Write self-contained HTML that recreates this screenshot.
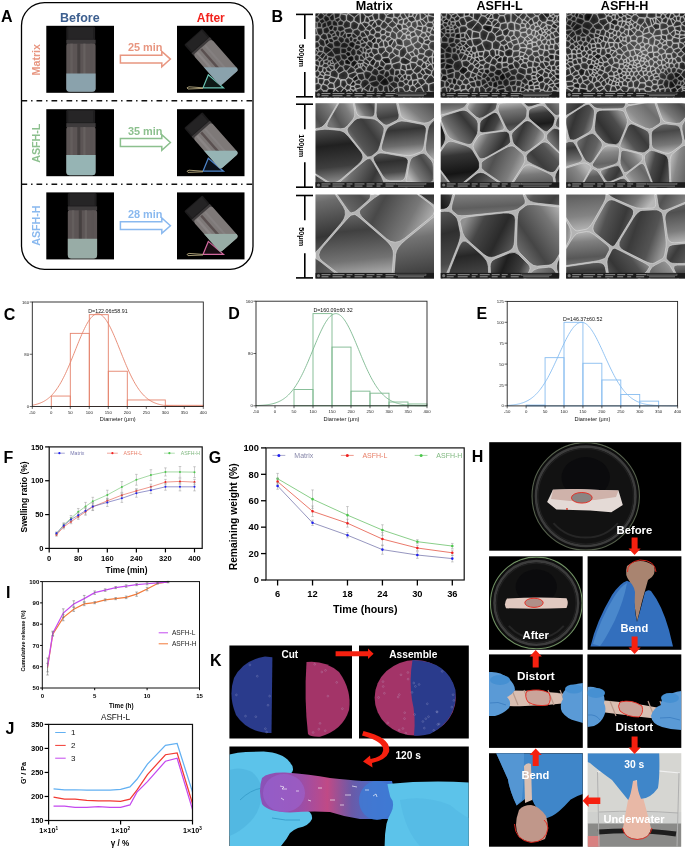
<!DOCTYPE html>
<html><head><meta charset="utf-8"><style>
html,body{margin:0;padding:0;background:#fff;width:685px;height:848px;overflow:hidden}
svg{display:block;will-change:transform}
text{font-family:"Liberation Sans", sans-serif}
</style></head><body>
<svg width="685" height="848" viewBox="0 0 685 848">
<text x="0.90" y="21.90" font-size="16" fill="#000" font-weight="bold" text-anchor="start">A</text>
<text x="271.50" y="21.80" font-size="16" fill="#000" font-weight="bold" text-anchor="start">B</text>
<text x="3.80" y="320.30" font-size="16" fill="#000" font-weight="bold" text-anchor="start">C</text>
<text x="228.20" y="319.30" font-size="16" fill="#000" font-weight="bold" text-anchor="start">D</text>
<text x="476.60" y="319.30" font-size="16" fill="#000" font-weight="bold" text-anchor="start">E</text>
<text x="3.60" y="462.50" font-size="16" fill="#000" font-weight="bold" text-anchor="start">F</text>
<text x="208.80" y="463.00" font-size="16" fill="#000" font-weight="bold" text-anchor="start">G</text>
<text x="471.80" y="461.90" font-size="16" fill="#000" font-weight="bold" text-anchor="start">H</text>
<text x="6.00" y="597.70" font-size="16" fill="#000" font-weight="bold" text-anchor="start">I</text>
<text x="5.50" y="733.60" font-size="16" fill="#000" font-weight="bold" text-anchor="start">J</text>
<text x="210.00" y="666.00" font-size="16" fill="#000" font-weight="bold" text-anchor="start">K</text>
<rect x="21.5" y="2.6" width="231.5" height="266.7" rx="23" ry="23" fill="none" stroke="#000" stroke-width="1.3"/>
<line x1="21.50" y1="100.80" x2="253.00" y2="100.80" stroke="#111" stroke-width="1.6" stroke-dasharray="5.7 3.9 1.4 4"/>
<line x1="21.50" y1="184.30" x2="253.00" y2="184.30" stroke="#111" stroke-width="1.6" stroke-dasharray="5.7 3.9 1.4 4"/>
<text x="79.80" y="21.80" font-size="12.5" fill="#3d5f8f" font-weight="bold" text-anchor="middle">Before</text>
<text x="210.80" y="21.80" font-size="12" fill="#f2231d" font-weight="bold" text-anchor="middle">After</text>
<text x="40.10" y="59.70" font-size="10.7" fill="#e89680" font-weight="bold" text-anchor="middle" transform="rotate(-90 40.099999999999994 59.7)">Matrix</text>
<path d="M120.4,55.2 L161.8,55.2 L161.8,51.4 L170.4,59.1 L161.8,66.8 L161.8,63.0 L120.4,63.0Z" fill="#fff" stroke="#e89680" stroke-width="1.5"/>
<text x="145.20" y="51.40" font-size="10.9" fill="#e89680" font-weight="bold" text-anchor="middle">25 min</text>
<rect x="46.30" y="25.80" width="67.70" height="67.00" fill="#000"/>
<rect x="66.30" y="26.40" width="28.80" height="13.5" rx="1.5" fill="#1e1d1e"/>
<rect x="68.30" y="27.40" width="24.80" height="11.5" fill="#262526"/>
<rect x="66.30" y="42.60" width="29.30" height="49.20" rx="3.5" fill="#5c5555"/>
<rect x="66.30" y="39.70" width="29.30" height="4" fill="#3e3b3c"/>
<rect x="70.30" y="43.60" width="2.5" height="47.20" fill="#66605f" opacity="0.8"/>
<rect x="77.30" y="43.60" width="3" height="47.20" fill="#403b3b" opacity="0.8"/>
<rect x="83.30" y="43.60" width="2.2" height="47.20" fill="#6a6463" opacity="0.8"/>
<rect x="90.30" y="43.60" width="2" height="47.20" fill="#5a5454" opacity="0.8"/>
<path d="M66.30,73.40 H95.60 V88.30 Q95.60,91.80 92.10,91.80 H69.80 Q66.30,91.80 66.30,88.30Z" fill="#8aa2ac"/>
<rect x="177.00" y="25.80" width="67.50" height="67.00" fill="#000"/>
<path d="M208.3,74.8 L203.0,87.8 L223.5,87.8Z" fill="#6cc4b4" fill-opacity="0.12" stroke="#6cc4b4" stroke-width="1.2"/>
<path d="M203.0,87.8 L189.0,86.8 Q185.5,87.8 188.0,89.0 L203.0,88.4" fill="none" stroke="#b8aa80" stroke-width="0.9"/>
<clipPath id="cv1"><rect x="-14.4" y="-16.4" width="28.9" height="49.2" rx="3.5" transform="translate(211.30,57.30) rotate(-41.4) scale(0.84)"/></clipPath>
<g transform="translate(211.30,57.30) rotate(-41.4) scale(0.84)">
<rect x="-14.4" y="-32.6" width="28.8" height="13.5" rx="1.5" fill="#1c1b1c"/>
<rect x="-12.4" y="-31.6" width="24.8" height="11.5" fill="#242324"/>
<rect x="-14.4" y="-19.3" width="28.9" height="4" fill="#3e3b3c"/>
<rect x="-14.4" y="-16.4" width="28.9" height="49.2" rx="3.5" fill="#7e7978"/>
<rect x="-10.4" y="-15.4" width="3" height="47" fill="#8a8585"/>
<rect x="-4" y="-15.4" width="3" height="47" fill="#5a5050"/>
<rect x="2.6" y="-15.4" width="2.5" height="47" fill="#858080"/>
</g>
<rect x="177.0" y="67.3" width="67.5" height="30" fill="#8aa2ac" clip-path="url(#cv1)"/>
<text x="40.10" y="143.20" font-size="10.7" fill="#8cc08e" font-weight="bold" text-anchor="middle" transform="rotate(-90 40.099999999999994 143.2)">ASFH-L</text>
<path d="M120.4,138.6 L161.8,138.6 L161.8,134.8 L170.4,142.5 L161.8,150.2 L161.8,146.4 L120.4,146.4Z" fill="#fff" stroke="#8cc08e" stroke-width="1.5"/>
<text x="145.20" y="134.80" font-size="10.9" fill="#8cc08e" font-weight="bold" text-anchor="middle">35 min</text>
<rect x="46.30" y="109.20" width="67.70" height="67.00" fill="#000"/>
<rect x="66.30" y="109.80" width="28.80" height="13.5" rx="1.5" fill="#1e1d1e"/>
<rect x="68.30" y="110.80" width="24.80" height="11.5" fill="#262526"/>
<rect x="66.30" y="126.00" width="29.30" height="49.20" rx="3.5" fill="#5c5555"/>
<rect x="66.30" y="123.10" width="29.30" height="4" fill="#3e3b3c"/>
<rect x="70.30" y="127.00" width="2.5" height="47.20" fill="#66605f" opacity="0.8"/>
<rect x="77.30" y="127.00" width="3" height="47.20" fill="#403b3b" opacity="0.8"/>
<rect x="83.30" y="127.00" width="2.2" height="47.20" fill="#6a6463" opacity="0.8"/>
<rect x="90.30" y="127.00" width="2" height="47.20" fill="#5a5454" opacity="0.8"/>
<path d="M66.30,155.00 H95.60 V171.70 Q95.60,175.20 92.10,175.20 H69.80 Q66.30,175.20 66.30,171.70Z" fill="#96b4b4"/>
<rect x="177.00" y="109.20" width="67.50" height="67.00" fill="#000"/>
<path d="M208.3,158.2 L203.0,171.2 L223.5,171.2Z" fill="#4f86cc" fill-opacity="0.12" stroke="#4f86cc" stroke-width="1.2"/>
<path d="M203.0,171.2 L189.0,170.2 Q185.5,171.2 188.0,172.4 L203.0,171.8" fill="none" stroke="#b8aa80" stroke-width="0.9"/>
<clipPath id="cv2"><rect x="-14.4" y="-16.4" width="28.9" height="49.2" rx="3.5" transform="translate(211.30,140.70) rotate(-41.4) scale(0.84)"/></clipPath>
<g transform="translate(211.30,140.70) rotate(-41.4) scale(0.84)">
<rect x="-14.4" y="-32.6" width="28.8" height="13.5" rx="1.5" fill="#1c1b1c"/>
<rect x="-12.4" y="-31.6" width="24.8" height="11.5" fill="#242324"/>
<rect x="-14.4" y="-19.3" width="28.9" height="4" fill="#3e3b3c"/>
<rect x="-14.4" y="-16.4" width="28.9" height="49.2" rx="3.5" fill="#7e7978"/>
<rect x="-10.4" y="-15.4" width="3" height="47" fill="#8a8585"/>
<rect x="-4" y="-15.4" width="3" height="47" fill="#5a5050"/>
<rect x="2.6" y="-15.4" width="2.5" height="47" fill="#858080"/>
</g>
<rect x="177.0" y="150.7" width="67.5" height="30" fill="#96b4b4" clip-path="url(#cv2)"/>
<text x="40.10" y="225.60" font-size="10.7" fill="#8ab9ef" font-weight="bold" text-anchor="middle" transform="rotate(-90 40.099999999999994 225.6)">ASFH-H</text>
<path d="M120.4,221.8 L161.8,221.8 L161.8,218.0 L170.4,225.7 L161.8,233.4 L161.8,229.6 L120.4,229.6Z" fill="#fff" stroke="#8ab9ef" stroke-width="1.5"/>
<text x="145.20" y="218.00" font-size="10.9" fill="#8ab9ef" font-weight="bold" text-anchor="middle">28 min</text>
<rect x="46.30" y="192.40" width="67.70" height="67.00" fill="#000"/>
<rect x="67.80" y="193.00" width="28.80" height="13.5" rx="1.5" fill="#1e1d1e"/>
<rect x="69.80" y="194.00" width="24.80" height="11.5" fill="#262526"/>
<rect x="67.80" y="209.20" width="29.30" height="49.20" rx="3.5" fill="#5c5555"/>
<rect x="67.80" y="206.30" width="29.30" height="4" fill="#3e3b3c"/>
<rect x="71.80" y="210.20" width="2.5" height="47.20" fill="#66605f" opacity="0.8"/>
<rect x="78.80" y="210.20" width="3" height="47.20" fill="#403b3b" opacity="0.8"/>
<rect x="84.80" y="210.20" width="2.2" height="47.20" fill="#6a6463" opacity="0.8"/>
<rect x="91.80" y="210.20" width="2" height="47.20" fill="#5a5454" opacity="0.8"/>
<path d="M67.80,238.80 H97.10 V254.90 Q97.10,258.40 93.60,258.40 H71.30 Q67.80,258.40 67.80,254.90Z" fill="#98aca6"/>
<rect x="177.00" y="192.40" width="67.50" height="67.00" fill="#000"/>
<path d="M208.3,241.4 L203.0,254.4 L223.5,254.4Z" fill="#d46aa0" fill-opacity="0.12" stroke="#d46aa0" stroke-width="1.2"/>
<path d="M203.0,254.4 L189.0,253.4 Q185.5,254.4 188.0,255.6 L203.0,255.0" fill="none" stroke="#b8aa80" stroke-width="0.9"/>
<clipPath id="cv3"><rect x="-14.4" y="-16.4" width="28.9" height="49.2" rx="3.5" transform="translate(211.30,223.90) rotate(-41.4) scale(0.84)"/></clipPath>
<g transform="translate(211.30,223.90) rotate(-41.4) scale(0.84)">
<rect x="-14.4" y="-32.6" width="28.8" height="13.5" rx="1.5" fill="#1c1b1c"/>
<rect x="-12.4" y="-31.6" width="24.8" height="11.5" fill="#242324"/>
<rect x="-14.4" y="-19.3" width="28.9" height="4" fill="#3e3b3c"/>
<rect x="-14.4" y="-16.4" width="28.9" height="49.2" rx="3.5" fill="#7e7978"/>
<rect x="-10.4" y="-15.4" width="3" height="47" fill="#8a8585"/>
<rect x="-4" y="-15.4" width="3" height="47" fill="#5a5050"/>
<rect x="2.6" y="-15.4" width="2.5" height="47" fill="#858080"/>
</g>
<rect x="177.0" y="233.9" width="67.5" height="30" fill="#98aca6" clip-path="url(#cv3)"/>
<defs><radialGradient id="sg1" cx="0.5" cy="0.55" r="0.6"><stop offset="0" stop-color="#202020"/><stop offset="0.7" stop-color="#3a3a3a"/><stop offset="1" stop-color="#808080"/></radialGradient><radialGradient id="sg1d" cx="0.5" cy="0.5" r="0.6"><stop offset="0" stop-color="#080808"/><stop offset="0.7" stop-color="#262626"/><stop offset="1" stop-color="#777"/></radialGradient><linearGradient id="sl0" x1="0.04" y1="0.31" x2="0.96" y2="0.69"><stop offset="0" stop-color="#b8b8b8"/><stop offset="0.3" stop-color="#6a6a6a"/><stop offset="0.75" stop-color="#303030"/><stop offset="1" stop-color="#5a5a5a"/></linearGradient><linearGradient id="sl0d" x1="0.04" y1="0.31" x2="0.96" y2="0.69"><stop offset="0" stop-color="#8a8a8a"/><stop offset="0.3" stop-color="#303030"/><stop offset="0.7" stop-color="#0e0e0e"/><stop offset="1" stop-color="#404040"/></linearGradient><linearGradient id="sl1" x1="0.44" y1="0.00" x2="0.56" y2="1.00"><stop offset="0" stop-color="#b8b8b8"/><stop offset="0.3" stop-color="#6a6a6a"/><stop offset="0.75" stop-color="#303030"/><stop offset="1" stop-color="#5a5a5a"/></linearGradient><linearGradient id="sl1d" x1="0.44" y1="0.00" x2="0.56" y2="1.00"><stop offset="0" stop-color="#8a8a8a"/><stop offset="0.3" stop-color="#303030"/><stop offset="0.7" stop-color="#0e0e0e"/><stop offset="1" stop-color="#404040"/></linearGradient><linearGradient id="sl2" x1="0.90" y1="0.20" x2="0.10" y2="0.80"><stop offset="0" stop-color="#b8b8b8"/><stop offset="0.3" stop-color="#6a6a6a"/><stop offset="0.75" stop-color="#303030"/><stop offset="1" stop-color="#5a5a5a"/></linearGradient><linearGradient id="sl2d" x1="0.90" y1="0.20" x2="0.10" y2="0.80"><stop offset="0" stop-color="#8a8a8a"/><stop offset="0.3" stop-color="#303030"/><stop offset="0.7" stop-color="#0e0e0e"/><stop offset="1" stop-color="#404040"/></linearGradient><linearGradient id="sl3" x1="0.96" y1="0.69" x2="0.04" y2="0.31"><stop offset="0" stop-color="#b8b8b8"/><stop offset="0.3" stop-color="#6a6a6a"/><stop offset="0.75" stop-color="#303030"/><stop offset="1" stop-color="#5a5a5a"/></linearGradient><linearGradient id="sl3d" x1="0.96" y1="0.69" x2="0.04" y2="0.31"><stop offset="0" stop-color="#8a8a8a"/><stop offset="0.3" stop-color="#303030"/><stop offset="0.7" stop-color="#0e0e0e"/><stop offset="1" stop-color="#404040"/></linearGradient><linearGradient id="sl4" x1="0.56" y1="1.00" x2="0.44" y2="0.00"><stop offset="0" stop-color="#b8b8b8"/><stop offset="0.3" stop-color="#6a6a6a"/><stop offset="0.75" stop-color="#303030"/><stop offset="1" stop-color="#5a5a5a"/></linearGradient><linearGradient id="sl4d" x1="0.56" y1="1.00" x2="0.44" y2="0.00"><stop offset="0" stop-color="#8a8a8a"/><stop offset="0.3" stop-color="#303030"/><stop offset="0.7" stop-color="#0e0e0e"/><stop offset="1" stop-color="#404040"/></linearGradient><linearGradient id="sl5" x1="0.10" y1="0.80" x2="0.90" y2="0.20"><stop offset="0" stop-color="#b8b8b8"/><stop offset="0.3" stop-color="#6a6a6a"/><stop offset="0.75" stop-color="#303030"/><stop offset="1" stop-color="#5a5a5a"/></linearGradient><linearGradient id="sl5d" x1="0.10" y1="0.80" x2="0.90" y2="0.20"><stop offset="0" stop-color="#8a8a8a"/><stop offset="0.3" stop-color="#303030"/><stop offset="0.7" stop-color="#0e0e0e"/><stop offset="1" stop-color="#404040"/></linearGradient><radialGradient id="ovd"><stop offset="0" stop-color="#000" stop-opacity="0.45"/><stop offset="1" stop-color="#000" stop-opacity="0"/></radialGradient><radialGradient id="ovl"><stop offset="0" stop-color="#fff" stop-opacity="0.22"/><stop offset="1" stop-color="#fff" stop-opacity="0"/></radialGradient></defs>
<text x="374.20" y="10.00" font-size="12.6" fill="#000" font-weight="bold" text-anchor="middle">Matrix</text>
<text x="499.60" y="10.00" font-size="12.6" fill="#000" font-weight="bold" text-anchor="middle">ASFH-L</text>
<text x="624.60" y="10.00" font-size="12.6" fill="#000" font-weight="bold" text-anchor="middle">ASFH-H</text>
<clipPath id="semc11"><rect x="315.50" y="13.40" width="118.50" height="84.00"/></clipPath>
<g clip-path="url(#semc11)">
<rect x="315.50" y="13.40" width="118.50" height="84.00" fill="#3a3a3a"/>
<g stroke="#f0f0f0" stroke-width="0.55" stroke-opacity="0.9"><path d="M326.9,71.4L324.9,73.1L325.1,74.6L329.9,75.3L330.1,72.3Z" fill="url(#sg1)" fill-opacity="0.71"/><path d="M373.1,58.5L376.1,61.0L373.3,66.2L369.9,64.2L370.1,62.1Z" fill="url(#sg1d)" fill-opacity="0.78"/><path d="M388.6,70.8L385.6,70.9L383.9,75.3L384.9,77.3L386.5,77.7L389.9,75.1Z" fill="url(#sg1)" fill-opacity="1.00"/><path d="M313.0,41.9L313.6,42.4L313.0,45.4Z" fill="url(#sg1)" fill-opacity="0.72"/><path d="M329.7,42.3L333.0,42.8L333.7,41.0L331.9,38.2L328.3,39.0Z" fill="url(#sg1)" fill-opacity="0.97"/><path d="M430.8,63.9L431.7,64.1L432.4,63.2L432.1,56.5L432.1,56.5L428.7,57.7L428.2,60.1Z" fill="url(#sg1)" fill-opacity="0.70"/><path d="M322.9,51.9L319.4,51.6L318.0,52.4L316.9,54.7L319.6,56.1L323.2,52.4Z" fill="url(#sg1)" fill-opacity="0.96"/><path d="M325.0,74.9L329.9,75.6L330.3,76.6L328.1,79.3L324.6,79.5L324.0,78.5L324.1,76.4Z" fill="url(#sg1)" fill-opacity="0.77"/><path d="M428.9,91.5L424.9,93.4L422.3,98.9L423.3,99.8L436.3,99.8L436.2,97.8L434.4,92.7Z" fill="url(#sg1)" fill-opacity="0.97"/><path d="M387.8,85.6L389.2,91.8L390.3,92.2L393.2,90.5L394.1,88.8L389.3,84.3Z" fill="url(#sg1)" fill-opacity="0.81"/><path d="M358.6,49.1L360.6,46.9L360.2,45.2L355.6,44.4L354.0,48.2L356.2,49.9Z" fill="url(#sg1)" fill-opacity="1.00"/><path d="M373.4,43.8L373.0,47.7L377.6,48.8L378.9,47.2L378.2,44.0L376.1,42.9Z" fill="url(#sg1)" fill-opacity="0.95"/><path d="M399.2,93.9L403.6,97.0L403.8,98.2L401.8,99.7L396.8,99.7L393.9,98.1L396.3,94.1Z" fill="url(#sg1)" fill-opacity="0.92"/><path d="M346.1,48.1L348.5,45.9L348.1,44.0L344.2,42.1L341.3,43.7L340.3,46.9L341.0,47.9Z" fill="url(#sg1)" fill-opacity="0.88"/><path d="M324.6,79.9L323.3,83.9L327.2,85.5L329.5,82.5L328.1,79.7Z" fill="url(#sg1)" fill-opacity="0.72"/><path d="M414.6,18.4L412.3,16.4L409.1,16.8L407.6,18.0L409.1,20.6L411.6,22.2L415.4,20.5Z" fill="url(#sg1d)" fill-opacity="0.81"/><path d="M398.8,55.8L399.3,50.7L394.7,48.4L393.5,48.8L392.7,52.1L396.3,55.3Z" fill="url(#sg1)" fill-opacity="0.92"/><path d="M373.4,57.9L374.4,55.5L378.6,53.5L380.9,54.9L381.9,57.9L381.3,59.7L379.6,60.9L376.5,60.6L373.4,58.2Z" fill="url(#sg1)" fill-opacity="0.76"/><path d="M418.0,82.2L414.3,85.6L416.7,88.5L420.9,86.6L421.2,85.9Z" fill="url(#sg1)" fill-opacity="0.84"/><path d="M377.6,87.1L378.5,90.8L380.7,91.7L383.1,90.7L383.5,86.2L379.9,84.2Z" fill="url(#sg1)" fill-opacity="0.76"/><path d="M436.4,25.7L433.8,25.3L432.8,22.2L435.4,17.5L436.4,16.9Z" fill="url(#sg1)" fill-opacity="0.90"/><path d="M334.7,64.2L334.2,66.0L334.5,69.4L336.1,70.1L339.6,65.6L338.0,62.7L337.6,62.6Z" fill="url(#sg1)" fill-opacity="1.00"/><path d="M378.9,71.0L376.9,68.5L379.6,65.7L383.5,67.6L383.7,68.8Z" fill="url(#sg1d)" fill-opacity="0.83"/><path d="M369.4,24.7L368.8,23.0L370.0,21.0L373.9,20.2L374.9,20.8L371.3,25.7Z" fill="url(#sg1)" fill-opacity="0.90"/><path d="M355.7,89.1L361.1,87.4L360.2,84.9L355.9,84.2L354.6,86.4Z" fill="url(#sg1)" fill-opacity="0.80"/><path d="M390.3,59.9L388.4,57.5L382.4,58.0L381.8,59.8L385.9,63.8L390.8,63.5Z" fill="url(#sg1d)" fill-opacity="0.87"/><path d="M344.3,96.7L344.8,99.8L338.7,99.7L338.3,97.8L340.6,95.6Z" fill="url(#sg1)" fill-opacity="0.74"/><path d="M415.7,28.6L415.2,28.9L411.4,25.9L411.8,22.6L415.6,20.9L416.7,21.3L417.3,25.8Z" fill="url(#sg1)" fill-opacity="0.95"/><path d="M421.9,59.5L424.7,55.9L423.8,54.2L419.2,53.7L417.4,56.1L418.4,59.1Z" fill="url(#sg1)" fill-opacity="0.90"/><path d="M324.5,40.2L320.6,38.0L320.5,36.1L323.3,33.6L326.4,34.1L327.7,38.7Z" fill="url(#sg1)" fill-opacity="1.00"/><path d="M368.7,65.2L369.7,64.6L373.1,66.6L374.0,68.1L371.1,72.0L366.0,70.4L366.8,67.7Z" fill="url(#sg1)" fill-opacity="0.95"/><path d="M344.9,64.4L350.3,65.3L350.6,66.3L346.5,71.0L344.6,70.3L343.2,66.5Z" fill="url(#sg1)" fill-opacity="0.86"/><path d="M323.3,52.6L319.8,56.3L320.0,57.1L322.4,59.1L325.9,54.2Z" fill="url(#sg1)" fill-opacity="0.95"/><path d="M426.7,36.4L423.7,38.2L424.6,40.4L428.7,39.3L428.3,37.0Z" fill="url(#sg1)" fill-opacity="0.88"/><path d="M365.6,52.9L363.3,53.0L362.8,53.3L361.7,54.9L364.6,58.7L365.5,58.4L365.9,57.9L365.6,52.9Z" fill="url(#sg1)" fill-opacity="0.86"/><path d="M329.5,42.7L332.9,43.2L333.7,47.0L331.7,49.2L325.9,45.6L325.9,45.6Z" fill="url(#sg1)" fill-opacity="0.96"/><path d="M394.6,88.9L398.0,87.4L399.0,93.4L396.1,93.7L393.7,90.6Z" fill="url(#sg1)" fill-opacity="0.68"/><path d="M340.5,53.5L340.5,48.2L339.9,47.2L334.2,47.3L332.1,49.5L332.0,50.2L335.1,54.9L340.0,54.1Z" fill="url(#sg1)" fill-opacity="0.68"/><path d="M432.0,56.1L433.4,51.2L429.3,49.2L425.7,50.7L424.2,54.0L425.1,55.7L428.5,57.2Z" fill="url(#sg1)" fill-opacity="0.85"/><path d="M338.4,36.8L336.4,35.3L335.3,32.5L335.4,32.0L337.4,30.6L340.0,32.0L339.4,36.1Z" fill="url(#sg1)" fill-opacity="0.96"/><path d="M317.5,34.4L313.1,35.0L313.1,28.4L316.0,28.6Z" fill="url(#sg1)" fill-opacity="0.88"/><path d="M338.2,99.8L337.8,97.9L335.4,98.1L334.2,99.8Z" fill="url(#sg1)" fill-opacity="1.00"/><path d="M356.9,37.9L357.3,36.6L352.8,32.8L352.3,33.3L351.7,35.9L353.2,38.2Z" fill="url(#sg1)" fill-opacity="0.87"/><path d="M373.9,87.6L372.6,91.8L369.1,91.2L371.0,85.9Z" fill="url(#sg1)" fill-opacity="0.84"/><path d="M425.7,62.9L426.7,66.8L429.5,64.6Z" fill="url(#sg1)" fill-opacity="0.95"/><path d="M353.9,21.0L358.9,24.1L357.4,28.6L353.2,30.0L350.7,27.4L350.9,22.7Z" fill="url(#sg1)" fill-opacity="0.90"/><path d="M330.6,76.8L336.8,78.5L333.7,83.1L329.9,82.3L328.5,79.5Z" fill="url(#sg1)" fill-opacity="0.88"/><path d="M371.6,74.4L371.0,72.4L365.9,70.9L364.2,71.8L363.6,72.9L365.2,78.6L367.8,79.7Z" fill="url(#sg1)" fill-opacity="1.00"/><path d="M396.8,75.9L399.6,78.7L402.1,75.7L402.1,75.6L400.0,73.8Z" fill="url(#sg1)" fill-opacity="0.88"/><path d="M317.9,48.0L314.8,48.7L317.7,52.1L319.1,51.2Z" fill="url(#sg1)" fill-opacity="0.91"/><path d="M314.1,71.9L313.2,71.4L313.3,68.4L315.2,65.1L318.5,66.5L317.5,70.3Z" fill="url(#sg1d)" fill-opacity="0.89"/><path d="M421.4,31.1L415.9,29.1L415.4,29.4L414.7,31.6L416.6,35.3L418.3,36.5L419.7,35.9L421.9,32.5Z" fill="url(#sg1)" fill-opacity="0.70"/><path d="M353.4,67.7L351.0,66.5L346.8,71.2L348.5,74.2L355.2,71.5L355.0,69.7Z" fill="url(#sg1)" fill-opacity="0.73"/><path d="M356.0,54.2L355.9,50.3L353.7,48.5L352.7,48.6L350.5,52.0L351.3,55.2L353.8,56.0Z" fill="url(#sg1)" fill-opacity="0.73"/><path d="M323.4,91.1L320.8,88.7L316.7,91.0L319.7,95.1L321.9,94.8Z" fill="url(#sg1)" fill-opacity="0.85"/><path d="M329.0,32.9L331.4,34.6L334.8,32.4L334.9,31.8L332.5,30.4L330.0,30.7Z" fill="url(#sg1)" fill-opacity="0.91"/><path d="M313.0,86.6L313.7,84.5L313.0,83.0Z" fill="url(#sg1)" fill-opacity="0.99"/><path d="M420.9,99.8L422.8,99.8L422.0,99.2L421.9,99.3Z" fill="url(#sg1)" fill-opacity="0.64"/><path d="M368.4,91.9L369.0,91.6L372.5,92.3L374.1,94.3L370.0,99.4L367.0,97.4Z" fill="url(#sg1)" fill-opacity="0.82"/><path d="M326.4,98.0L328.0,98.9L328.6,99.8L324.2,99.8L325.6,98.2Z" fill="url(#sg1d)" fill-opacity="1.00"/><path d="M405.7,24.0L403.3,23.8L403.9,19.5L406.8,18.1L407.2,18.2L408.6,20.8Z" fill="url(#sg1)" fill-opacity="1.00"/><path d="M337.3,26.2L337.9,25.7L337.2,22.4L334.4,20.3L332.2,21.3L332.3,24.7L333.9,25.9Z" fill="url(#sg1)" fill-opacity="0.94"/><path d="M322.6,28.8L321.5,27.8L317.3,27.9L316.3,28.5L317.8,34.3L320.2,35.7L323.0,33.2Z" fill="url(#sg1)" fill-opacity="1.00"/><path d="M387.7,42.0L384.9,40.5L383.3,40.9L384.2,46.6L385.5,47.5L388.6,45.8Z" fill="url(#sg1)" fill-opacity="0.80"/><path d="M426.4,23.2L428.2,21.8L427.2,16.3L426.7,16.2L422.7,19.4Z" fill="url(#sg1)" fill-opacity="0.71"/><path d="M339.7,93.3L335.0,89.2L334.8,89.2L332.7,94.0L333.3,95.9L335.2,97.7L337.9,97.6L340.3,95.3Z" fill="url(#sg1)" fill-opacity="0.84"/><path d="M325.4,45.5L325.4,45.5L323.5,46.6L320.3,45.4L318.4,41.6L320.4,38.4L324.4,40.7Z" fill="url(#sg1)" fill-opacity="0.89"/><path d="M347.2,51.3L350.1,51.8L352.4,48.4L348.8,46.2L346.5,48.4Z" fill="url(#sg1)" fill-opacity="0.98"/><path d="M404.4,79.3L402.6,75.7L402.6,75.6L405.6,74.2L406.8,75.1L406.1,78.7Z" fill="url(#sg1)" fill-opacity="0.94"/><path d="M377.1,86.8L374.1,87.2L371.2,85.5L369.7,83.4L369.7,82.4L376.8,80.5L379.3,82.6L379.6,83.9Z" fill="url(#sg1)" fill-opacity="0.89"/><path d="M417.7,41.5L413.1,44.6L415.1,47.9L418.0,49.1L421.3,47.0L421.9,44.3Z" fill="url(#sg1)" fill-opacity="0.86"/><path d="M337.7,62.1L338.1,62.2L341.4,59.1L340.1,54.6L335.2,55.3L334.4,57.2Z" fill="url(#sg1)" fill-opacity="0.63"/><path d="M348.4,13.5L354.0,17.7L353.6,20.6L350.7,22.3L346.7,20.2L346.6,15.0Z" fill="url(#sg1)" fill-opacity="0.86"/><path d="M346.2,33.8L346.5,37.2L344.7,38.6L342.3,36.6L345.0,32.6Z" fill="url(#sg1)" fill-opacity="0.70"/><path d="M432.4,28.3L436.3,33.3L436.4,33.2L436.4,26.2L433.8,25.8L432.3,28.2Z" fill="url(#sg1)" fill-opacity="0.76"/><path d="M428.7,36.9L431.1,34.8L435.4,35.4L436.3,40.0L436.3,40.7L430.9,41.2L429.2,39.4Z" fill="url(#sg1)" fill-opacity="0.79"/><path d="M356.9,38.2L353.4,38.6L352.7,41.3L355.2,42.7L357.3,40.1Z" fill="url(#sg1)" fill-opacity="0.94"/><path d="M363.8,62.2L363.7,60.7L364.8,59.2L365.7,59.0L369.5,62.0L369.4,64.2L368.4,64.7Z" fill="url(#sg1)" fill-opacity="0.93"/><path d="M350.2,41.7L352.3,41.2L352.9,38.5L351.4,36.2L349.0,37.9Z" fill="url(#sg1)" fill-opacity="0.86"/><path d="M403.0,40.9L404.0,46.2L404.0,46.2L405.8,46.9L411.6,44.2L410.1,39.9L406.5,38.9Z" fill="url(#sg1)" fill-opacity="0.71"/><path d="M313.3,86.9L314.1,84.5L318.2,83.4L321.2,85.1L320.6,88.3L316.4,90.7L315.4,90.6L313.3,87.3Z" fill="url(#sg1)" fill-opacity="0.86"/><path d="M361.7,10.9L361.7,10.9L361.7,10.9Z" fill="url(#sg1)" fill-opacity="0.99"/><path d="M348.1,13.3L349.0,11.0L338.6,11.0L340.8,13.5L346.2,14.6Z" fill="url(#sg1)" fill-opacity="0.94"/><path d="M421.1,86.9L424.4,93.3L422.0,98.8L421.7,98.7L415.5,94.2L415.0,92.8L416.7,88.9Z" fill="url(#sg1)" fill-opacity="0.92"/><path d="M401.6,64.2L405.8,65.1L406.4,69.8L405.3,70.8L400.9,68.8Z" fill="url(#sg1)" fill-opacity="0.81"/><path d="M379.6,82.3L384.5,77.5L383.4,75.5L379.0,73.9L376.7,76.4L377.1,80.1Z" fill="url(#sg1)" fill-opacity="0.77"/><path d="M396.3,99.8L393.5,98.3L392.3,98.2L390.0,99.8Z" fill="url(#sg1)" fill-opacity="0.89"/><path d="M399.6,30.5L401.2,30.4L402.3,28.7L401.7,25.0L398.0,23.9L396.9,24.5L396.2,26.1Z" fill="url(#sg1d)" fill-opacity="0.98"/><path d="M407.5,99.6L404.2,98.1L404.1,96.9L405.8,92.4L409.5,90.5L414.5,92.9L415.0,94.2Z" fill="url(#sg1)" fill-opacity="0.83"/><path d="M430.0,32.3L431.9,28.3L431.9,28.2L427.5,27.7L426.9,31.3Z" fill="url(#sg1)" fill-opacity="0.90"/><path d="M331.6,59.9L329.8,60.7L328.9,60.7L327.8,59.5L327.9,56.6L333.2,57.6Z" fill="url(#sg1)" fill-opacity="0.99"/><path d="M394.9,70.0L394.1,75.4L393.7,75.7L390.3,74.9L389.0,70.7L392.1,67.4Z" fill="url(#sg1)" fill-opacity="0.78"/><path d="M327.6,85.7L328.7,88.2L334.3,88.6L333.6,83.5L329.8,82.8Z" fill="url(#sg1)" fill-opacity="0.83"/><path d="M367.1,36.4L369.8,34.2L369.5,31.3L365.6,29.7L363.9,31.6L367.1,36.4Z" fill="url(#sg1)" fill-opacity="0.70"/><path d="M408.9,52.6L407.5,52.1L406.1,47.3L411.8,44.5L412.7,44.8L414.7,48.1L412.7,51.3Z" fill="url(#sg1)" fill-opacity="0.76"/><path d="M427.2,15.8L428.2,15.2L429.1,11.1L421.1,11.0L426.7,15.7Z" fill="url(#sg1)" fill-opacity="0.66"/><path d="M409.9,35.0L411.0,37.8L410.2,39.5L406.8,38.5L406.5,35.4Z" fill="url(#sg1)" fill-opacity="0.84"/><path d="M313.3,99.6L313.3,99.9L318.5,99.9L317.5,99.2Z" fill="url(#sg1)" fill-opacity="0.96"/><path d="M356.8,92.3L355.3,94.6L357.3,97.1L357.4,97.1L359.7,93.3Z" fill="url(#sg1)" fill-opacity="0.90"/><path d="M333.4,63.2L330.9,63.3L330.1,61.1L331.8,60.2Z" fill="url(#sg1)" fill-opacity="0.87"/><path d="M328.0,93.6L332.3,93.8L334.5,89.0L334.3,88.9L328.7,88.6L326.8,91.0Z" fill="url(#sg1d)" fill-opacity="0.90"/><path d="M338.1,39.7L338.7,37.2L339.7,36.6L341.9,36.9L344.4,38.9L344.0,41.7L341.1,43.3Z" fill="url(#sg1)" fill-opacity="0.71"/><path d="M323.0,51.5L319.5,51.1L318.2,47.8L320.2,45.8L323.3,47.0Z" fill="url(#sg1)" fill-opacity="0.75"/><path d="M425.5,25.4L426.1,23.4L422.5,19.6L420.6,19.5L419.7,20.3L423.2,25.9Z" fill="url(#sg1)" fill-opacity="0.89"/><path d="M392.1,64.2L391.3,63.4L390.8,59.8L396.3,55.8L398.8,56.2L400.5,58.1L399.8,61.5Z" fill="url(#sg1)" fill-opacity="0.65"/><path d="M333.4,63.5L331.1,63.7L330.3,65.1L333.7,65.9L334.3,64.1Z" fill="url(#sg1)" fill-opacity="0.79"/><path d="M372.1,74.2L371.5,72.2L374.3,68.3L376.5,68.8L378.5,71.3L378.7,73.6L376.4,76.0Z" fill="url(#sg1)" fill-opacity="0.79"/><path d="M317.9,70.3L318.9,66.5L319.6,66.3L322.0,66.4L323.0,67.6L322.3,71.3L320.2,72.1Z" fill="url(#sg1)" fill-opacity="0.83"/><path d="M386.1,15.2L382.7,11.0L391.4,11.0L392.3,12.0Z" fill="url(#sg1)" fill-opacity="0.76"/><path d="M342.7,66.7L344.2,70.5L338.7,73.7L336.3,70.3L339.9,65.9Z" fill="url(#sg1)" fill-opacity="0.86"/><path d="M315.3,91.1L313.2,93.9L313.1,99.4L317.7,98.9L319.3,95.3L316.4,91.2Z" fill="url(#sg1)" fill-opacity="1.00"/><path d="M325.7,68.3L323.4,67.7L322.7,71.4L324.6,72.8L326.6,71.1Z" fill="url(#sg1)" fill-opacity="0.86"/><path d="M396.1,55.6L392.3,52.4L389.6,53.7L388.8,57.2L390.6,59.5Z" fill="url(#sg1)" fill-opacity="0.81"/><path d="M354.2,86.1L355.4,84.0L354.4,81.8L353.2,81.1L350.2,85.1L350.9,86.1Z" fill="url(#sg1d)" fill-opacity="0.91"/><path d="M395.7,25.9L396.5,24.3L392.4,20.9L388.2,24.3L388.5,25.5L392.3,28.1Z" fill="url(#sg1)" fill-opacity="0.89"/><path d="M355.5,89.7L356.5,92.1L355.0,94.2L352.6,93.8L353.6,90.7Z" fill="url(#sg1)" fill-opacity="0.66"/><path d="M331.5,50.2L331.6,49.5L325.7,45.9L323.7,47.1L323.4,51.7L323.7,52.2L326.2,53.8L326.3,53.8Z" fill="url(#sg1)" fill-opacity="1.00"/><path d="M353.2,90.6L352.3,93.8L351.8,94.1L349.5,90.1L350.5,89.3Z" fill="url(#sg1)" fill-opacity="0.84"/><path d="M361.9,39.1L359.9,40.8L357.7,39.9L357.3,38.0L357.8,36.8L359.9,35.6L362.2,37.8Z" fill="url(#sg1)" fill-opacity="0.72"/><path d="M429.8,64.8L430.7,64.5L431.6,64.6L433.4,69.2L431.8,71.1L426.5,68.0L426.9,67.0Z" fill="url(#sg1)" fill-opacity="0.57"/><path d="M327.1,85.9L328.2,88.3L326.4,90.8L323.8,90.7L321.1,88.3L321.6,85.1L323.1,84.3Z" fill="url(#sg1)" fill-opacity="0.94"/><path d="M323.6,76.3L320.0,74.5L317.7,77.3L318.3,78.1L323.5,78.5Z" fill="url(#sg1)" fill-opacity="0.93"/><path d="M381.6,60.1L379.9,61.3L379.7,65.3L383.7,67.2L385.6,64.0Z" fill="url(#sg1)" fill-opacity="1.00"/><path d="M428.7,15.3L429.5,11.1L436.3,11.1L436.3,16.5L435.3,17.0Z" fill="url(#sg1)" fill-opacity="0.71"/><path d="M397.7,18.1L400.2,15.7L402.2,18.9L398.7,20.3Z" fill="url(#sg1)" fill-opacity="0.99"/><path d="M317.4,60.2L319.9,57.5L322.2,59.4L322.2,59.6L319.7,61.5Z" fill="url(#sg1)" fill-opacity="0.95"/><path d="M407.7,99.8L407.7,99.8L415.2,94.5L421.6,99.0L420.4,99.8Z" fill="url(#sg1)" fill-opacity="0.73"/><path d="M395.2,70.1L399.5,69.9L399.7,73.5L396.6,75.6L394.4,75.4Z" fill="url(#sg1)" fill-opacity="1.00"/><path d="M328.2,38.7L331.7,37.8L331.9,37.0L331.2,35.0L328.8,33.2L326.8,34.1L328.1,38.6Z" fill="url(#sg1)" fill-opacity="0.81"/><path d="M373.9,19.9L372.3,15.4L368.4,17.2L369.9,20.6Z" fill="url(#sg1)" fill-opacity="0.73"/><path d="M313.1,55.3L313.1,48.6L314.6,48.8L317.5,52.3L316.5,54.5Z" fill="url(#sg1)" fill-opacity="0.91"/><path d="M413.2,51.6L415.0,48.3L417.9,49.6L418.8,53.4L417.1,55.8L415.3,55.5Z" fill="url(#sg1)" fill-opacity="0.71"/><path d="M399.2,55.8L399.8,50.7L403.8,46.7L405.7,47.4L407.0,52.3L403.8,56.8L400.9,57.7Z" fill="url(#sg1d)" fill-opacity="0.85"/><path d="M416.1,63.0L410.7,62.2L410.0,63.5L411.5,69.1L413.1,70.3L417.2,65.3Z" fill="url(#sg1)" fill-opacity="0.85"/><path d="M409.8,34.6L406.5,35.0L405.4,33.9L408.0,30.6L410.5,32.4Z" fill="url(#sg1)" fill-opacity="0.91"/><path d="M346.2,95.3L346.7,90.7L344.6,88.4L343.8,88.5L340.2,93.1L340.8,95.2L344.5,96.3Z" fill="url(#sg1d)" fill-opacity="0.87"/><path d="M410.2,34.7L411.4,37.6L416.2,35.5L414.3,31.7L411.0,32.5Z" fill="url(#sg1d)" fill-opacity="0.89"/><path d="M346.2,15.0L340.7,13.8L339.9,17.1L340.8,19.8L343.9,21.7L346.3,20.2Z" fill="url(#sg1)" fill-opacity="0.64"/><path d="M329.2,42.3L328.0,39.2L327.8,39.1L324.8,40.6L325.7,45.4Z" fill="url(#sg1d)" fill-opacity="0.82"/><path d="M361.5,92.7L364.7,97.5L361.8,99.6L361.1,99.6L357.6,97.4L360.0,93.4Z" fill="url(#sg1)" fill-opacity="0.83"/><path d="M377.1,25.9L375.1,20.9L375.1,20.9L371.6,25.9L373.0,27.8L374.2,28.2Z" fill="url(#sg1)" fill-opacity="0.87"/><path d="M346.5,33.7L352.0,33.3L351.2,35.9L348.8,37.5L346.9,37.3Z" fill="url(#sg1d)" fill-opacity="0.81"/><path d="M389.0,92.3L386.3,93.4L385.0,97.2L386.3,99.7L389.7,99.6L391.9,97.9L390.1,92.7Z" fill="url(#sg1)" fill-opacity="1.00"/><path d="M391.8,38.9L389.7,36.6L387.2,37.0L385.1,40.1L387.9,41.6Z" fill="url(#sg1)" fill-opacity="0.82"/><path d="M339.9,92.9L335.2,88.9L340.4,85.9L343.5,88.3Z" fill="url(#sg1)" fill-opacity="0.89"/><path d="M393.9,12.3L396.5,11.0L396.5,11.0L391.9,11.0L392.8,11.9Z" fill="url(#sg1)" fill-opacity="0.93"/><path d="M355.8,89.5L356.9,91.9L359.8,92.9L361.3,92.3L362.4,88.7L361.2,87.7L355.8,89.4Z" fill="url(#sg1)" fill-opacity="0.88"/><path d="M407.7,30.4L407.4,29.0L402.7,29.0L401.6,30.6L403.5,33.5L405.1,33.7Z" fill="url(#sg1)" fill-opacity="0.75"/><path d="M346.5,20.6L344.2,22.1L343.0,25.6L344.8,28.5L350.2,27.4L350.5,22.6Z" fill="url(#sg1)" fill-opacity="0.81"/><path d="M417.2,79.5L412.9,80.1L411.6,79.3L411.0,75.4L413.7,72.6L416.6,74.0L417.7,78.5Z" fill="url(#sg1)" fill-opacity="0.88"/><path d="M362.1,99.8L365.2,97.8L366.8,97.9L369.8,99.6L369.9,99.8Z" fill="url(#sg1)" fill-opacity="0.78"/><path d="M379.1,97.5L378.4,99.8L386.0,99.8L384.5,97.4L380.9,96.8Z" fill="url(#sg1)" fill-opacity="0.92"/><path d="M394.4,75.9L396.5,76.2L399.3,79.0L399.5,80.8L397.6,82.8L393.7,81.0L394.0,76.1Z" fill="url(#sg1)" fill-opacity="1.00"/><path d="M378.6,97.5L378.0,99.8L370.4,99.8L370.3,99.5L374.3,94.6L375.0,94.6Z" fill="url(#sg1)" fill-opacity="0.87"/><path d="M432.4,56.1L433.7,51.3L436.4,49.9L436.4,58.6L432.4,56.1Z" fill="url(#sg1)" fill-opacity="0.87"/><path d="M325.0,21.8L321.8,23.7L319.4,21.5L320.0,19.9L323.1,18.6Z" fill="url(#sg1)" fill-opacity="0.71"/><path d="M355.3,89.3L353.5,90.2L350.6,89.0L351.0,86.4L354.2,86.6L355.3,89.3Z" fill="url(#sg1)" fill-opacity="0.83"/><path d="M383.9,46.6L379.3,47.1L378.7,43.8L382.0,40.5L383.0,40.9Z" fill="url(#sg1)" fill-opacity="0.81"/><path d="M320.0,38.2L320.0,36.1L317.6,34.8L313.2,35.4L313.2,41.4L313.9,42.0L318.0,41.3Z" fill="url(#sg1)" fill-opacity="0.92"/><path d="M333.3,57.3L328.0,56.3L326.5,54.2L331.7,50.4L334.8,55.1L333.9,56.9Z" fill="url(#sg1)" fill-opacity="0.79"/><path d="M413.6,13.0L413.6,11.0L409.4,11.0L409.7,11.6L412.9,13.5Z" fill="url(#sg1)" fill-opacity="0.82"/><path d="M394.4,39.5L395.1,39.4L396.9,38.0L396.3,33.8L392.4,31.2L390.8,32.8L390.1,36.4L392.2,38.6Z" fill="url(#sg1)" fill-opacity="0.82"/><path d="M425.4,62.9L425.2,62.7L423.6,62.6L421.2,66.6L422.4,68.6L423.4,68.8L426.1,67.8L426.4,66.9Z" fill="url(#sg1)" fill-opacity="0.95"/><path d="M406.5,78.8L407.2,75.2L410.6,75.4L411.1,79.3L408.8,80.5Z" fill="url(#sg1)" fill-opacity="0.75"/><path d="M346.5,95.7L350.2,96.1L352.1,99.8L345.3,99.7L344.8,96.7Z" fill="url(#sg1)" fill-opacity="0.78"/><path d="M389.5,84.1L389.8,83.3L393.6,81.5L397.4,83.2L398.0,86.9L397.9,87.0L394.4,88.5Z" fill="url(#sg1)" fill-opacity="0.73"/><path d="M352.5,94.3L354.9,94.7L357.0,97.3L353.8,99.6L352.5,99.6L350.7,96.0L351.9,94.5Z" fill="url(#sg1)" fill-opacity="0.92"/><path d="M406.7,69.7L406.2,65.0L409.7,63.6L411.2,69.1Z" fill="url(#sg1)" fill-opacity="0.76"/><path d="M358.9,78.9L361.5,80.5L364.8,78.8L363.2,73.0L357.4,73.8L357.2,75.1Z" fill="url(#sg1)" fill-opacity="0.86"/><path d="M329.8,61.2L330.5,63.5L329.9,64.9L328.7,65.7L327.6,63.6L328.8,61.1Z" fill="url(#sg1)" fill-opacity="0.93"/><path d="M420.5,19.1L420.1,12.6L420.9,11.2L421.0,11.2L426.4,15.9L422.4,19.1Z" fill="url(#sg1)" fill-opacity="0.72"/><path d="M400.6,12.9L397.0,11.0L397.0,11.0L404.3,10.9L403.3,12.3Z" fill="url(#sg1)" fill-opacity="0.88"/><path d="M403.4,81.4L405.2,84.2L407.4,84.0L408.5,80.8L406.2,79.2L404.5,79.8Z" fill="url(#sg1)" fill-opacity="0.88"/><path d="M380.4,26.1L383.0,21.7L384.3,21.4L387.7,24.3L388.0,25.5L384.9,29.0L381.9,28.9Z" fill="url(#sg1)" fill-opacity="0.82"/><path d="M412.6,80.5L411.3,79.7L408.9,81.0L407.8,84.1L410.0,86.0L412.5,84.9Z" fill="url(#sg1)" fill-opacity="0.95"/><path d="M370.8,48.6L366.9,50.0L365.9,52.5L366.0,52.5L368.5,53.3L371.2,51.6L371.4,48.7Z" fill="url(#sg1)" fill-opacity="0.54"/><path d="M317.1,60.5L314.2,61.0L314.2,62.9L315.4,64.6L318.6,66.1L319.3,65.8L319.4,61.9Z" fill="url(#sg1)" fill-opacity="0.89"/><path d="M383.9,47.0L379.3,47.5L378.0,49.1L378.8,53.0L381.2,54.4L385.4,50.5L385.3,47.9Z" fill="url(#sg1)" fill-opacity="0.92"/><path d="M417.0,13.8L413.9,13.4L413.3,13.9L412.7,16.0L414.8,18.1Z" fill="url(#sg1)" fill-opacity="0.99"/><path d="M396.7,33.7L397.3,37.9L400.2,38.3L403.1,33.8L401.2,30.8L399.6,31.0Z" fill="url(#sg1)" fill-opacity="0.94"/><path d="M418.1,36.9L416.3,35.8L411.5,38.0L410.6,39.8L412.0,44.1L412.9,44.3L417.4,41.1Z" fill="url(#sg1)" fill-opacity="0.93"/><path d="M373.3,43.4L375.9,42.4L376.3,38.4L374.6,37.3L371.0,41.0Z" fill="url(#sg1d)" fill-opacity="0.80"/><path d="M423.2,75.3L425.8,73.8L423.2,69.3L422.3,69.1L420.1,72.2Z" fill="url(#sg1)" fill-opacity="0.89"/><path d="M325.2,22.1L326.0,22.4L327.0,26.5L322.9,28.4L321.8,27.4L322.0,24.1Z" fill="url(#sg1)" fill-opacity="0.84"/><path d="M421.5,47.3L418.2,49.4L419.3,53.3L423.8,53.8L425.3,50.5Z" fill="url(#sg1)" fill-opacity="0.87"/><path d="M358.6,67.3L355.4,69.4L353.8,67.3L357.4,63.0L357.7,63.3Z" fill="url(#sg1)" fill-opacity="0.90"/><path d="M321.9,95.3L319.7,95.6L318.1,99.0L319.0,99.7L323.7,99.7L325.1,98.0Z" fill="url(#sg1)" fill-opacity="0.82"/><path d="M392.3,18.6L386.3,17.0L384.6,21.1L388.0,24.0L392.2,20.6Z" fill="url(#sg1)" fill-opacity="0.80"/><path d="M372.2,15.1L373.4,12.2L372.5,11.0L362.1,11.0L362.0,11.0L365.9,16.1L368.2,16.8Z" fill="url(#sg1)" fill-opacity="0.78"/><path d="M365.6,28.1L361.8,23.4L364.5,22.1L368.2,23.2L369.0,24.9Z" fill="url(#sg1)" fill-opacity="0.85"/><path d="M422.6,26.7L417.8,26.1L416.0,28.8L421.5,30.8Z" fill="url(#sg1d)" fill-opacity="0.86"/><path d="M327.3,26.4L326.4,22.3L329.9,20.3L331.8,21.3L331.8,24.6L328.3,26.7Z" fill="url(#sg1)" fill-opacity="0.74"/><path d="M392.4,18.2L386.4,16.7L386.2,15.4L392.4,12.2L393.6,12.7L393.6,16.7Z" fill="url(#sg1)" fill-opacity="0.70"/><path d="M365.3,29.3L365.3,28.3L361.6,23.6L360.7,23.5L359.3,24.2L357.8,28.7L361.0,31.5L363.5,31.2Z" fill="url(#sg1)" fill-opacity="0.87"/><path d="M379.9,26.4L381.5,29.1L379.8,32.0L376.1,31.8L374.4,28.5L377.4,26.2Z" fill="url(#sg1)" fill-opacity="0.87"/><path d="M371.8,48.7L372.9,48.1L377.5,49.2L378.4,53.1L374.2,55.1L371.7,51.6Z" fill="url(#sg1)" fill-opacity="0.73"/><path d="M328.5,66.8L331.6,70.3L330.2,71.9L327.0,71.0L326.0,68.2Z" fill="url(#sg1)" fill-opacity="0.81"/><path d="M376.3,42.4L378.4,43.6L381.8,40.3L380.3,38.1L376.7,38.4Z" fill="url(#sg1)" fill-opacity="0.83"/><path d="M423.0,26.1L419.5,20.4L417.1,21.2L417.8,25.7L422.6,26.4Z" fill="url(#sg1)" fill-opacity="0.98"/><path d="M332.1,20.8L334.2,19.9L334.5,19.2L333.7,13.1L329.4,17.4L330.2,19.9Z" fill="url(#sg1)" fill-opacity="1.00"/><path d="M321.5,24.1L321.4,27.4L317.2,27.5L317.3,22.8L319.2,21.8Z" fill="url(#sg1)" fill-opacity="0.79"/><path d="M371.4,52.0L373.9,55.3L372.9,57.7L369.3,56.3L368.7,53.7Z" fill="url(#sg1)" fill-opacity="1.00"/><path d="M436.5,89.0L436.5,97.6L434.8,92.7Z" fill="url(#sg1)" fill-opacity="0.90"/><path d="M313.1,71.9L314.0,72.4L315.3,76.6L313.1,78.2Z" fill="url(#sg1)" fill-opacity="0.94"/><path d="M373.9,12.1L373.0,11.0L381.9,10.9L378.6,12.7Z" fill="url(#sg1d)" fill-opacity="1.00"/><path d="M325.6,15.0L328.8,11.0L320.7,11.0L320.9,11.7L324.3,15.1Z" fill="url(#sg1)" fill-opacity="0.72"/><path d="M366.4,49.8L364.6,47.6L363.1,47.8L363.3,52.5L365.6,52.4Z" fill="url(#sg1)" fill-opacity="0.81"/><path d="M339.9,46.8L340.8,43.6L337.7,40.0L334.2,41.2L333.4,43.0L334.2,46.8Z" fill="url(#sg1)" fill-opacity="0.89"/><path d="M399.9,69.9L400.7,69.2L405.2,71.1L405.4,73.9L402.4,75.3L400.2,73.4Z" fill="url(#sg1)" fill-opacity="0.81"/><path d="M384.2,20.9L382.9,21.2L379.0,18.9L379.1,13.0L382.2,11.2L382.4,11.2L385.7,15.5L385.9,16.7Z" fill="url(#sg1)" fill-opacity="0.82"/><path d="M346.5,33.3L352.0,33.0L352.4,32.4L352.9,30.3L350.3,27.8L345.0,28.9L344.5,30.4L345.3,32.3Z" fill="url(#sg1)" fill-opacity="0.67"/><path d="M345.3,79.6L341.0,79.5L338.3,77.9L338.8,74.0L344.4,70.8L346.4,71.5L348.1,74.5L348.0,77.2Z" fill="url(#sg1)" fill-opacity="0.70"/><path d="M423.3,62.4L420.9,66.4L417.6,65.1L416.6,62.8L418.4,59.6L421.9,60.0Z" fill="url(#sg1)" fill-opacity="0.79"/><path d="M408.8,53.1L407.4,52.6L404.1,57.0L410.1,60.5L411.6,57.1Z" fill="url(#sg1)" fill-opacity="0.75"/><path d="M362.7,88.8L363.7,88.7L368.0,91.7L366.7,97.4L365.0,97.3L361.8,92.5Z" fill="url(#sg1)" fill-opacity="0.83"/><path d="M361.0,11.2L360.1,13.0L360.7,23.0L361.6,23.0L364.2,21.6L365.5,16.4L361.8,11.2L361.6,11.2Z" fill="url(#sg1)" fill-opacity="1.00"/><path d="M407.9,27.5L407.4,28.6L402.7,28.6L402.2,24.9L403.2,24.2L405.6,24.6Z" fill="url(#sg1)" fill-opacity="0.78"/><path d="M432.7,63.2L436.3,62.3L436.3,59.0L432.3,56.5Z" fill="url(#sg1)" fill-opacity="0.74"/><path d="M319.9,61.9L319.7,65.8L322.2,65.9L323.8,63.1L323.5,60.9L322.5,59.8Z" fill="url(#sg1)" fill-opacity="0.82"/><path d="M360.8,99.8L354.1,99.8L357.3,97.7L357.4,97.7Z" fill="url(#sg1)" fill-opacity="0.70"/><path d="M376.6,68.2L379.3,65.4L379.5,61.3L376.4,61.2L373.6,66.4L374.4,67.9Z" fill="url(#sg1)" fill-opacity="0.73"/><path d="M324.2,79.8L322.9,83.8L321.4,84.7L318.5,83.0L318.3,78.4L323.6,78.8Z" fill="url(#sg1)" fill-opacity="0.89"/><path d="M317.4,77.1L319.7,74.2L319.9,72.5L317.7,70.7L314.3,72.2L315.6,76.6Z" fill="url(#sg1)" fill-opacity="0.89"/><path d="M338.3,25.6L337.7,22.3L340.6,20.2L343.8,22.0L342.6,25.4Z" fill="url(#sg1)" fill-opacity="0.94"/><path d="M360.0,67.2L360.3,64.0L357.9,63.3L358.9,67.1Z" fill="url(#sg1)" fill-opacity="0.88"/><path d="M406.1,35.4L406.3,38.5L402.9,40.5L400.4,38.4L403.4,34.0L405.0,34.2Z" fill="url(#sg1)" fill-opacity="0.82"/><path d="M394.2,39.9L390.7,45.9L389.0,45.7L388.2,41.9L391.9,39.1Z" fill="url(#sg1d)" fill-opacity="0.91"/><path d="M317.0,22.8L313.1,21.3L313.2,28.0L316.0,28.1L316.9,27.5Z" fill="url(#sg1)" fill-opacity="0.76"/><path d="M370.7,85.8L368.9,91.1L368.3,91.4L363.9,88.4L369.4,83.6Z" fill="url(#sg1)" fill-opacity="0.93"/><path d="M418.1,78.3L417.0,73.9L419.9,72.5L422.9,75.6L422.3,78.1Z" fill="url(#sg1)" fill-opacity="0.62"/><path d="M425.5,80.6L429.6,75.3L431.3,74.9L436.2,80.6L436.2,81.6L428.8,84.0L425.9,82.9Z" fill="url(#sg1)" fill-opacity="1.00"/><path d="M353.4,30.4L352.9,32.5L357.5,36.4L359.8,35.1L360.6,31.9L357.5,29.1Z" fill="url(#sg1)" fill-opacity="0.79"/><path d="M428.1,45.1L429.1,48.8L425.5,50.3L421.8,47.0L422.4,44.4L423.8,43.7Z" fill="url(#sg1)" fill-opacity="0.90"/><path d="M431.9,27.8L427.5,27.3L425.9,25.5L426.6,23.6L428.5,22.3L432.3,22.4L433.5,25.5Z" fill="url(#sg1)" fill-opacity="0.85"/><path d="M366.2,67.8L365.6,70.4L364.0,71.3L361.4,67.8L363.0,65.0Z" fill="url(#sg1)" fill-opacity="0.92"/><path d="M405.3,84.7L403.1,87.6L405.6,92.0L409.3,90.1L409.7,86.3L407.5,84.5Z" fill="url(#sg1)" fill-opacity="0.72"/><path d="M360.2,84.5L361.3,80.9L358.7,79.4L354.8,81.6L355.9,83.8Z" fill="url(#sg1)" fill-opacity="0.88"/><path d="M328.0,94.0L326.6,97.6L328.4,98.6L332.8,96.1L332.2,94.2Z" fill="url(#sg1)" fill-opacity="0.90"/><path d="M381.9,29.3L384.8,29.5L385.8,31.6L384.8,34.2L381.3,34.8L380.2,32.2Z" fill="url(#sg1)" fill-opacity="0.90"/><path d="M324.6,74.6L324.4,73.2L322.4,71.8L320.4,72.5L320.2,74.1L323.8,76.0Z" fill="url(#sg1)" fill-opacity="0.71"/><path d="M392.7,18.6L392.7,20.6L396.7,24.0L397.8,23.5L398.3,20.6L397.2,18.3L393.9,17.1Z" fill="url(#sg1)" fill-opacity="0.99"/><path d="M418.0,59.3L417.0,56.2L415.1,56.0L412.1,57.3L410.5,60.7L410.8,61.8L416.1,62.6Z" fill="url(#sg1)" fill-opacity="0.85"/><path d="M427.5,16.2L428.6,15.6L435.2,17.3L432.4,22.0L428.5,21.8Z" fill="url(#sg1)" fill-opacity="0.99"/><path d="M372.8,58.0L369.2,56.7L366.3,58.2L365.9,58.7L369.8,61.8L372.9,58.3Z" fill="url(#sg1)" fill-opacity="0.88"/><path d="M327.5,56.5L326.2,54.4L326.1,54.4L322.7,59.2L322.7,59.4L323.8,60.4L327.3,59.3Z" fill="url(#sg1)" fill-opacity="0.77"/><path d="M428.8,39.7L430.5,41.4L428.3,44.8L423.9,43.3L424.6,40.7Z" fill="url(#sg1d)" fill-opacity="0.77"/><path d="M424.1,40.6L423.5,43.2L422.1,43.9L418.0,41.1L418.5,36.9L419.9,36.4L423.2,38.4Z" fill="url(#sg1d)" fill-opacity="0.84"/><path d="M432.1,71.5L433.6,69.6L436.4,69.1L436.4,80.4L431.5,74.5Z" fill="url(#sg1)" fill-opacity="0.64"/><path d="M385.6,50.8L381.4,54.7L382.4,57.7L388.3,57.1L389.2,53.5Z" fill="url(#sg1)" fill-opacity="0.88"/><path d="M394.9,48.1L397.2,44.9L403.5,46.4L403.6,46.5L399.6,50.3Z" fill="url(#sg1)" fill-opacity="0.81"/><path d="M354.1,20.7L359.0,23.7L360.4,23.0L359.9,13.0L354.5,17.8Z" fill="url(#sg1)" fill-opacity="0.92"/><path d="M332.3,36.9L331.6,34.8L335.0,32.7L336.0,35.5Z" fill="url(#sg1)" fill-opacity="0.77"/><path d="M350.1,88.9L349.2,89.7L347.1,90.3L344.9,88.1L347.2,84.6L349.8,85.4L350.5,86.4Z" fill="url(#sg1)" fill-opacity="0.82"/><path d="M402.3,99.9L404.2,98.4L407.2,99.8L407.2,99.8Z" fill="url(#sg1)" fill-opacity="0.70"/><path d="M348.7,44.0L349.0,45.8L352.6,48.0L353.7,48.0L355.2,44.2L354.9,43.1L352.4,41.7L350.3,42.1Z" fill="url(#sg1d)" fill-opacity="0.76"/><path d="M402.7,87.9L405.3,92.1L403.7,96.7L399.3,93.4L398.3,87.4L398.4,87.2Z" fill="url(#sg1)" fill-opacity="0.84"/><path d="M377.2,87.3L374.2,87.7L373.0,92.0L374.4,94.1L375.1,94.0L378.0,91.0Z" fill="url(#sg1)" fill-opacity="0.81"/><path d="M369.6,30.9L372.6,28.1L371.1,26.1L369.2,25.2L365.9,28.3L365.8,29.4Z" fill="url(#sg1)" fill-opacity="0.75"/><path d="M436.5,33.7L436.4,33.8L435.8,35.4L436.5,39.8Z" fill="url(#sg1)" fill-opacity="0.77"/><path d="M330.6,72.3L330.4,75.4L330.8,76.4L336.9,78.2L337.9,77.8L338.3,73.9L335.9,70.6L334.3,69.9L332.0,70.6Z" fill="url(#sg1)" fill-opacity="0.84"/><path d="M370.8,40.8L368.6,40.5L367.4,36.7L370.2,34.6L373.8,35.4L374.4,37.1Z" fill="url(#sg1)" fill-opacity="0.71"/><path d="M328.5,98.9L329.1,99.8L333.7,99.8L334.9,98.0L332.9,96.3Z" fill="url(#sg1)" fill-opacity="1.00"/><path d="M428.6,45.1L429.6,48.7L433.6,50.8L436.3,49.5L436.3,41.1L430.8,41.7Z" fill="url(#sg1)" fill-opacity="0.83"/><path d="M376.7,80.2L376.2,76.4L371.9,74.7L368.1,79.9L369.6,82.1Z" fill="url(#sg1)" fill-opacity="0.59"/><path d="M352.1,78.7L348.5,77.2L348.6,74.4L355.3,71.8L357.0,73.7L356.7,75.0Z" fill="url(#sg1)" fill-opacity="0.97"/><path d="M329.9,30.4L328.4,27.0L332.0,25.0L333.5,26.2L332.4,29.9Z" fill="url(#sg1d)" fill-opacity="0.66"/><path d="M383.6,90.7L386.2,92.9L388.9,91.9L387.5,85.7L383.8,86.3Z" fill="url(#sg1)" fill-opacity="0.86"/><path d="M367.0,36.9L368.2,40.6L366.6,42.5L365.1,42.2L362.4,39.3L362.7,37.9L367.0,36.9Z" fill="url(#sg1)" fill-opacity="0.94"/><path d="M325.4,21.6L326.1,21.9L329.7,19.9L328.9,17.4L325.8,15.5L324.5,15.6L323.5,18.4Z" fill="url(#sg1)" fill-opacity="0.89"/><path d="M313.2,11.0L313.2,17.0L317.3,16.4L320.4,11.7L320.3,11.1Z" fill="url(#sg1)" fill-opacity="0.96"/><path d="M361.2,54.7L362.3,53.0L358.8,49.6L356.3,50.3L356.5,54.2L359.3,55.2Z" fill="url(#sg1)" fill-opacity="0.96"/><path d="M391.8,67.1L391.7,64.6L390.9,63.8L386.0,64.3L384.1,67.5L384.2,68.8L385.7,70.4L388.7,70.3Z" fill="url(#sg1)" fill-opacity="0.82"/><path d="M376.1,32.3L374.3,35.3L374.9,36.9L376.6,37.9L380.2,37.7L380.9,35.1L379.7,32.5Z" fill="url(#sg1)" fill-opacity="0.76"/><path d="M425.6,83.3L428.5,84.4L428.6,91.0L424.7,93.0L421.5,86.7L421.7,86.0Z" fill="url(#sg1)" fill-opacity="0.84"/><path d="M426.9,35.9L425.4,32.8L426.8,31.7L429.8,32.8L430.7,34.5L428.4,36.6Z" fill="url(#sg1)" fill-opacity="0.74"/><path d="M436.4,81.9L428.9,84.4L429.0,91.0L434.5,92.3L436.2,88.6Z" fill="url(#sg1)" fill-opacity="0.86"/><path d="M419.6,12.4L420.5,11.0L414.1,11.0L414.1,13.1L417.2,13.4Z" fill="url(#sg1)" fill-opacity="0.77"/><path d="M375.7,32.0L373.9,35.0L370.3,34.1L369.9,31.2L372.8,28.4L374.1,28.7Z" fill="url(#sg1)" fill-opacity="0.93"/><path d="M380.0,25.9L382.6,21.5L378.8,19.3L375.4,20.8L377.4,25.7Z" fill="url(#sg1)" fill-opacity="0.84"/><path d="M362.8,47.9L360.9,47.1L359.0,49.3L362.5,52.8L363.1,52.5Z" fill="url(#sg1)" fill-opacity="0.82"/><path d="M362.1,39.5L360.2,41.1L361.0,43.7L364.8,42.4Z" fill="url(#sg1)" fill-opacity="0.80"/><path d="M319.9,45.6L318.0,41.7L313.8,42.4L313.3,45.7L313.2,48.2L314.6,48.3L317.8,47.6Z" fill="url(#sg1)" fill-opacity="0.93"/><path d="M413.9,85.8L416.3,88.7L414.7,92.6L409.7,90.1L410.2,86.4L412.7,85.4Z" fill="url(#sg1)" fill-opacity="0.82"/><path d="M344.3,60.5L344.5,64.0L342.8,66.2L340.1,65.4L338.4,62.5L341.7,59.5Z" fill="url(#sg1)" fill-opacity="0.87"/><path d="M313.1,68.1L313.1,63.5L313.9,63.1L315.0,64.8Z" fill="url(#sg1)" fill-opacity="0.97"/><path d="M370.9,48.1L367.1,44.3L366.9,42.9L368.5,41.0L370.7,41.3L373.0,43.7L372.6,47.6L371.5,48.3Z" fill="url(#sg1)" fill-opacity="0.93"/><path d="M403.0,81.6L399.8,81.2L397.9,83.1L398.4,86.8L402.7,87.4L404.9,84.4Z" fill="url(#sg1)" fill-opacity="0.77"/><path d="M368.4,53.8L368.9,56.3L366.1,57.9L365.9,52.9Z" fill="url(#sg1)" fill-opacity="0.88"/><path d="M354.6,81.3L358.5,79.2L356.8,75.2L352.3,79.0L353.4,80.7Z" fill="url(#sg1d)" fill-opacity="0.97"/><path d="M393.4,90.9L395.8,94.0L393.6,97.8L392.2,97.8L390.4,92.6Z" fill="url(#sg1d)" fill-opacity="0.84"/><path d="M328.7,66.6L328.9,66.1L330.1,65.4L333.6,66.2L334.1,69.5L331.8,70.1Z" fill="url(#sg1)" fill-opacity="0.67"/><path d="M385.2,34.4L386.2,31.7L390.4,32.7L389.6,36.2L387.1,36.5Z" fill="url(#sg1)" fill-opacity="0.79"/><path d="M380.6,92.2L380.6,96.3L378.9,97.2L375.3,94.3L378.3,91.2Z" fill="url(#sg1)" fill-opacity="0.78"/><path d="M417.7,79.8L418.3,81.8L421.4,85.6L425.4,82.9L424.9,80.7L422.4,78.5L418.2,78.7Z" fill="url(#sg1)" fill-opacity="0.85"/><path d="M361.6,87.3L360.7,84.7L361.8,81.0L365.1,79.2L367.7,80.2L369.2,82.4L369.2,83.4L363.7,88.2L362.7,88.3Z" fill="url(#sg1)" fill-opacity="1.00"/><path d="M410.8,32.1L414.2,31.4L415.0,29.2L411.1,26.2L408.4,27.8L407.9,28.9L408.3,30.2Z" fill="url(#sg1)" fill-opacity="0.91"/><path d="M313.1,93.5L315.0,90.8L313.1,87.6Z" fill="url(#sg1)" fill-opacity="0.80"/><path d="M392.1,30.8L390.5,32.3L386.3,31.4L385.2,29.3L388.3,25.8L392.1,28.5Z" fill="url(#sg1)" fill-opacity="0.95"/><path d="M337.1,78.7L334.1,83.4L334.6,88.5L334.8,88.7L335.0,88.7L340.3,85.5L340.6,80.0L338.0,78.3Z" fill="url(#sg1)" fill-opacity="0.73"/><path d="M317.0,60.0L314.1,60.6L313.2,59.0L313.2,55.7L316.6,55.0L319.3,56.5L319.5,57.2Z" fill="url(#sg1)" fill-opacity="0.81"/><path d="M328.6,32.7L326.6,33.6L323.5,33.2L323.1,28.7L327.2,26.9L328.1,27.2L329.5,30.6Z" fill="url(#sg1)" fill-opacity="0.91"/><path d="M357.6,40.3L359.7,41.2L360.6,43.8L360.2,44.9L355.7,44.1L355.4,43.0Z" fill="url(#sg1)" fill-opacity="0.82"/><path d="M348.6,13.3L349.5,11.0L360.7,11.0L359.7,12.8L354.3,17.4Z" fill="url(#sg1)" fill-opacity="1.00"/><path d="M379.2,73.5L383.5,75.2L385.3,70.7L383.8,69.1L379.0,71.3Z" fill="url(#sg1)" fill-opacity="0.99"/><path d="M425.2,80.4L429.3,75.1L425.9,74.2L423.4,75.7L422.7,78.1Z" fill="url(#sg1)" fill-opacity="0.69"/><path d="M334.1,40.8L332.2,37.9L332.4,37.2L336.2,35.8L338.2,37.1L337.6,39.6Z" fill="url(#sg1)" fill-opacity="0.88"/><path d="M380.1,83.8L379.9,82.6L384.7,77.8L386.4,78.2L389.3,83.2L389.0,83.9L387.4,85.2L383.8,85.8Z" fill="url(#sg1d)" fill-opacity="0.74"/><path d="M361.4,55.2L364.4,58.9L363.3,60.4L359.5,59.8L359.6,55.7Z" fill="url(#sg1)" fill-opacity="0.74"/><path d="M349.9,85.0L352.9,80.9L351.8,79.1L348.3,77.6L345.7,79.9L347.3,84.1Z" fill="url(#sg1)" fill-opacity="0.73"/><path d="M362.5,63.4L360.4,63.5L358.1,63.0L357.7,62.7L357.4,61.6L359.4,60.2L363.2,60.7L363.2,62.2Z" fill="url(#sg1)" fill-opacity="0.79"/><path d="M318.9,21.4L317.0,22.4L313.3,21.0L313.2,17.4L317.2,16.9L319.5,19.7Z" fill="url(#sg1)" fill-opacity="0.82"/><path d="M381.0,92.1L380.9,96.4L384.6,97.1L385.9,93.2L383.3,91.1Z" fill="url(#sg1)" fill-opacity="0.98"/><path d="M390.2,75.4L386.7,78.0L389.6,82.9L393.3,81.0L393.7,76.1Z" fill="url(#sg1)" fill-opacity="0.91"/><path d="M400.3,61.6L401.0,58.2L403.9,57.3L410.0,60.8L410.3,61.9L409.5,63.3L405.9,64.6L401.6,63.8Z" fill="url(#sg1d)" fill-opacity="0.88"/><path d="M357.2,62.8L356.9,61.7L354.2,60.2L351.2,62.6L350.8,65.1L351.1,66.0L353.5,67.2Z" fill="url(#sg1d)" fill-opacity="0.87"/><path d="M394.4,40.0L395.2,39.9L396.8,44.7L394.6,47.9L393.3,48.3L391.0,46.0Z" fill="url(#sg1)" fill-opacity="0.75"/><path d="M369.6,20.7L368.1,17.3L365.9,16.6L364.6,21.7L368.4,22.8Z" fill="url(#sg1)" fill-opacity="0.80"/><path d="M337.4,22.0L340.3,19.9L339.4,17.2L335.0,19.3L334.7,20.0Z" fill="url(#sg1)" fill-opacity="0.94"/><path d="M408.2,27.4L411.0,25.8L411.4,22.6L408.9,21.1L406.0,24.3Z" fill="url(#sg1)" fill-opacity="0.91"/><path d="M430.3,32.6L432.2,28.4L436.1,33.5L435.4,35.0L431.2,34.4Z" fill="url(#sg1)" fill-opacity="0.90"/><path d="M416.8,73.5L413.9,72.2L413.4,70.6L417.4,65.5L420.8,66.9L422.0,68.9L419.7,72.0Z" fill="url(#sg1)" fill-opacity="0.70"/><path d="M425.8,62.7L425.6,62.5L427.9,60.3L430.5,64.1L429.6,64.4Z" fill="url(#sg1)" fill-opacity="0.90"/><path d="M328.2,66.5L328.3,65.9L327.2,63.8L324.2,63.4L322.4,66.2L323.5,67.3L325.8,67.8Z" fill="url(#sg1)" fill-opacity="0.66"/><path d="M334.8,19.0L334.0,12.9L334.6,11.1L338.2,11.1L340.3,13.6L339.4,16.8Z" fill="url(#sg1)" fill-opacity="0.73"/><path d="M363.0,47.4L361.1,46.7L360.7,45.1L361.1,44.0L364.9,42.7L366.5,42.9L366.5,44.3L364.5,47.1Z" fill="url(#sg1)" fill-opacity="0.91"/><path d="M394.0,16.7L394.0,12.7L396.8,11.2L400.4,13.2L400.0,15.3L397.4,17.8Z" fill="url(#sg1)" fill-opacity="0.81"/><path d="M370.7,48.3L366.8,44.5L364.9,47.3L366.8,49.6Z" fill="url(#sg1)" fill-opacity="0.97"/><path d="M374.3,19.8L372.7,15.3L373.8,12.4L378.7,13.1L378.5,18.9L375.2,20.4L375.2,20.4Z" fill="url(#sg1)" fill-opacity="0.68"/><path d="M407.3,17.7L406.9,17.6L403.8,12.5L404.7,11.1L409.0,11.1L409.3,11.7L408.7,16.4Z" fill="url(#sg1)" fill-opacity="0.91"/><path d="M323.0,18.2L324.1,15.4L320.7,11.8L317.6,16.6L319.9,19.5Z" fill="url(#sg1)" fill-opacity="0.99"/><path d="M395.5,39.8L397.3,38.4L400.1,38.8L402.6,40.8L403.6,46.2L397.2,44.5Z" fill="url(#sg1d)" fill-opacity="1.00"/><path d="M313.2,82.5L313.2,78.6L315.4,77.1L317.3,77.6L317.9,78.3L318.1,82.9L314.0,84.1Z" fill="url(#sg1)" fill-opacity="0.87"/><path d="M344.8,32.4L344.1,30.6L340.4,32.1L339.8,36.1L342.0,36.4Z" fill="url(#sg1)" fill-opacity="1.00"/><path d="M403.0,81.1L399.9,80.8L399.8,79.0L402.3,75.9L404.1,79.6Z" fill="url(#sg1)" fill-opacity="0.54"/><path d="M396.4,33.4L392.6,30.9L392.6,28.5L395.9,26.3L399.4,30.7Z" fill="url(#sg1)" fill-opacity="0.76"/><path d="M366.9,36.5L362.5,37.5L360.2,35.2L361.1,32.0L363.5,31.7Z" fill="url(#sg1)" fill-opacity="0.80"/><path d="M347.9,56.8L351.0,55.3L350.0,52.2L347.2,51.7L345.5,53.8Z" fill="url(#sg1d)" fill-opacity="0.91"/><path d="M420.2,19.2L419.8,12.7L417.3,14.0L415.2,18.3L415.9,20.4L416.9,20.8L419.3,19.9Z" fill="url(#sg1)" fill-opacity="0.76"/><path d="M345.2,53.6L346.8,51.5L346.1,48.5L340.9,48.2L340.9,53.5Z" fill="url(#sg1)" fill-opacity="0.89"/><path d="M313.1,59.4L313.1,63.0L313.8,62.6L313.8,61.0Z" fill="url(#sg1)" fill-opacity="0.92"/><path d="M344.5,87.9L346.9,84.3L345.3,80.1L341.0,80.0L340.8,85.5L343.8,87.9Z" fill="url(#sg1)" fill-opacity="1.00"/><path d="M417.2,79.9L413.0,80.5L412.8,84.9L414.1,85.3L417.7,82.0Z" fill="url(#sg1)" fill-opacity="0.89"/><path d="M328.5,61.0L327.2,63.4L324.2,63.0L323.9,60.8L327.4,59.7Z" fill="url(#sg1)" fill-opacity="0.76"/><path d="M432.0,64.5L433.6,69.1L436.3,68.7L436.3,62.7L432.7,63.6Z" fill="url(#sg1)" fill-opacity="0.87"/><path d="M351.5,94.2L350.3,95.7L346.6,95.3L347.1,90.8L349.3,90.2Z" fill="url(#sg1)" fill-opacity="0.99"/><path d="M383.1,40.4L382.2,40.0L380.7,37.9L381.4,35.2L384.8,34.7L386.8,36.8L384.7,40.0Z" fill="url(#sg1)" fill-opacity="0.74"/><path d="M348.1,57.2L351.2,55.7L353.6,56.5L354.0,59.8L351.0,62.2L347.4,58.9Z" fill="url(#sg1d)" fill-opacity="0.93"/><path d="M359.2,55.6L356.3,54.6L354.1,56.4L354.5,59.8L357.1,61.3L359.1,59.8Z" fill="url(#sg1)" fill-opacity="0.89"/><path d="M327.6,93.8L326.3,97.5L325.4,97.7L322.3,94.9L323.8,91.2L326.5,91.3Z" fill="url(#sg1)" fill-opacity="0.97"/><path d="M362.6,63.7L360.6,64.0L360.3,67.2L361.1,67.5L362.6,64.8Z" fill="url(#sg1)" fill-opacity="0.91"/><path d="M337.7,30.2L337.7,26.6L338.3,26.0L342.6,25.9L344.5,28.8L344.0,30.2L340.2,31.6Z" fill="url(#sg1)" fill-opacity="0.93"/><path d="M426.2,73.7L423.5,69.2L426.4,68.3L431.7,71.4L431.1,74.4L429.5,74.8Z" fill="url(#sg1)" fill-opacity="0.96"/><path d="M347.2,59.2L350.7,62.5L350.3,65.0L345.0,64.0L344.7,60.4Z" fill="url(#sg1d)" fill-opacity="0.97"/><path d="M347.6,57.0L345.2,54.1L340.9,53.8L340.4,54.5L341.9,59.0L344.4,60.0L347.0,58.8Z" fill="url(#sg1)" fill-opacity="0.76"/><path d="M395.2,69.6L399.5,69.5L400.4,68.8L401.2,64.1L399.9,61.9L392.1,64.5L392.4,67.1Z" fill="url(#sg1)" fill-opacity="0.92"/><path d="M427.6,60.0L428.3,57.6L425.0,56.2L422.3,59.8L423.7,62.1L425.3,62.2Z" fill="url(#sg1)" fill-opacity="0.87"/><path d="M344.9,39.0L344.4,41.7L348.3,43.7L349.9,41.8L348.6,38.0L346.7,37.7Z" fill="url(#sg1)" fill-opacity="0.91"/><path d="M360.1,67.7L360.9,68.0L363.8,71.5L363.1,72.6L357.4,73.4L355.7,71.5L355.5,69.7L358.9,67.7Z" fill="url(#sg1)" fill-opacity="1.00"/><path d="M402.5,18.7L403.6,19.1L406.6,17.7L403.5,12.6L400.8,13.4L400.5,15.5Z" fill="url(#sg1)" fill-opacity="0.87"/><path d="M409.0,52.9L411.9,56.9L415.0,55.6L412.8,51.8Z" fill="url(#sg1)" fill-opacity="0.72"/><path d="M388.9,46.2L385.8,47.9L385.9,50.5L389.4,53.2L392.2,52.0L393.0,48.6L390.6,46.4Z" fill="url(#sg1)" fill-opacity="0.73"/><path d="M335.2,31.5L337.2,30.2L337.3,26.6L333.9,26.3L332.8,30.0Z" fill="url(#sg1)" fill-opacity="0.96"/><path d="M333.7,63.1L332.1,60.1L333.5,57.7L334.1,57.3L337.5,62.3L334.5,63.7Z" fill="url(#sg1)" fill-opacity="0.80"/><path d="M406.8,70.1L405.7,71.1L405.9,73.9L407.2,74.8L410.7,75.0L413.4,72.3L412.9,70.7L411.3,69.5Z" fill="url(#sg1)" fill-opacity="0.86"/><path d="M398.8,20.7L402.4,19.2L403.5,19.5L402.9,23.8L401.9,24.5L398.2,23.5Z" fill="url(#sg1)" fill-opacity="0.89"/><path d="M426.5,36.0L425.0,32.9L422.3,32.8L420.0,36.1L423.4,37.9Z" fill="url(#sg1)" fill-opacity="0.89"/><path d="M412.3,16.0L412.8,13.8L409.6,11.8L409.1,16.5Z" fill="url(#sg1)" fill-opacity="0.85"/><path d="M363.0,63.6L363.2,64.7L366.4,67.5L368.3,64.9L363.6,62.4Z" fill="url(#sg1)" fill-opacity="1.00"/><path d="M329.2,17.0L333.5,12.9L334.2,11.0L329.2,11.1L326.0,15.2Z" fill="url(#sg1)" fill-opacity="0.93"/><path d="M426.5,31.3L427.1,27.7L425.5,25.8L423.4,26.5L423.0,26.8L421.9,30.9L422.3,32.3L425.1,32.4Z" fill="url(#sg1)" fill-opacity="0.80"/></g>
</g>
<rect x="315.50" y="91.80" width="118.50" height="5.60" fill="#1c1c1c"/>
<circle cx="318.50" cy="94.60" r="1.6" fill="#777"/>
<rect x="321.50" y="93.00" width="9" height="1.1" fill="#8a8a8a"/>
<rect x="321.50" y="95.10" width="7" height="1.1" fill="#8a8a8a"/>
<rect x="332.50" y="93.00" width="12" height="1.1" fill="#8a8a8a"/>
<rect x="332.50" y="95.10" width="10" height="1.1" fill="#8a8a8a"/>
<rect x="346.50" y="93.00" width="6" height="1.1" fill="#8a8a8a"/>
<rect x="346.50" y="95.10" width="4" height="1.1" fill="#8a8a8a"/>
<rect x="354.50" y="93.00" width="10" height="1.1" fill="#8a8a8a"/>
<rect x="354.50" y="95.10" width="8" height="1.1" fill="#8a8a8a"/>
<rect x="366.50" y="93.00" width="8" height="1.1" fill="#8a8a8a"/>
<rect x="366.50" y="95.10" width="6" height="1.1" fill="#8a8a8a"/>
<rect x="376.50" y="93.00" width="6" height="1.1" fill="#8a8a8a"/>
<rect x="376.50" y="95.10" width="4" height="1.1" fill="#8a8a8a"/>
<rect x="385.50" y="93.00" width="10" height="1.1" fill="#8a8a8a"/>
<rect x="385.50" y="95.10" width="8" height="1.1" fill="#8a8a8a"/>
<rect x="396.00" y="93.00" width="30" height="1.3" fill="none" stroke="#888" stroke-width="0.5"/>
<rect x="398.00" y="95.20" width="26" height="1" fill="#7a7a7a"/>
<g clip-path="url(#semc11)">
<ellipse cx="341.6" cy="48.7" rx="35.5" ry="29.4" fill="url(#ovd)"/>
<ellipse cx="327.4" cy="21.2" rx="23.7" ry="16.8" fill="url(#ovd)"/>
<ellipse cx="410.3" cy="36.9" rx="35.5" ry="33.6" fill="url(#ovl)"/>
<ellipse cx="380.7" cy="80.0" rx="29.6" ry="16.8" fill="url(#ovd)"/>
</g>
<clipPath id="semc12"><rect x="440.70" y="13.40" width="118.50" height="84.00"/></clipPath>
<g clip-path="url(#semc12)">
<rect x="440.70" y="13.40" width="118.50" height="84.00" fill="#3a3a3a"/>
<g stroke="#f0f0f0" stroke-width="0.55" stroke-opacity="0.9"><path d="M469.0,11.3L469.0,11.0L463.8,11.0L464.5,12.2Z" fill="url(#sg1d)" fill-opacity="0.81"/><path d="M556.2,66.6L561.4,64.5L561.4,60.7L561.4,60.7L555.7,60.9L554.5,65.1Z" fill="url(#sg1)" fill-opacity="0.86"/><path d="M465.0,32.4L460.6,33.2L459.9,32.7L459.3,27.6L461.6,26.1L465.8,25.8L467.7,28.9L465.6,32.0Z" fill="url(#sg1)" fill-opacity="0.86"/><path d="M458.6,79.2L457.1,79.6L454.3,77.4L454.6,72.2L455.1,71.2L458.5,71.4L461.1,74.0Z" fill="url(#sg1)" fill-opacity="0.63"/><path d="M483.8,51.2L485.0,50.2L481.7,43.4L476.2,46.5L477.4,51.5L478.0,51.8Z" fill="url(#sg1)" fill-opacity="1.00"/><path d="M461.3,90.1L465.6,88.9L465.9,85.2L462.4,84.1L460.2,86.4L460.5,89.2Z" fill="url(#sg1)" fill-opacity="0.98"/><path d="M517.7,38.8L520.6,36.3L524.5,38.3L524.5,39.4L523.0,42.4L519.4,43.7L518.8,43.4Z" fill="url(#sg1)" fill-opacity="1.00"/><path d="M451.8,83.1L450.1,83.5L447.0,80.5L447.8,78.8L452.2,78.9Z" fill="url(#sg1)" fill-opacity="0.78"/><path d="M549.9,13.0L552.6,13.0L553.4,14.3L550.0,15.7Z" fill="url(#sg1)" fill-opacity="1.00"/><path d="M542.3,43.4L544.3,44.2L546.0,43.7L547.2,40.2L545.4,38.8L541.7,41.0Z" fill="url(#sg1)" fill-opacity="0.90"/><path d="M506.9,44.4L503.9,45.8L505.3,50.4L509.0,48.5Z" fill="url(#sg1d)" fill-opacity="0.76"/><path d="M449.7,27.2L449.9,29.6L449.8,29.6L446.2,29.3L445.3,27.7L447.9,25.9L449.0,26.1Z" fill="url(#sg1)" fill-opacity="0.96"/><path d="M466.1,32.3L468.1,29.1L471.3,29.9L472.3,31.2L471.6,38.5L471.4,38.8L470.1,38.7Z" fill="url(#sg1)" fill-opacity="0.84"/><path d="M490.9,98.1L491.8,99.7L484.2,99.7L488.9,97.3Z" fill="url(#sg1)" fill-opacity="0.90"/><path d="M497.4,19.6L494.4,19.2L493.2,18.0L492.7,14.6L496.7,11.8L499.4,15.5Z" fill="url(#sg1)" fill-opacity="0.70"/><path d="M494.9,49.9L492.2,48.9L489.4,51.1L490.1,54.6L492.6,57.6L493.6,57.5L495.5,55.2Z" fill="url(#sg1)" fill-opacity="1.00"/><path d="M557.7,91.1L554.7,95.8L552.5,95.7L551.4,92.3L552.9,90.6Z" fill="url(#sg1)" fill-opacity="1.00"/><path d="M466.7,49.0L469.7,47.1L471.4,47.1L470.9,50.5L469.3,51.8L466.2,50.3Z" fill="url(#sg1)" fill-opacity="0.82"/><path d="M459.1,49.4L460.3,50.3L460.3,52.4L458.2,54.4L456.0,52.7L456.9,49.8Z" fill="url(#sg1)" fill-opacity="0.91"/><path d="M523.1,56.5L520.1,56.6L520.6,58.8L522.6,59.5L523.5,58.3Z" fill="url(#sg1)" fill-opacity="0.87"/><path d="M558.2,21.7L553.8,22.4L553.6,22.0L556.5,20.0Z" fill="url(#sg1d)" fill-opacity="1.00"/><path d="M551.6,25.8L553.6,23.4L557.8,26.6L556.1,29.1L552.0,27.2Z" fill="url(#sg1d)" fill-opacity="0.86"/><path d="M542.7,75.3L544.2,78.0L548.1,77.2L548.5,73.6L544.4,71.6Z" fill="url(#sg1)" fill-opacity="0.71"/><path d="M444.1,68.2L440.7,69.0L438.6,66.9L438.6,64.3L445.3,62.2L446.0,63.3Z" fill="url(#sg1)" fill-opacity="0.76"/><path d="M558.2,26.8L561.0,25.7L561.5,25.8L561.5,35.7L560.8,35.5L556.4,30.6L556.5,29.4Z" fill="url(#sg1)" fill-opacity="0.87"/><path d="M519.0,55.7L513.7,57.5L512.3,56.1L513.4,51.2L519.0,50.8L519.7,51.7Z" fill="url(#sg1)" fill-opacity="0.71"/><path d="M482.8,28.9L482.6,25.8L485.0,24.7L491.7,25.9L492.5,26.8L492.5,27.0L491.3,31.5L488.9,32.1Z" fill="url(#sg1d)" fill-opacity="0.92"/><path d="M462.7,81.3L462.7,83.7L466.1,84.8L469.0,83.2L469.2,82.2L467.9,79.2L465.7,78.5Z" fill="url(#sg1)" fill-opacity="0.72"/><path d="M540.5,99.0L540.2,99.6L537.4,99.5L533.7,94.9L534.6,93.3L539.1,93.0Z" fill="url(#sg1)" fill-opacity="1.00"/><path d="M520.4,64.5L523.1,62.6L522.5,59.9L520.4,59.2L518.2,61.6Z" fill="url(#sg1)" fill-opacity="1.00"/><path d="M539.0,19.7L536.9,22.5L533.9,23.1L532.3,18.7L535.7,16.2L538.0,16.1Z" fill="url(#sg1)" fill-opacity="0.91"/><path d="M464.6,54.0L464.4,53.1L460.6,52.8L458.4,54.8L459.7,59.6L460.9,59.9Z" fill="url(#sg1)" fill-opacity="0.97"/><path d="M456.9,80.0L456.3,83.9L454.6,84.5L452.2,83.1L452.6,78.9L454.1,77.8Z" fill="url(#sg1d)" fill-opacity="0.82"/><path d="M536.9,71.4L536.7,71.9L532.8,71.9L532.0,67.4L532.9,66.8L535.7,67.8Z" fill="url(#sg1)" fill-opacity="1.00"/><path d="M554.5,54.5L554.5,59.6L555.6,60.5L561.3,60.4L560.0,56.2L555.0,54.1Z" fill="url(#sg1)" fill-opacity="0.96"/><path d="M490.7,81.0L487.6,82.4L487.4,82.9L489.6,86.3L492.3,86.9L492.8,82.6Z" fill="url(#sg1)" fill-opacity="0.81"/><path d="M475.3,59.6L478.6,61.8L479.5,60.7L478.1,57.2L475.2,58.1L474.9,58.3Z" fill="url(#sg1d)" fill-opacity="0.99"/><path d="M461.1,91.8L456.1,96.6L454.7,96.1L454.1,94.3L455.0,90.8L460.1,89.6L461.0,90.5Z" fill="url(#sg1)" fill-opacity="0.97"/><path d="M534.5,86.1L534.6,88.8L539.6,88.5L538.7,85.2Z" fill="url(#sg1)" fill-opacity="1.00"/><path d="M551.9,70.2L554.6,70.3L555.9,68.8L555.8,67.0L554.3,65.4L551.5,66.1Z" fill="url(#sg1)" fill-opacity="0.98"/><path d="M526.8,63.1L528.7,60.8L533.0,62.1L532.6,66.4L531.7,67.0L528.0,67.3Z" fill="url(#sg1)" fill-opacity="0.68"/><path d="M509.6,81.3L509.5,85.0L511.4,85.9L515.2,84.8L516.5,80.3L516.1,79.9Z" fill="url(#sg1)" fill-opacity="0.69"/><path d="M527.9,22.4L527.5,22.5L525.7,24.5L525.6,27.2L527.4,28.6L529.6,28.2L530.2,25.7Z" fill="url(#sg1)" fill-opacity="0.96"/><path d="M506.8,44.1L503.7,45.4L501.0,44.6L500.0,42.3L504.6,39.6L507.3,42.5Z" fill="url(#sg1)" fill-opacity="0.93"/><path d="M508.9,71.0L504.2,73.3L502.9,72.7L501.3,69.5L502.6,67.6L507.5,67.0L509.2,70.2Z" fill="url(#sg1)" fill-opacity="0.79"/><path d="M554.1,54.5L554.1,59.6L550.5,59.9L548.4,56.5L549.7,54.3Z" fill="url(#sg1d)" fill-opacity="0.85"/><path d="M473.6,19.6L477.6,21.3L477.7,21.7L471.4,29.3L468.1,28.6L466.2,25.5L466.9,23.0Z" fill="url(#sg1)" fill-opacity="0.84"/><path d="M467.1,40.0L465.9,41.5L460.8,40.7L460.3,39.0L460.8,38.1L464.5,37.7Z" fill="url(#sg1)" fill-opacity="0.80"/><path d="M558.3,21.9L553.8,22.6L553.8,23.1L558.1,26.3L560.9,25.3L560.1,22.5Z" fill="url(#sg1)" fill-opacity="0.81"/><path d="M558.3,88.4L561.3,85.0L561.4,82.1L554.9,84.1L554.9,85.5Z" fill="url(#sg1d)" fill-opacity="0.75"/><path d="M500.5,23.7L499.5,27.9L493.0,26.9L493.0,26.6L498.3,21.9Z" fill="url(#sg1)" fill-opacity="0.88"/><path d="M541.5,68.8L537.2,71.3L536.2,67.6L539.1,65.9Z" fill="url(#sg1)" fill-opacity="0.82"/><path d="M532.0,18.9L533.6,23.2L533.4,23.7L530.5,25.4L528.2,22.2L530.8,19.0Z" fill="url(#sg1d)" fill-opacity="0.93"/><path d="M558.5,21.4L556.9,19.7L557.6,16.0L561.5,14.2L561.4,17.3L560.3,22.1Z" fill="url(#sg1)" fill-opacity="0.95"/><path d="M553.8,44.3L555.0,43.2L553.9,39.4L551.2,39.1L549.8,40.1L550.9,44.1Z" fill="url(#sg1)" fill-opacity="0.85"/><path d="M498.3,85.8L502.9,85.0L505.0,87.1L504.7,88.2L497.8,89.5L496.8,88.1Z" fill="url(#sg1)" fill-opacity="0.96"/><path d="M492.9,87.7L496.4,88.4L497.3,89.8L497.3,90.1L494.3,94.4L494.2,94.4L491.6,91.2Z" fill="url(#sg1)" fill-opacity="1.00"/><path d="M523.9,58.6L523.0,59.8L523.5,62.5L526.4,62.8L528.3,60.5L527.9,58.9Z" fill="url(#sg1)" fill-opacity="0.77"/><path d="M512.7,91.3L511.5,86.3L515.4,85.3L516.8,86.7L516.0,91.2Z" fill="url(#sg1)" fill-opacity="0.71"/><path d="M490.4,64.6L489.2,68.8L490.3,71.7L494.0,72.2L496.4,69.0L494.8,66.0Z" fill="url(#sg1)" fill-opacity="0.91"/><path d="M474.0,99.6L469.7,98.9L469.6,98.8L474.7,95.4L475.8,99.7Z" fill="url(#sg1)" fill-opacity="0.65"/><path d="M551.8,27.6L556.0,29.4L555.9,30.7L552.7,32.6L551.5,32.6L550.2,30.3Z" fill="url(#sg1)" fill-opacity="0.93"/><path d="M540.6,29.1L538.0,31.4L539.3,34.1L541.2,34.8L541.7,34.7L542.3,32.8Z" fill="url(#sg1d)" fill-opacity="1.00"/><path d="M450.2,33.5L450.1,36.7L448.2,38.0L444.7,35.5L444.8,34.5L446.0,33.0L449.8,33.0Z" fill="url(#sg1)" fill-opacity="0.79"/><path d="M485.5,89.0L482.5,86.0L487.1,83.1L489.3,86.5Z" fill="url(#sg1)" fill-opacity="0.71"/><path d="M537.1,99.7L530.3,99.6L531.3,95.7L533.4,95.0Z" fill="url(#sg1)" fill-opacity="0.98"/><path d="M550.5,79.5L547.3,83.7L545.7,83.5L543.6,81.4L544.3,78.4L548.2,77.6L550.3,78.6Z" fill="url(#sg1)" fill-opacity="0.90"/><path d="M547.4,20.2L552.4,21.1L553.1,22.1L553.3,22.6L553.3,23.1L551.3,25.5L546.7,24.4L546.0,22.6Z" fill="url(#sg1)" fill-opacity="0.88"/><path d="M522.1,22.8L525.3,24.1L527.2,22.2L524.1,20.0L522.4,20.3Z" fill="url(#sg1)" fill-opacity="0.87"/><path d="M447.9,42.1L441.8,42.1L441.5,38.0L444.5,35.8L448.0,38.3Z" fill="url(#sg1)" fill-opacity="0.91"/><path d="M462.6,45.6L460.3,42.5L460.8,41.0L465.9,41.8L465.8,43.2L463.7,45.4Z" fill="url(#sg1)" fill-opacity="0.83"/><path d="M462.2,45.8L460.0,42.7L456.8,44.5L456.8,44.8L459.8,46.9L462.1,46.0Z" fill="url(#sg1)" fill-opacity="0.68"/><path d="M447.2,23.3L443.4,22.6L442.8,24.3L444.7,27.3L445.0,27.4L447.6,25.6Z" fill="url(#sg1)" fill-opacity="0.93"/><path d="M523.5,56.3L525.1,53.6L528.4,56.1L527.9,58.5L523.9,58.2Z" fill="url(#sg1)" fill-opacity="0.89"/><path d="M471.8,72.0L474.8,67.3L477.9,68.7L478.6,69.7L478.5,71.3L476.5,74.0L471.8,72.0Z" fill="url(#sg1)" fill-opacity="0.88"/><path d="M520.8,86.6L521.8,82.6L525.3,84.8L523.6,87.5L521.3,87.2Z" fill="url(#sg1)" fill-opacity="0.76"/><path d="M448.8,20.4L446.3,19.2L443.4,21.3L443.5,22.3L447.3,22.9Z" fill="url(#sg1d)" fill-opacity="0.99"/><path d="M545.4,96.5L549.5,98.7L549.6,99.7L540.6,99.7L541.0,99.2Z" fill="url(#sg1)" fill-opacity="0.83"/><path d="M527.2,36.2L524.7,37.9L520.8,36.0L520.8,32.9L526.1,32.2L527.5,35.3Z" fill="url(#sg1)" fill-opacity="0.85"/><path d="M533.0,51.3L537.6,50.8L539.2,48.7L538.7,46.7L537.3,45.9L532.7,47.1L531.7,48.9Z" fill="url(#sg1)" fill-opacity="0.95"/><path d="M512.7,91.7L516.0,91.7L517.8,93.0L518.6,99.6L514.4,99.5L511.3,96.2L511.3,93.3Z" fill="url(#sg1)" fill-opacity="0.91"/><path d="M498.1,21.7L497.4,20.0L494.3,19.8L492.1,22.7L492.1,25.6L492.8,26.5Z" fill="url(#sg1)" fill-opacity="0.97"/><path d="M462.2,46.3L460.0,47.3L459.4,49.1L460.6,49.9L462.1,49.2Z" fill="url(#sg1d)" fill-opacity="0.85"/><path d="M554.3,39.2L555.4,43.2L557.6,43.6L561.2,40.7L561.3,40.2L561.4,36.1L560.8,36.0L555.6,37.8Z" fill="url(#sg1)" fill-opacity="0.86"/><path d="M454.2,18.0L451.6,17.0L451.4,15.4L456.4,13.0L457.4,15.4Z" fill="url(#sg1)" fill-opacity="0.85"/><path d="M503.9,15.3L505.6,13.7L504.6,11.1L497.0,11.1L497.0,11.7L499.8,15.2Z" fill="url(#sg1)" fill-opacity="1.00"/><path d="M450.1,27.2L450.2,29.6L453.3,29.3L452.5,27.4Z" fill="url(#sg1)" fill-opacity="0.90"/><path d="M451.4,53.7L445.5,52.1L444.8,53.5L445.2,58.3L445.6,58.8L451.1,57.6Z" fill="url(#sg1)" fill-opacity="0.93"/><path d="M522.8,11.1L523.6,12.1L525.6,12.5L527.9,11.1Z" fill="url(#sg1)" fill-opacity="0.84"/><path d="M546.5,25.5L547.6,28.7L548.5,29.6L549.8,30.0L551.5,27.3L551.2,25.9L546.6,24.8Z" fill="url(#sg1)" fill-opacity="0.86"/><path d="M491.5,97.9L492.2,99.6L497.7,99.6L497.4,96.6L494.3,94.9L494.2,94.9Z" fill="url(#sg1)" fill-opacity="1.00"/><path d="M533.0,51.7L537.6,51.2L539.4,55.1L538.1,56.4L535.1,57.1L532.5,54.2Z" fill="url(#sg1)" fill-opacity="0.79"/><path d="M546.2,33.5L544.1,35.8L545.5,37.9L548.1,34.8Z" fill="url(#sg1)" fill-opacity="0.78"/><path d="M536.9,72.7L535.4,75.6L532.0,75.5L531.0,74.3L532.8,72.3L536.7,72.3Z" fill="url(#sg1)" fill-opacity="0.76"/><path d="M482.3,41.0L481.5,43.0L476.0,46.1L473.6,45.5L471.7,39.2L471.9,38.9L479.8,37.9Z" fill="url(#sg1)" fill-opacity="0.89"/><path d="M456.5,84.3L459.7,86.4L460.0,89.3L454.9,90.4L453.5,88.6L454.7,85.0Z" fill="url(#sg1)" fill-opacity="0.74"/><path d="M464.0,16.3L464.1,12.4L463.4,11.2L457.1,11.2L456.8,12.9L458.0,15.3L460.4,17.4L463.6,16.9Z" fill="url(#sg1)" fill-opacity="0.96"/><path d="M441.4,42.2L438.9,45.6L438.4,45.7L438.4,36.8L441.2,38.2Z" fill="url(#sg1d)" fill-opacity="0.97"/><path d="M449.3,99.7L442.8,99.6L440.8,95.7L441.5,94.7L446.1,94.7Z" fill="url(#sg1)" fill-opacity="0.95"/><path d="M528.9,56.2L532.2,54.4L534.8,57.5L534.0,61.1L533.1,61.7L528.8,60.4L528.4,58.7Z" fill="url(#sg1)" fill-opacity="0.81"/><path d="M547.3,18.5L549.8,16.4L553.2,17.9L552.4,20.7L547.5,19.9Z" fill="url(#sg1)" fill-opacity="1.00"/><path d="M446.7,11.2L447.0,12.1L445.7,16.8L442.7,16.9L440.1,12.7L443.7,11.3Z" fill="url(#sg1)" fill-opacity="0.83"/><path d="M528.2,94.2L530.9,95.6L529.9,99.6L522.6,99.7L524.8,96.0Z" fill="url(#sg1)" fill-opacity="0.70"/><path d="M532.2,43.1L532.5,42.3L536.1,42.3L537.2,45.5L532.6,46.7Z" fill="url(#sg1)" fill-opacity="0.99"/><path d="M518.9,99.6L522.3,99.5L524.3,95.9L523.0,92.3L520.4,91.6L518.2,93.0Z" fill="url(#sg1)" fill-opacity="0.90"/><path d="M502.6,34.4L502.2,30.8L500.1,29.4L495.0,34.1L496.2,36.8Z" fill="url(#sg1)" fill-opacity="0.95"/><path d="M501.5,62.7L497.8,62.4L495.2,65.8L496.9,68.8L500.9,69.2L502.1,67.3L501.8,63.0Z" fill="url(#sg1)" fill-opacity="0.88"/><path d="M525.2,27.6L521.2,28.1L519.6,30.7L520.7,32.5L526.0,31.8L527.1,29.0Z" fill="url(#sg1)" fill-opacity="0.88"/><path d="M468.1,90.1L471.2,86.8L469.2,83.6L466.3,85.3L466.0,88.8Z" fill="url(#sg1)" fill-opacity="0.78"/><path d="M533.1,84.8L529.3,85.7L528.2,84.1L528.6,81.3L531.4,80.6L533.2,83.0Z" fill="url(#sg1d)" fill-opacity="0.94"/><path d="M445.1,51.8L444.4,53.2L438.5,54.3L438.5,46.2L439.0,46.1L444.7,49.9Z" fill="url(#sg1)" fill-opacity="0.78"/><path d="M554.2,75.9L553.5,76.0L550.8,78.5L551.0,79.3L553.3,81.4L556.1,78.8Z" fill="url(#sg1)" fill-opacity="0.73"/><path d="M449.5,19.9L451.1,17.1L450.9,15.5L447.3,12.2L446.1,17.0L446.5,18.8L449.1,20.0Z" fill="url(#sg1)" fill-opacity="0.88"/><path d="M461.4,61.0L462.6,66.2L458.6,70.9L455.1,70.7L453.3,67.6L453.1,65.2L454.9,61.9L459.5,60.1L460.7,60.4Z" fill="url(#sg1)" fill-opacity="0.87"/><path d="M446.4,75.6L442.9,75.2L440.6,79.9L445.1,81.2L446.6,80.2L447.4,78.6Z" fill="url(#sg1d)" fill-opacity="0.90"/><path d="M450.7,33.5L450.5,36.7L454.5,37.5L455.4,33.9L454.2,32.7Z" fill="url(#sg1)" fill-opacity="0.71"/><path d="M520.7,64.8L523.4,63.0L526.4,63.2L527.6,67.4L526.3,69.1L520.2,66.9Z" fill="url(#sg1)" fill-opacity="0.85"/><path d="M490.6,78.2L487.8,75.9L485.1,78.7L487.4,82.0L490.5,80.6Z" fill="url(#sg1)" fill-opacity="1.00"/><path d="M545.6,22.8L546.2,24.6L546.0,25.3L542.7,28.2L540.8,28.6L540.0,26.5L542.4,22.6Z" fill="url(#sg1)" fill-opacity="0.71"/><path d="M498.6,49.5L500.5,44.8L499.5,42.4L495.7,40.4L492.6,42.6L492.4,48.4L495.2,49.4Z" fill="url(#sg1)" fill-opacity="0.68"/><path d="M542.9,28.5L546.2,25.6L547.2,28.8L544.8,30.0Z" fill="url(#sg1)" fill-opacity="0.86"/><path d="M503.2,94.1L505.1,90.9L504.8,88.5L497.8,89.8L497.8,90.1L500.6,93.8Z" fill="url(#sg1d)" fill-opacity="0.80"/><path d="M454.2,72.0L447.2,74.5L446.6,69.6L453.0,68.0L454.8,71.0Z" fill="url(#sg1)" fill-opacity="1.00"/><path d="M446.5,69.4L452.8,67.7L452.6,65.3L446.4,63.4L444.5,68.3Z" fill="url(#sg1d)" fill-opacity="0.82"/><path d="M540.8,75.3L536.9,78.5L535.9,75.8L537.2,72.9Z" fill="url(#sg1)" fill-opacity="0.89"/><path d="M455.8,97.1L458.7,99.7L450.5,99.7L454.6,96.6Z" fill="url(#sg1)" fill-opacity="0.92"/><path d="M468.9,15.6L469.7,12.1L469.1,11.5L464.5,12.4L464.4,16.3Z" fill="url(#sg1d)" fill-opacity="0.94"/><path d="M469.8,99.7L469.2,99.0L469.1,99.0L467.9,98.8L467.1,99.7Z" fill="url(#sg1)" fill-opacity="0.84"/><path d="M536.6,42.2L538.2,40.1L539.9,40.2L541.3,41.1L541.8,43.4L539.0,46.3L537.6,45.4Z" fill="url(#sg1)" fill-opacity="0.71"/><path d="M494.2,76.7L495.0,75.0L499.0,76.4L499.3,79.7L497.0,81.0L496.2,80.9Z" fill="url(#sg1)" fill-opacity="0.81"/><path d="M561.6,40.8L561.5,40.7L561.6,40.5Z" fill="url(#sg1d)" fill-opacity="0.84"/><path d="M445.2,81.7L444.9,86.6L446.3,87.1L448.3,86.8L449.9,83.9L446.8,80.7Z" fill="url(#sg1)" fill-opacity="1.00"/><path d="M470.4,77.2L472.9,78.0L474.7,81.2L469.6,82.0L468.4,79.0Z" fill="url(#sg1)" fill-opacity="0.97"/><path d="M548.4,35.0L549.7,34.9L550.8,38.7L549.4,39.7L547.5,39.8L545.8,38.4L545.7,38.1Z" fill="url(#sg1)" fill-opacity="0.95"/><path d="M493.7,76.4L494.6,74.8L493.9,72.6L490.2,72.2L488.0,74.6L488.0,75.5L490.9,77.9Z" fill="url(#sg1)" fill-opacity="0.90"/><path d="M541.6,12.5L542.1,11.1L532.1,11.1L535.8,15.7L538.1,15.6Z" fill="url(#sg1)" fill-opacity="0.98"/><path d="M492.5,14.1L496.5,11.6L496.5,11.1L489.0,11.1L489.4,12.9L491.4,13.9Z" fill="url(#sg1)" fill-opacity="0.69"/><path d="M489.6,63.2L486.2,62.2L484.6,59.7L484.6,59.5L489.8,54.9L492.4,57.9Z" fill="url(#sg1)" fill-opacity="0.86"/><path d="M552.2,95.8L549.7,98.4L545.7,96.1L545.9,91.9L547.1,91.6L551.0,92.4Z" fill="url(#sg1)" fill-opacity="0.93"/><path d="M510.8,13.0L506.1,13.6L505.1,11.1L512.5,11.1L512.1,12.1Z" fill="url(#sg1)" fill-opacity="0.99"/><path d="M510.8,41.4L507.6,42.2L504.9,39.3L505.3,36.5L507.7,35.7L510.2,37.3L511.1,40.6Z" fill="url(#sg1)" fill-opacity="0.86"/><path d="M442.9,21.4L441.7,20.3L438.5,19.6L438.5,24.9L442.4,24.0L442.9,22.4Z" fill="url(#sg1)" fill-opacity="0.77"/><path d="M447.3,93.2L446.4,87.5L448.4,87.3L450.4,88.8L449.1,92.6Z" fill="url(#sg1)" fill-opacity="0.78"/><path d="M464.0,45.7L466.1,43.4L469.5,46.8L466.5,48.7Z" fill="url(#sg1d)" fill-opacity="0.77"/><path d="M520.1,51.5L519.4,50.5L520.4,47.8L526.5,47.8L526.9,48.4L524.7,52.8Z" fill="url(#sg1)" fill-opacity="0.96"/><path d="M510.9,41.8L507.8,42.7L507.3,44.3L509.3,48.4L512.0,49.0L513.3,45.3Z" fill="url(#sg1)" fill-opacity="0.76"/><path d="M482.7,56.7L484.1,59.4L484.1,59.6L479.9,60.6L478.4,57.0L479.0,56.2Z" fill="url(#sg1)" fill-opacity="0.85"/><path d="M485.4,16.2L489.1,13.2L491.0,14.3L488.0,18.9L487.9,19.0Z" fill="url(#sg1)" fill-opacity="0.78"/><path d="M441.7,19.8L438.4,19.2L438.4,13.0L439.9,12.9L442.4,17.1Z" fill="url(#sg1)" fill-opacity="0.71"/><path d="M479.9,32.8L480.2,37.5L482.6,40.7L486.0,39.8L488.7,32.5L482.6,29.2Z" fill="url(#sg1)" fill-opacity="0.87"/><path d="M546.8,18.5L541.9,12.7L538.4,16.0L539.5,19.6L542.4,22.1L545.6,22.3L547.0,20.0Z" fill="url(#sg1d)" fill-opacity="0.73"/><path d="M442.5,99.6L438.5,99.6L438.5,96.5L440.5,95.8Z" fill="url(#sg1)" fill-opacity="0.65"/><path d="M520.1,24.4L514.9,22.4L518.2,17.4L518.8,17.3L522.0,20.2L521.7,22.7Z" fill="url(#sg1)" fill-opacity="0.82"/><path d="M523.4,92.1L524.6,95.7L528.1,93.8L527.8,90.1L525.4,89.8Z" fill="url(#sg1)" fill-opacity="0.96"/><path d="M465.0,32.8L460.6,33.5L460.8,37.8L464.5,37.3Z" fill="url(#sg1)" fill-opacity="1.00"/><path d="M455.6,24.5L457.9,27.0L459.0,27.2L461.2,25.8L458.6,20.7L455.7,21.7L455.4,22.1Z" fill="url(#sg1)" fill-opacity="1.00"/><path d="M512.6,63.2L508.7,64.0L507.2,62.0L507.9,57.1L512.0,56.5L513.4,57.9L514.0,60.2Z" fill="url(#sg1)" fill-opacity="0.82"/><path d="M482.3,78.4L481.7,76.7L482.7,73.6L484.2,72.8L487.5,74.6L487.4,75.6L484.8,78.4Z" fill="url(#sg1)" fill-opacity="0.94"/><path d="M447.2,11.1L447.5,12.0L451.2,15.1L456.3,12.8L456.6,11.1Z" fill="url(#sg1)" fill-opacity="0.84"/><path d="M469.4,61.4L470.7,63.4L472.4,63.8L474.7,59.8L474.5,58.4L472.1,57.8Z" fill="url(#sg1)" fill-opacity="0.64"/><path d="M467.6,56.2L466.5,60.0L461.8,60.6L461.1,60.1L464.8,54.2L467.4,55.4Z" fill="url(#sg1)" fill-opacity="0.90"/><path d="M517.0,38.8L511.6,40.8L511.3,41.5L513.6,45.1L518.4,43.4L517.2,38.9Z" fill="url(#sg1)" fill-opacity="0.89"/><path d="M498.8,50.1L498.7,54.8L495.9,55.1L495.3,49.9L498.6,49.9Z" fill="url(#sg1)" fill-opacity="0.65"/><path d="M509.1,71.4L504.3,73.7L506.2,78.0L507.9,78.6L511.4,75.2Z" fill="url(#sg1)" fill-opacity="0.91"/><path d="M487.0,82.3L484.7,78.9L482.3,78.9L481.0,80.5L481.6,85.6L482.3,85.7L486.9,82.7Z" fill="url(#sg1)" fill-opacity="0.88"/><path d="M444.8,81.7L444.5,86.7L440.7,88.1L438.5,86.7L438.5,80.9L440.4,80.2Z" fill="url(#sg1)" fill-opacity="0.88"/><path d="M459.0,79.4L461.5,74.2L463.6,74.9L465.4,78.1L462.4,81.0Z" fill="url(#sg1)" fill-opacity="0.69"/><path d="M466.6,96.1L467.4,98.6L466.6,99.6L459.4,99.7L463.3,94.7Z" fill="url(#sg1)" fill-opacity="0.80"/><path d="M511.0,21.8L511.2,13.4L512.4,12.4L517.9,17.2L514.6,22.3L514.3,22.5Z" fill="url(#sg1)" fill-opacity="0.76"/><path d="M467.5,54.9L469.0,53.5L469.0,52.1L466.0,50.6L465.4,51.2L464.8,52.9L465.1,53.8Z" fill="url(#sg1)" fill-opacity="0.81"/><path d="M539.7,82.9L543.3,81.7L545.3,83.9L543.2,89.7L541.1,89.7L540.0,88.4L539.1,85.0Z" fill="url(#sg1)" fill-opacity="0.90"/><path d="M554.6,75.7L556.5,78.6L560.0,79.5L560.3,74.1L555.9,74.3Z" fill="url(#sg1d)" fill-opacity="0.94"/><path d="M453.3,29.6L450.3,30.0L450.2,30.0L450.2,32.7L450.6,33.1L454.1,32.3L453.9,29.9Z" fill="url(#sg1)" fill-opacity="0.74"/><path d="M538.2,39.6L539.9,39.6L541.1,35.3L539.1,34.5L536.2,37.1Z" fill="url(#sg1)" fill-opacity="0.64"/><path d="M519.6,56.7L520.1,58.9L517.8,61.3L514.5,60.1L513.8,57.8L519.0,56.1Z" fill="url(#sg1)" fill-opacity="0.90"/><path d="M561.5,49.1L561.6,48.6L561.6,49.1L561.5,49.1Z" fill="url(#sg1)" fill-opacity="0.74"/><path d="M463.8,17.4L460.5,17.9L459.0,20.6L461.5,25.6L465.8,25.4L466.4,22.8Z" fill="url(#sg1)" fill-opacity="0.85"/><path d="M534.2,36.5L531.3,34.0L532.4,30.5L534.2,30.3L535.6,31.2L534.6,36.5Z" fill="url(#sg1)" fill-opacity="0.74"/><path d="M480.6,80.1L477.3,79.7L476.5,75.7L476.8,74.5L481.2,76.9L481.9,78.6Z" fill="url(#sg1)" fill-opacity="0.86"/><path d="M462.3,49.6L460.7,50.3L460.7,52.4L464.4,52.7L464.9,51.0Z" fill="url(#sg1)" fill-opacity="0.95"/><path d="M468.0,56.3L471.6,57.2L471.8,57.7L469.2,61.1L466.9,60.1Z" fill="url(#sg1)" fill-opacity="0.91"/><path d="M553.7,18.0L552.8,20.7L553.5,21.8L556.4,19.7L557.3,16.0L555.4,16.2Z" fill="url(#sg1)" fill-opacity="0.82"/><path d="M488.0,93.0L489.1,96.8L491.2,97.7L493.9,94.7L491.3,91.5Z" fill="url(#sg1)" fill-opacity="0.88"/><path d="M549.1,86.6L548.5,85.2L547.3,84.3L545.6,84.0L543.5,89.8L545.8,91.4L547.0,91.1Z" fill="url(#sg1)" fill-opacity="0.87"/><path d="M547.8,50.5L544.8,50.3L544.5,50.5L542.9,55.1L544.6,57.0L548.0,56.2L549.3,54.0Z" fill="url(#sg1)" fill-opacity="1.00"/><path d="M551.5,70.2L551.1,66.1L549.4,65.3L546.2,67.3L545.9,68.0L550.9,70.7Z" fill="url(#sg1)" fill-opacity="0.86"/><path d="M440.4,69.5L438.4,67.3L438.4,73.4L440.3,71.9Z" fill="url(#sg1)" fill-opacity="1.00"/><path d="M561.6,49.5L561.6,49.4L561.6,49.4Z" fill="url(#sg1)" fill-opacity="0.84"/><path d="M526.5,15.5L524.1,19.5L522.3,19.9L519.0,17.0L523.3,12.4L525.6,12.9Z" fill="url(#sg1)" fill-opacity="0.79"/><path d="M549.9,12.7L548.1,11.1L553.2,11.1L552.6,12.7Z" fill="url(#sg1)" fill-opacity="0.90"/><path d="M541.0,75.5L537.1,78.7L537.1,78.9L537.8,81.0L539.6,82.4L543.2,81.3L543.8,78.2L542.3,75.6Z" fill="url(#sg1d)" fill-opacity="0.89"/><path d="M554.3,85.5L554.4,84.2L553.5,83.1L548.9,85.0L549.6,86.4L552.4,87.5Z" fill="url(#sg1)" fill-opacity="1.00"/><path d="M549.4,13.0L547.8,11.3L542.5,11.1L542.1,12.5L547.1,18.2L549.6,16.0L549.6,15.7Z" fill="url(#sg1d)" fill-opacity="0.88"/><path d="M516.8,80.4L515.7,84.9L517.1,86.3L520.4,86.4L521.5,82.4L521.2,81.0Z" fill="url(#sg1)" fill-opacity="0.79"/><path d="M520.5,91.2L523.1,91.8L525.1,89.6L523.6,88.0L521.2,87.6Z" fill="url(#sg1d)" fill-opacity="0.88"/><path d="M444.4,53.5L438.5,54.6L438.5,58.7L444.8,58.4Z" fill="url(#sg1)" fill-opacity="0.93"/><path d="M483.8,51.5L478.0,52.1L479.0,55.8L482.8,56.3Z" fill="url(#sg1)" fill-opacity="0.97"/><path d="M476.2,75.8L473.4,78.0L475.0,81.0L475.1,81.0L476.8,79.8Z" fill="url(#sg1d)" fill-opacity="0.70"/><path d="M543.5,60.6L544.3,57.4L542.6,55.5L539.8,55.4L538.6,56.8L540.8,61.9L542.8,61.5Z" fill="url(#sg1)" fill-opacity="0.86"/><path d="M552.5,90.3L551.1,91.9L547.3,91.2L549.5,86.8L552.2,88.0Z" fill="url(#sg1)" fill-opacity="0.73"/><path d="M554.2,54.1L549.8,53.9L548.2,50.4L549.1,49.4L553.6,49.0L555.4,50.9L554.6,53.7Z" fill="url(#sg1)" fill-opacity="1.00"/><path d="M517.2,38.4L514.2,35.0L514.1,31.1L515.2,30.4L519.2,31.0L520.3,32.8L520.4,35.9L517.4,38.4Z" fill="url(#sg1)" fill-opacity="1.00"/><path d="M537.5,81.4L533.8,83.1L533.5,84.8L534.4,85.8L538.6,84.8L539.3,82.7Z" fill="url(#sg1)" fill-opacity="0.97"/><path d="M454.3,84.9L453.1,88.5L450.7,88.4L448.7,87.0L450.3,84.0L452.0,83.5Z" fill="url(#sg1)" fill-opacity="0.81"/><path d="M479.0,69.4L483.2,68.4L483.3,65.6L480.3,65.0L478.3,68.4Z" fill="url(#sg1)" fill-opacity="0.83"/><path d="M534.8,36.5L535.8,31.3L537.7,31.5L538.9,34.2L536.0,36.8Z" fill="url(#sg1)" fill-opacity="0.73"/><path d="M497.3,81.4L499.6,80.1L502.3,81.1L502.9,84.6L498.2,85.4Z" fill="url(#sg1)" fill-opacity="0.98"/><path d="M534.0,23.5L536.9,22.9L538.2,25.9L535.4,26.5L533.9,24.0Z" fill="url(#sg1)" fill-opacity="0.86"/><path d="M461.5,73.7L458.9,71.1L462.9,66.5L466.9,68.1L467.9,70.6L463.7,74.4Z" fill="url(#sg1d)" fill-opacity="0.97"/><path d="M545.9,67.0L543.1,61.9L543.9,61.0L548.9,62.3L549.2,65.0Z" fill="url(#sg1)" fill-opacity="0.74"/><path d="M531.9,18.4L535.4,15.9L531.7,11.2L528.3,11.2L526.0,12.8L527.1,15.4L530.7,18.4Z" fill="url(#sg1)" fill-opacity="0.83"/><path d="M446.2,69.8L446.8,74.5L446.4,75.1L442.9,74.7L440.8,72.1L440.8,69.4L444.3,68.7Z" fill="url(#sg1)" fill-opacity="1.00"/><path d="M492.3,14.6L492.8,17.9L488.2,19.0L491.2,14.4Z" fill="url(#sg1)" fill-opacity="0.89"/><path d="M551.9,70.6L554.5,70.8L555.5,74.0L554.2,75.4L553.5,75.5L550.8,72.5L551.3,71.1Z" fill="url(#sg1)" fill-opacity="0.81"/><path d="M471.5,71.8L474.5,67.1L474.0,65.7L472.4,64.3L470.6,63.9L467.3,67.8L468.3,70.4Z" fill="url(#sg1)" fill-opacity="1.00"/><path d="M441.2,94.3L440.6,88.7L438.4,87.1L438.4,96.1L440.5,95.3Z" fill="url(#sg1)" fill-opacity="0.89"/><path d="M460.4,37.9L459.9,38.7L455.2,38.1L454.9,37.6L455.9,34.0L459.5,33.1L460.2,33.6Z" fill="url(#sg1d)" fill-opacity="0.92"/><path d="M501.9,62.3L502.8,57.2L504.9,55.8L507.5,57.0L506.8,61.9L502.1,62.6Z" fill="url(#sg1d)" fill-opacity="0.76"/><path d="M453.8,77.5L452.2,78.5L447.9,78.4L446.8,75.4L447.3,74.8L454.2,72.2Z" fill="url(#sg1)" fill-opacity="0.85"/><path d="M438.5,11.1L438.5,12.7L439.9,12.4L443.4,11.1Z" fill="url(#sg1)" fill-opacity="0.81"/><path d="M453.4,25.8L453.0,27.2L453.6,29.1L454.1,29.5L457.7,27.3L455.2,24.8Z" fill="url(#sg1)" fill-opacity="0.85"/><path d="M545.6,67.2L542.8,62.0L540.8,62.4L539.7,63.3L539.4,65.6L541.9,68.6L544.0,69.4L545.4,67.8Z" fill="url(#sg1)" fill-opacity="0.70"/><path d="M558.3,90.8L561.5,92.9L561.5,85.2L558.5,88.8Z" fill="url(#sg1)" fill-opacity="0.99"/><path d="M456.5,49.6L455.6,52.6L452.4,52.9L452.1,48.1L455.5,47.4Z" fill="url(#sg1)" fill-opacity="0.83"/><path d="M514.1,99.7L510.8,96.5L505.1,98.3L504.7,99.7Z" fill="url(#sg1)" fill-opacity="0.73"/><path d="M448.7,45.6L445.0,49.6L439.1,45.8L441.8,42.4L447.9,42.5L448.8,43.7Z" fill="url(#sg1)" fill-opacity="0.90"/><path d="M550.5,44.2L549.5,40.2L547.5,40.3L546.5,43.8L549.0,45.3Z" fill="url(#sg1)" fill-opacity="0.86"/><path d="M526.6,69.4L526.6,73.9L530.6,74.1L532.4,72.0L531.6,67.5L528.0,67.8Z" fill="url(#sg1)" fill-opacity="0.82"/><path d="M520.1,67.2L526.2,69.4L526.2,74.0L524.9,75.3L518.1,72.3L517.7,69.5Z" fill="url(#sg1)" fill-opacity="0.83"/><path d="M500.3,94.0L497.6,90.3L494.6,94.6L497.7,96.2Z" fill="url(#sg1)" fill-opacity="0.99"/><path d="M540.4,28.8L537.8,31.0L536.0,30.8L534.5,29.9L535.6,27.0L538.4,26.3L539.6,26.7L540.4,28.8Z" fill="url(#sg1)" fill-opacity="0.78"/><path d="M545.3,96.1L545.5,91.8L543.2,90.2L541.2,90.2L539.4,92.8L540.8,98.9Z" fill="url(#sg1)" fill-opacity="0.92"/><path d="M473.4,52.8L474.9,52.7L477.0,51.5L475.8,46.6L473.5,46.0L471.7,47.1L471.4,50.5Z" fill="url(#sg1)" fill-opacity="0.99"/><path d="M465.3,32.9L464.9,37.3L467.3,39.7L469.9,38.8L465.9,32.4Z" fill="url(#sg1)" fill-opacity="0.87"/><path d="M561.4,49.0L561.5,48.0L561.5,41.3L561.4,41.0L557.8,44.0L560.1,48.7Z" fill="url(#sg1)" fill-opacity="0.82"/><path d="M491.8,31.6L493.0,27.2L499.5,28.2L499.9,29.2L494.8,33.9Z" fill="url(#sg1)" fill-opacity="0.97"/><path d="M489.1,32.6L491.6,31.9L494.6,34.4L495.8,37.0L495.5,39.9L492.4,42.1L486.4,39.9Z" fill="url(#sg1)" fill-opacity="0.71"/><path d="M561.3,81.9L561.3,81.9L560.0,79.9L556.5,79.1L553.6,81.6L553.9,82.8L554.8,83.9Z" fill="url(#sg1)" fill-opacity="0.74"/><path d="M531.7,42.9L532.0,42.0L531.4,40.3L531.2,40.3L527.7,41.4L528.0,43.7Z" fill="url(#sg1)" fill-opacity="0.67"/><path d="M528.6,93.8L531.1,95.2L533.2,94.6L534.1,93.0L533.4,90.3L529.0,89.3L528.2,90.1Z" fill="url(#sg1)" fill-opacity="0.91"/><path d="M541.7,69.1L543.9,69.8L544.0,71.4L542.3,75.1L541.0,75.0L537.4,72.6L537.2,72.1L537.4,71.6Z" fill="url(#sg1)" fill-opacity="1.00"/><path d="M539.2,46.6L539.7,48.6L544.2,50.0L544.5,49.9L544.1,44.7L542.1,43.8Z" fill="url(#sg1)" fill-opacity="0.79"/><path d="M526.5,47.6L526.2,45.6L523.1,42.9L519.5,44.1L520.4,47.5Z" fill="url(#sg1)" fill-opacity="0.86"/><path d="M538.9,65.5L539.2,63.2L534.3,61.6L533.4,62.2L533.0,66.4L535.9,67.3Z" fill="url(#sg1)" fill-opacity="0.67"/><path d="M540.2,39.7L541.4,35.3L541.9,35.1L543.7,36.1L545.2,38.1L545.2,38.4L541.6,40.7Z" fill="url(#sg1)" fill-opacity="0.91"/><path d="M445.2,59.1L445.2,61.9L438.5,64.1L438.6,58.9L444.9,58.7Z" fill="url(#sg1d)" fill-opacity="0.84"/><path d="M537.4,81.1L536.6,79.1L532.6,79.2L531.8,80.4L533.6,82.8Z" fill="url(#sg1)" fill-opacity="0.84"/><path d="M446.2,94.3L441.5,94.3L440.9,88.6L444.7,87.1L446.1,87.6L447.1,93.3Z" fill="url(#sg1)" fill-opacity="0.90"/><path d="M527.4,41.1L525.0,39.3L524.9,38.2L527.4,36.5L531.0,40.0Z" fill="url(#sg1)" fill-opacity="1.00"/><path d="M527.5,43.7L527.2,41.5L524.9,39.6L523.4,42.6L526.4,45.4Z" fill="url(#sg1)" fill-opacity="0.92"/><path d="M476.2,86.5L474.9,81.5L474.8,81.5L469.7,82.4L469.5,83.4L471.6,86.6L474.4,87.5Z" fill="url(#sg1)" fill-opacity="0.98"/><path d="M507.8,79.1L506.1,78.5L502.8,81.1L503.3,84.6L505.3,86.9L509.1,85.0L509.1,81.3Z" fill="url(#sg1)" fill-opacity="0.83"/><path d="M454.4,29.8L454.5,32.3L455.8,33.6L459.5,32.7L458.9,27.7L457.9,27.5Z" fill="url(#sg1)" fill-opacity="1.00"/><path d="M485.8,92.0L481.6,94.8L482.7,99.6L484.0,99.5L488.6,97.0L487.6,93.0Z" fill="url(#sg1)" fill-opacity="0.87"/><path d="M520.1,64.8L517.8,61.8L514.4,60.5L513.0,63.5L515.1,68.0L517.4,69.1L519.8,66.9Z" fill="url(#sg1)" fill-opacity="0.83"/><path d="M528.7,55.7L532.0,54.0L532.5,51.5L531.3,49.2L527.3,48.6L525.1,53.0L525.2,53.3Z" fill="url(#sg1)" fill-opacity="0.81"/><path d="M505.1,36.0L507.5,35.2L509.5,30.8L507.4,28.4L502.6,30.8L503.1,34.3Z" fill="url(#sg1d)" fill-opacity="0.81"/><path d="M550.5,72.7L548.9,73.6L548.5,77.2L550.5,78.2L553.3,75.7Z" fill="url(#sg1)" fill-opacity="0.89"/><path d="M553.4,82.9L553.1,81.7L550.8,79.7L547.6,83.9L548.8,84.8Z" fill="url(#sg1)" fill-opacity="0.81"/><path d="M553.5,48.6L553.7,44.6L550.8,44.6L549.2,45.6L549.0,49.0Z" fill="url(#sg1)" fill-opacity="0.91"/><path d="M511.7,75.4L508.2,78.8L509.6,81.0L516.1,79.6L515.3,75.8Z" fill="url(#sg1)" fill-opacity="0.75"/><path d="M465.8,78.0L468.1,78.7L470.1,76.7L471.3,72.3L471.3,72.2L468.2,70.8L464.0,74.6Z" fill="url(#sg1)" fill-opacity="1.00"/><path d="M444.2,35.5L444.2,34.5L439.9,30.8L438.5,30.7L438.5,36.3L441.3,37.6Z" fill="url(#sg1)" fill-opacity="0.73"/><path d="M517.2,69.6L517.5,72.3L515.4,75.4L511.8,74.9L509.5,71.1L509.8,70.3L514.8,68.5Z" fill="url(#sg1)" fill-opacity="0.53"/><path d="M500.8,23.4L506.0,22.3L504.0,15.7L499.7,15.7L497.9,19.8L498.6,21.5Z" fill="url(#sg1)" fill-opacity="0.94"/><path d="M455.7,53.1L457.9,54.8L459.4,59.7L454.7,61.5L451.6,57.6L451.8,53.8L452.4,53.3Z" fill="url(#sg1)" fill-opacity="0.88"/><path d="M561.6,81.7L560.3,79.5L560.5,74.2L561.6,72.9Z" fill="url(#sg1)" fill-opacity="0.83"/><path d="M525.3,75.7L526.6,74.3L530.6,74.6L531.5,75.8L532.1,78.9L531.3,80.2L528.4,80.8L525.1,77.4Z" fill="url(#sg1)" fill-opacity="0.87"/><path d="M551.4,65.7L554.1,65.0L555.2,60.9L554.2,60.0L550.6,60.4L549.5,62.2L549.6,64.9Z" fill="url(#sg1)" fill-opacity="0.72"/><path d="M488.1,19.8L491.7,22.4L494.0,19.5L492.8,18.3L488.2,19.3L488.1,19.3Z" fill="url(#sg1)" fill-opacity="0.88"/><path d="M514.7,68.2L509.6,70.0L507.9,66.7L508.8,64.5L512.6,63.7Z" fill="url(#sg1d)" fill-opacity="0.63"/><path d="M485.7,89.3L489.6,86.8L492.3,87.3L492.5,87.6L491.1,91.1L487.9,92.6L486.0,91.6Z" fill="url(#sg1)" fill-opacity="0.99"/><path d="M496.1,81.4L496.9,81.5L497.8,85.6L496.4,87.9L492.9,87.3L492.7,87.0L493.2,82.7Z" fill="url(#sg1d)" fill-opacity="0.77"/><path d="M523.1,56.1L520.0,56.3L519.4,55.7L520.1,51.8L524.6,53.1L524.7,53.4Z" fill="url(#sg1)" fill-opacity="0.66"/><path d="M479.1,69.7L483.3,68.7L484.0,69.4L484.0,72.3L482.5,73.1L479.0,71.3Z" fill="url(#sg1)" fill-opacity="0.88"/><path d="M553.1,12.8L553.7,11.2L561.4,11.1L561.3,13.9L557.3,15.5L555.6,15.7L553.9,14.3Z" fill="url(#sg1)" fill-opacity="0.74"/><path d="M555.7,50.5L559.8,48.8L557.4,44.1L555.3,43.6L554.1,44.7L553.9,48.6Z" fill="url(#sg1)" fill-opacity="0.82"/><path d="M488.0,20.1L491.6,22.7L491.7,25.6L485.0,24.5Z" fill="url(#sg1)" fill-opacity="0.93"/><path d="M514.8,30.0L514.1,22.9L510.8,22.3L507.8,23.4L507.8,28.0L509.8,30.4L513.8,30.7Z" fill="url(#sg1)" fill-opacity="0.94"/><path d="M486.2,40.3L492.1,42.5L492.0,48.5L489.1,50.7L485.4,50.0L482.0,43.2L482.7,41.1Z" fill="url(#sg1)" fill-opacity="0.90"/><path d="M561.6,53.5L561.6,60.3L561.5,60.3L560.4,56.3Z" fill="url(#sg1)" fill-opacity="0.80"/><path d="M473.9,19.1L477.7,20.9L481.1,15.3L480.3,11.2L475.2,11.3L473.7,12.7L473.4,18.1Z" fill="url(#sg1)" fill-opacity="0.84"/><path d="M550.1,15.9L550.1,16.1L553.3,17.6L555.2,16.0L553.5,14.6Z" fill="url(#sg1)" fill-opacity="0.90"/><path d="M484.2,59.9L480.0,61.0L479.0,62.1L478.9,62.4L480.3,64.5L483.4,65.2L485.8,62.5Z" fill="url(#sg1)" fill-opacity="0.94"/><path d="M449.8,30.0L446.2,29.7L446.0,32.7L449.8,32.7Z" fill="url(#sg1d)" fill-opacity="0.93"/><path d="M546.0,33.3L545.8,32.8L544.8,32.2L542.9,32.9L542.1,34.8L543.9,35.6Z" fill="url(#sg1)" fill-opacity="0.93"/><path d="M540.9,29.0L542.6,32.5L544.7,31.8L544.4,30.2L542.7,28.8L540.9,28.9Z" fill="url(#sg1)" fill-opacity="0.78"/><path d="M510.8,93.2L505.5,91.1L503.6,94.4L505.0,98.0L510.8,96.2Z" fill="url(#sg1)" fill-opacity="0.71"/><path d="M479.6,32.4L472.7,30.8L471.6,29.6L478.0,21.9L482.1,25.9L482.3,28.9Z" fill="url(#sg1)" fill-opacity="0.88"/><path d="M489.5,63.7L486.1,62.7L483.8,65.5L483.7,68.3L484.3,69.0L488.7,68.6L490.1,64.5Z" fill="url(#sg1)" fill-opacity="0.83"/><path d="M451.0,24.7L449.4,25.9L450.1,26.9L452.5,27.0L453.0,25.6Z" fill="url(#sg1)" fill-opacity="0.96"/><path d="M474.6,95.2L474.8,94.5L473.6,93.0L468.9,92.9L467.1,95.9L467.8,98.5L469.4,98.6Z" fill="url(#sg1d)" fill-opacity="0.79"/><path d="M499.7,79.6L502.5,80.7L505.9,78.1L504.0,73.8L502.7,73.2L499.4,76.3Z" fill="url(#sg1d)" fill-opacity="0.92"/><path d="M507.3,28.0L502.4,30.4L500.4,29.0L500.0,28.0L500.9,23.8L506.1,22.7L507.4,23.4Z" fill="url(#sg1)" fill-opacity="0.66"/><path d="M490.0,63.4L492.7,58.1L493.7,58.1L496.4,59.9L497.4,62.1L494.9,65.5L490.5,64.2Z" fill="url(#sg1)" fill-opacity="0.96"/><path d="M550.2,60.1L549.0,62.0L544.0,60.7L544.8,57.5L548.1,56.7Z" fill="url(#sg1)" fill-opacity="0.96"/><path d="M539.0,92.5L534.6,92.9L533.9,90.1L534.6,89.1L539.7,88.8L540.8,90.0Z" fill="url(#sg1)" fill-opacity="0.83"/><path d="M546.5,33.1L546.3,32.7L548.5,30.2L549.8,30.5L551.0,32.7L549.6,34.4L548.4,34.5Z" fill="url(#sg1)" fill-opacity="0.76"/><path d="M476.9,74.3L476.8,74.2L478.8,71.7L482.3,73.4L481.3,76.6Z" fill="url(#sg1)" fill-opacity="0.85"/><path d="M443.2,21.0L442.0,19.9L442.8,17.4L445.6,17.2L446.1,19.0Z" fill="url(#sg1)" fill-opacity="0.84"/><path d="M538.0,51.1L539.7,55.0L542.5,55.0L544.1,50.4L539.5,49.0Z" fill="url(#sg1)" fill-opacity="0.79"/><path d="M531.2,48.8L532.2,46.9L531.8,43.2L527.9,44.1L526.7,45.7L527.0,47.6L527.4,48.1Z" fill="url(#sg1)" fill-opacity="0.78"/><path d="M495.1,74.6L494.4,72.4L496.8,69.2L500.8,69.7L502.4,72.9L499.1,76.0Z" fill="url(#sg1d)" fill-opacity="0.68"/><path d="M555.4,37.4L560.7,35.7L556.2,31.0L552.9,32.9Z" fill="url(#sg1)" fill-opacity="0.84"/><path d="M473.5,19.3L466.8,22.7L464.1,17.2L464.5,16.5L469.0,16.0L472.9,18.3Z" fill="url(#sg1)" fill-opacity="0.74"/><path d="M527.9,35.1L526.4,31.9L527.5,29.1L529.7,28.6L532.0,30.3L530.9,33.9Z" fill="url(#sg1)" fill-opacity="0.73"/><path d="M518.1,16.9L512.7,12.2L513.0,11.1L522.3,11.1L523.0,12.2L518.7,16.8Z" fill="url(#sg1)" fill-opacity="0.94"/><path d="M532.5,41.9L531.8,40.1L534.3,37.1L534.7,37.0L535.8,37.3L537.8,39.8L536.2,41.9Z" fill="url(#sg1)" fill-opacity="0.82"/><path d="M453.8,94.1L449.4,92.7L450.8,88.8L453.2,89.0L454.5,90.7Z" fill="url(#sg1)" fill-opacity="0.86"/><path d="M477.7,52.3L477.2,51.9L475.2,53.1L475.1,57.7L478.1,56.7L478.6,55.9Z" fill="url(#sg1)" fill-opacity="0.75"/><path d="M498.1,99.6L498.0,96.6L500.6,94.3L503.2,94.6L504.6,98.2L504.2,99.6Z" fill="url(#sg1)" fill-opacity="0.92"/><path d="M555.1,53.7L560.2,55.8L561.4,53.0L561.4,49.8L561.3,49.5L561.3,49.5L560.0,49.2L555.9,50.8Z" fill="url(#sg1)" fill-opacity="0.93"/><path d="M530.6,25.9L530.0,28.3L532.3,30.0L534.1,29.8L535.1,26.9L533.5,24.1Z" fill="url(#sg1)" fill-opacity="0.55"/><path d="M445.7,29.6L444.9,27.9L444.6,27.8L440.1,30.6L444.5,34.2L445.7,32.6Z" fill="url(#sg1)" fill-opacity="1.00"/><path d="M519.0,50.4L513.4,50.9L512.4,49.1L513.8,45.5L518.5,43.8L519.1,44.2L519.9,47.6Z" fill="url(#sg1)" fill-opacity="0.80"/><path d="M451.4,21.6L449.9,20.2L451.5,17.3L454.0,18.5L455.3,21.4L454.9,21.8Z" fill="url(#sg1)" fill-opacity="0.85"/><path d="M489.8,71.9L487.7,74.3L484.5,72.4L484.4,69.4L488.7,69.0Z" fill="url(#sg1d)" fill-opacity="0.77"/><path d="M471.8,54.4L469.5,53.5L469.6,52.2L471.1,50.9L473.1,53.1Z" fill="url(#sg1)" fill-opacity="1.00"/><path d="M446.5,63.0L445.8,62.0L445.7,59.2L451.2,58.0L454.4,61.7L452.7,65.0Z" fill="url(#sg1)" fill-opacity="0.89"/><path d="M554.7,96.3L558.5,99.7L550.1,99.7L550.0,98.6L552.5,96.2Z" fill="url(#sg1)" fill-opacity="0.89"/><path d="M462.7,46.1L463.8,46.0L466.2,48.9L465.8,50.1L465.1,50.7L462.5,49.2L462.5,46.3Z" fill="url(#sg1)" fill-opacity="0.71"/><path d="M512.3,91.4L511.1,86.3L509.2,85.4L505.5,87.3L505.2,88.3L505.6,90.7L510.9,92.9Z" fill="url(#sg1)" fill-opacity="0.82"/><path d="M468.1,56.0L471.6,56.9L471.6,54.8L469.3,53.8L467.8,55.2Z" fill="url(#sg1)" fill-opacity="0.94"/><path d="M556.3,66.9L561.4,64.8L561.4,71.1L556.4,68.8Z" fill="url(#sg1)" fill-opacity="0.81"/><path d="M533.2,85.2L529.4,86.0L529.1,88.9L533.5,89.9L534.1,88.9L534.0,86.1Z" fill="url(#sg1)" fill-opacity="0.75"/><path d="M534.4,61.2L539.4,62.9L540.5,62.0L538.3,56.9L535.2,57.6Z" fill="url(#sg1)" fill-opacity="0.82"/><path d="M485.2,89.3L482.2,86.2L481.5,86.1L479.4,87.2L480.0,93.6L481.4,94.4L485.6,91.6Z" fill="url(#sg1)" fill-opacity="0.78"/><path d="M548.6,49.1L548.8,45.7L546.3,44.2L544.5,44.7L544.9,49.9L547.8,50.1Z" fill="url(#sg1)" fill-opacity="0.94"/><path d="M471.7,72.3L476.3,74.3L476.3,74.4L476.0,75.5L473.2,77.6L470.5,76.8Z" fill="url(#sg1)" fill-opacity="0.70"/><path d="M450.8,24.2L449.1,25.6L448.0,25.4L447.7,23.1L449.1,20.6L449.6,20.5L451.0,21.9Z" fill="url(#sg1)" fill-opacity="0.90"/><path d="M545.0,30.3L547.3,29.1L548.3,30.0L546.1,32.4L545.1,31.8Z" fill="url(#sg1)" fill-opacity="1.00"/><path d="M469.0,92.5L473.7,92.7L474.3,87.9L471.4,87.1L468.3,90.3Z" fill="url(#sg1)" fill-opacity="0.84"/><path d="M510.4,36.9L507.9,35.3L509.8,30.9L513.7,31.1L513.7,34.9Z" fill="url(#sg1)" fill-opacity="0.70"/><path d="M461.3,92.0L463.0,94.6L459.2,99.5L459.0,99.5L456.3,96.9Z" fill="url(#sg1)" fill-opacity="0.84"/><path d="M451.2,24.3L453.2,25.3L455.0,24.5L455.0,22.1L451.4,21.9Z" fill="url(#sg1)" fill-opacity="0.74"/><path d="M502.5,56.7L500.5,56.4L499.0,55.0L499.1,50.1L504.1,52.1L504.7,55.4Z" fill="url(#sg1)" fill-opacity="0.96"/><path d="M515.2,30.0L519.2,30.5L520.7,27.8L520.0,24.8L514.8,22.8L514.5,22.9Z" fill="url(#sg1)" fill-opacity="0.79"/><path d="M536.6,78.6L535.5,76.0L532.0,75.8L532.6,78.9L536.6,78.8Z" fill="url(#sg1d)" fill-opacity="0.67"/><path d="M556.0,73.9L555.0,70.6L556.3,69.1L561.3,71.3L561.3,72.5L560.3,73.7Z" fill="url(#sg1)" fill-opacity="0.90"/><path d="M504.8,36.4L504.4,39.3L499.8,41.9L495.9,40.0L496.3,37.1L502.7,34.7Z" fill="url(#sg1)" fill-opacity="0.95"/><path d="M520.4,24.7L521.1,27.7L525.2,27.2L525.2,24.5L522.0,23.1Z" fill="url(#sg1)" fill-opacity="0.80"/><path d="M476.2,99.6L475.1,95.2L475.3,94.6L479.8,94.0L481.1,94.8L482.3,99.6Z" fill="url(#sg1)" fill-opacity="0.69"/><path d="M550.8,70.9L550.3,72.3L548.6,73.2L544.5,71.3L544.4,69.7L545.7,68.2Z" fill="url(#sg1)" fill-opacity="0.73"/><path d="M475.0,66.9L478.0,68.2L479.9,64.8L478.6,62.6L474.5,65.5Z" fill="url(#sg1)" fill-opacity="0.91"/><path d="M440.3,79.7L438.4,80.5L438.4,73.9L440.5,72.4L442.5,75.1Z" fill="url(#sg1)" fill-opacity="0.81"/><path d="M455.6,21.2L458.6,20.3L460.1,17.7L457.7,15.7L454.4,18.3Z" fill="url(#sg1)" fill-opacity="1.00"/><path d="M516.3,91.3L517.1,86.8L520.4,86.9L520.9,87.5L520.1,91.1L518.1,92.6Z" fill="url(#sg1)" fill-opacity="0.68"/><path d="M460.3,40.9L459.8,39.1L455.2,38.5L454.2,42.1L456.6,44.2L459.8,42.3Z" fill="url(#sg1)" fill-opacity="0.80"/><path d="M493.9,76.8L495.9,81.0L493.0,82.2L491.0,80.6L491.1,78.3Z" fill="url(#sg1)" fill-opacity="0.81"/><path d="M476.5,87.0L479.1,87.2L479.7,93.6L475.1,94.2L474.0,92.7L474.7,88.0Z" fill="url(#sg1)" fill-opacity="0.58"/><path d="M470.3,99.7L469.7,99.0L473.9,99.8Z" fill="url(#sg1)" fill-opacity="0.87"/><path d="M461.6,91.8L463.4,94.2L466.7,95.6L468.5,92.6L467.8,90.5L465.7,89.3L461.4,90.5Z" fill="url(#sg1)" fill-opacity="0.71"/><path d="M479.4,32.8L472.7,31.2L471.9,38.6L479.8,37.5Z" fill="url(#sg1)" fill-opacity="0.73"/><path d="M458.8,79.7L457.3,80.1L456.7,83.9L460.0,86.0L462.2,83.8L462.1,81.4Z" fill="url(#sg1)" fill-opacity="0.84"/><path d="M515.7,75.7L516.6,79.6L516.9,80.0L521.2,80.5L524.6,77.4L524.8,75.6L517.9,72.6Z" fill="url(#sg1)" fill-opacity="0.77"/><path d="M499.2,49.8L504.1,51.7L505.0,50.5L503.5,45.9L500.8,45.0L499.0,49.6Z" fill="url(#sg1)" fill-opacity="0.78"/><path d="M525.5,89.3L527.9,89.7L528.7,88.9L528.9,86.0L527.9,84.4L525.7,84.9L524.0,87.7Z" fill="url(#sg1)" fill-opacity="0.93"/><path d="M452.1,52.9L451.5,53.4L445.6,51.8L445.3,49.9L449.0,45.9L451.7,48.1Z" fill="url(#sg1)" fill-opacity="1.00"/><path d="M542.1,22.5L539.7,26.3L538.5,25.8L537.3,22.8L539.3,20.0Z" fill="url(#sg1)" fill-opacity="0.85"/><path d="M502.2,63.0L502.6,67.3L507.4,66.6L508.3,64.3L506.9,62.4Z" fill="url(#sg1)" fill-opacity="0.88"/><path d="M561.6,17.4L560.6,22.5L561.1,25.1L561.6,25.3Z" fill="url(#sg1)" fill-opacity="1.00"/><path d="M561.5,99.5L561.6,97.9L561.2,99.6Z" fill="url(#sg1)" fill-opacity="0.93"/><path d="M516.9,38.6L513.9,35.3L510.6,37.2L511.5,40.5Z" fill="url(#sg1)" fill-opacity="0.99"/><path d="M467.5,40.2L466.4,41.8L466.3,43.1L469.8,46.6L471.4,46.7L473.3,45.6L471.3,39.3L470.0,39.3Z" fill="url(#sg1)" fill-opacity="0.75"/><path d="M530.4,18.8L526.8,15.7L524.4,19.7L527.5,22.0L527.9,21.9Z" fill="url(#sg1)" fill-opacity="0.85"/><path d="M455.3,46.9L452.0,47.7L449.3,45.6L449.4,43.7L453.9,42.4L456.3,44.5L456.3,44.8Z" fill="url(#sg1)" fill-opacity="0.82"/><path d="M509.2,48.9L505.5,50.8L504.6,52.0L505.1,55.3L507.8,56.6L511.9,56.0L513.0,51.1L511.9,49.4Z" fill="url(#sg1d)" fill-opacity="0.90"/><path d="M510.6,21.8L510.9,13.3L505.9,14.0L504.4,15.7L506.3,22.2L507.6,22.9Z" fill="url(#sg1)" fill-opacity="1.00"/><path d="M472.1,54.9L472.0,56.9L472.2,57.4L474.6,58.0L474.8,57.7L474.9,53.2L473.3,53.4Z" fill="url(#sg1)" fill-opacity="0.99"/><path d="M531.5,39.9L533.9,36.8L531.0,34.4L528.0,35.5L527.7,36.3L531.2,39.8Z" fill="url(#sg1)" fill-opacity="0.70"/><path d="M557.8,90.8L553.0,90.2L552.6,87.9L554.7,85.8L558.0,88.7L557.8,90.8Z" fill="url(#sg1)" fill-opacity="0.67"/><path d="M470.2,11.9L473.3,12.4L474.9,11.0L469.6,11.1L469.5,11.3Z" fill="url(#sg1)" fill-opacity="0.66"/><path d="M454.2,96.3L450.3,99.5L449.6,99.5L446.6,94.6L447.5,93.6L449.3,93.1L453.6,94.5Z" fill="url(#sg1)" fill-opacity="0.81"/><path d="M478.2,21.6L482.4,25.5L484.7,24.3L487.6,19.9L487.6,19.3L485.1,16.4L481.4,15.6L478.1,21.1Z" fill="url(#sg1)" fill-opacity="0.82"/><path d="M481.6,15.2L480.7,11.1L488.5,11.1L488.9,13.0L485.1,15.9Z" fill="url(#sg1)" fill-opacity="0.77"/><path d="M484.2,51.6L485.4,50.6L489.0,51.1L489.6,54.6L484.5,59.2L483.1,56.3Z" fill="url(#sg1)" fill-opacity="0.91"/><path d="M558.0,91.3L555.1,96.1L558.8,99.5L561.0,99.6L561.4,97.5L561.4,93.3L558.1,91.2Z" fill="url(#sg1)" fill-opacity="0.84"/><path d="M461.9,61.0L463.0,66.1L467.0,67.6L470.3,63.6L468.9,61.6L466.6,60.5Z" fill="url(#sg1)" fill-opacity="1.00"/><path d="M439.9,30.3L438.5,30.3L438.5,25.3L442.4,24.5L444.4,27.6Z" fill="url(#sg1)" fill-opacity="0.96"/><path d="M498.6,55.2L500.2,56.7L496.7,59.4L494.0,57.7L495.9,55.5Z" fill="url(#sg1d)" fill-opacity="0.70"/><path d="M473.1,18.0L473.3,12.7L470.0,12.2L469.3,15.7Z" fill="url(#sg1)" fill-opacity="0.76"/><path d="M501.5,62.3L497.8,61.9L496.9,59.7L500.4,56.9L502.4,57.1Z" fill="url(#sg1d)" fill-opacity="0.90"/><path d="M521.6,80.9L522.0,82.3L525.5,84.4L527.7,84.0L528.1,81.2L524.9,77.6Z" fill="url(#sg1)" fill-opacity="0.92"/><path d="M481.2,85.6L479.2,86.7L476.6,86.5L475.2,81.4L477.2,80.2L480.6,80.6Z" fill="url(#sg1)" fill-opacity="1.00"/><path d="M454.4,37.9L454.7,38.4L453.8,42.0L449.2,43.4L448.3,42.1L448.4,38.4L450.4,37.1Z" fill="url(#sg1)" fill-opacity="0.95"/><path d="M551.4,33.0L552.6,33.1L555.1,37.5L553.9,38.9L551.2,38.6L550.0,34.8Z" fill="url(#sg1)" fill-opacity="0.87"/><path d="M459.0,49.0L456.9,49.3L455.8,47.2L456.6,45.0L459.5,47.2Z" fill="url(#sg1)" fill-opacity="0.83"/><path d="M474.4,65.3L478.4,62.4L478.5,62.1L475.1,59.9L472.7,64.0Z" fill="url(#sg1)" fill-opacity="0.86"/></g>
</g>
<rect x="440.70" y="91.80" width="118.50" height="5.60" fill="#1c1c1c"/>
<circle cx="443.70" cy="94.60" r="1.6" fill="#777"/>
<rect x="446.70" y="93.00" width="9" height="1.1" fill="#8a8a8a"/>
<rect x="446.70" y="95.10" width="7" height="1.1" fill="#8a8a8a"/>
<rect x="457.70" y="93.00" width="12" height="1.1" fill="#8a8a8a"/>
<rect x="457.70" y="95.10" width="10" height="1.1" fill="#8a8a8a"/>
<rect x="471.70" y="93.00" width="6" height="1.1" fill="#8a8a8a"/>
<rect x="471.70" y="95.10" width="4" height="1.1" fill="#8a8a8a"/>
<rect x="479.70" y="93.00" width="10" height="1.1" fill="#8a8a8a"/>
<rect x="479.70" y="95.10" width="8" height="1.1" fill="#8a8a8a"/>
<rect x="491.70" y="93.00" width="8" height="1.1" fill="#8a8a8a"/>
<rect x="491.70" y="95.10" width="6" height="1.1" fill="#8a8a8a"/>
<rect x="501.70" y="93.00" width="6" height="1.1" fill="#8a8a8a"/>
<rect x="501.70" y="95.10" width="4" height="1.1" fill="#8a8a8a"/>
<rect x="510.70" y="93.00" width="10" height="1.1" fill="#8a8a8a"/>
<rect x="510.70" y="95.10" width="8" height="1.1" fill="#8a8a8a"/>
<rect x="521.20" y="93.00" width="30" height="1.3" fill="none" stroke="#888" stroke-width="0.5"/>
<rect x="523.20" y="95.20" width="26" height="1" fill="#7a7a7a"/>
<g clip-path="url(#semc12)">
<ellipse cx="446.6" cy="52.6" rx="23.7" ry="50.4" fill="url(#ovd)"/>
<ellipse cx="499.9" cy="80.0" rx="35.5" ry="16.8" fill="url(#ovd)"/>
<ellipse cx="529.6" cy="36.9" rx="35.5" ry="29.4" fill="url(#ovl)"/>
</g>
<clipPath id="semc13"><rect x="566.20" y="13.40" width="118.80" height="84.00"/></clipPath>
<g clip-path="url(#semc13)">
<rect x="566.20" y="13.40" width="118.80" height="84.00" fill="#3a3a3a"/>
<g stroke="#f0f0f0" stroke-width="0.55" stroke-opacity="0.9"><path d="M675.1,21.5L673.0,25.0L670.6,19.1L672.8,18.8Z" fill="url(#sg1)" fill-opacity="0.88"/><path d="M674.7,11.2L669.0,11.2L669.4,12.1L671.0,13.2L673.0,13.2Z" fill="url(#sg1)" fill-opacity="0.86"/><path d="M661.7,38.4L661.4,35.3L661.8,34.8L666.2,35.5L666.8,39.9L666.1,40.5L664.7,40.4Z" fill="url(#sg1d)" fill-opacity="0.72"/><path d="M595.4,33.4L594.3,34.2L595.0,37.5L598.1,37.4L598.5,37.2L599.5,35.5L599.2,34.7Z" fill="url(#sg1)" fill-opacity="0.84"/><path d="M570.4,19.8L568.2,19.8L566.2,23.7L570.4,26.0L572.5,21.3Z" fill="url(#sg1)" fill-opacity="0.96"/><path d="M679.4,38.4L679.9,35.0L684.9,35.0L685.5,37.1L679.8,39.0Z" fill="url(#sg1)" fill-opacity="0.95"/><path d="M640.0,49.9L634.5,48.8L634.7,47.2L637.5,43.8L639.1,44.0L640.8,47.0Z" fill="url(#sg1)" fill-opacity="0.64"/><path d="M677.1,62.2L675.3,58.8L677.7,56.2L680.8,57.5L681.8,61.5L679.1,62.6Z" fill="url(#sg1)" fill-opacity="0.73"/><path d="M601.1,48.2L596.7,48.1L596.0,47.2L595.6,43.9L596.0,43.5L597.7,43.1L600.0,43.6L601.5,47.9Z" fill="url(#sg1)" fill-opacity="0.91"/><path d="M665.7,17.4L668.1,18.6L666.4,23.3L662.0,22.3L662.3,19.6Z" fill="url(#sg1)" fill-opacity="0.94"/><path d="M564.2,77.2L564.2,79.7L565.6,81.3L572.0,81.0L573.8,78.0L573.5,76.7L571.5,74.5L570.7,74.4Z" fill="url(#sg1)" fill-opacity="1.00"/><path d="M618.3,62.7L619.3,64.0L618.8,68.0L617.7,68.6L612.3,66.4L612.1,65.6L614.4,63.2Z" fill="url(#sg1)" fill-opacity="1.00"/><path d="M666.7,62.5L664.1,59.7L666.5,57.7L668.8,59.2L668.4,62.5Z" fill="url(#sg1)" fill-opacity="0.78"/><path d="M616.1,35.5L617.6,36.9L614.6,40.7L612.5,37.9L614.2,35.5Z" fill="url(#sg1)" fill-opacity="0.72"/><path d="M635.0,99.6L632.5,98.5L632.1,98.5L629.6,99.6Z" fill="url(#sg1)" fill-opacity="0.82"/><path d="M574.0,76.6L579.0,74.5L580.8,76.3L577.2,79.2L574.3,78.0Z" fill="url(#sg1)" fill-opacity="1.00"/><path d="M663.0,84.3L664.9,87.9L665.4,88.3L668.3,87.4L669.1,81.0L666.4,79.3L664.6,80.0Z" fill="url(#sg1)" fill-opacity="1.00"/><path d="M624.0,62.4L623.8,60.3L626.2,59.3L626.7,62.1Z" fill="url(#sg1)" fill-opacity="0.76"/><path d="M593.6,65.0L594.0,66.3L592.6,69.3L592.3,69.5L588.4,68.6L588.9,65.4L591.2,64.3Z" fill="url(#sg1d)" fill-opacity="0.85"/><path d="M660.4,78.3L664.4,79.5L666.2,78.8L666.5,75.8L663.5,73.0L661.0,72.5L659.1,74.4L659.2,76.0Z" fill="url(#sg1)" fill-opacity="0.86"/><path d="M685.7,31.8L685.4,34.7L685.8,36.8L687.2,38.2L687.2,30.9L686.7,30.9Z" fill="url(#sg1d)" fill-opacity="0.89"/><path d="M629.3,29.5L630.6,29.7L634.2,33.8L634.2,34.4L630.4,36.1L628.5,35.3L628.8,29.8Z" fill="url(#sg1d)" fill-opacity="0.79"/><path d="M657.8,80.5L656.9,84.1L653.2,84.2L651.8,81.2L653.9,79.3Z" fill="url(#sg1)" fill-opacity="0.93"/><path d="M568.2,11.3L565.0,11.3L564.7,15.4L566.0,15.7Z" fill="url(#sg1)" fill-opacity="0.81"/><path d="M640.7,51.4L637.2,55.0L637.2,55.0L636.1,54.6L634.1,49.7L634.5,49.1L640.0,50.3Z" fill="url(#sg1)" fill-opacity="1.00"/><path d="M686.6,90.9L687.0,95.4L687.2,99.5L682.0,99.5L680.4,94.0L682.8,90.6Z" fill="url(#sg1d)" fill-opacity="0.88"/><path d="M576.7,46.9L578.2,49.0L576.7,50.2L574.3,49.1L575.4,47.0Z" fill="url(#sg1)" fill-opacity="1.00"/><path d="M587.9,59.5L591.4,59.5L591.8,60.6L591.0,63.8L588.7,65.0L586.6,62.4Z" fill="url(#sg1)" fill-opacity="0.67"/><path d="M633.4,87.5L629.1,88.1L627.5,91.7L632.0,98.0L632.5,98.0L635.2,88.4Z" fill="url(#sg1)" fill-opacity="0.99"/><path d="M652.3,18.6L650.0,18.5L651.9,25.5L652.0,25.5L654.4,23.7Z" fill="url(#sg1)" fill-opacity="0.86"/><path d="M629.3,29.0L630.6,29.1L633.1,27.5L632.4,24.6L631.4,24.6L630.1,25.2L629.3,26.2Z" fill="url(#sg1)" fill-opacity="0.78"/><path d="M630.8,11.2L634.3,14.4L636.1,14.2L637.2,11.2Z" fill="url(#sg1)" fill-opacity="0.81"/><path d="M570.7,44.2L568.6,47.2L564.2,47.5L564.1,47.5L564.1,41.3L565.7,40.6L569.1,41.4Z" fill="url(#sg1)" fill-opacity="0.75"/><path d="M655.8,17.9L660.4,23.1L659.7,24.1L656.0,23.3Z" fill="url(#sg1)" fill-opacity="0.84"/><path d="M601.2,57.3L603.7,62.2L603.1,63.0L599.2,61.8L598.8,59.6Z" fill="url(#sg1)" fill-opacity="0.83"/><path d="M574.6,41.8L573.2,43.4L571.1,43.9L569.6,41.2L571.4,38.5L572.0,38.5Z" fill="url(#sg1)" fill-opacity="0.85"/><path d="M683.5,16.5L685.9,13.4L687.2,14.3L687.2,20.3L685.2,20.3Z" fill="url(#sg1)" fill-opacity="0.81"/><path d="M648.7,79.9L648.8,76.9L646.8,74.8L643.9,75.6L643.1,76.5L646.1,81.1Z" fill="url(#sg1)" fill-opacity="0.90"/><path d="M622.3,81.8L619.8,81.3L618.9,78.8L619.7,77.7L622.1,78.0L623.8,80.2Z" fill="url(#sg1)" fill-opacity="0.75"/><path d="M652.0,90.0L654.8,90.8L657.1,95.2L656.1,97.0L651.6,98.2L651.3,97.8L650.7,91.9Z" fill="url(#sg1)" fill-opacity="0.79"/><path d="M622.6,40.8L620.9,41.5L620.6,42.1L623.6,45.2L626.2,45.1L627.3,43.4L625.8,41.5Z" fill="url(#sg1)" fill-opacity="0.75"/><path d="M581.3,58.4L577.2,58.0L576.5,58.9L578.4,63.6L580.4,64.1L581.9,62.4Z" fill="url(#sg1)" fill-opacity="0.76"/><path d="M638.6,71.6L641.1,70.2L641.7,67.8L641.2,66.2L641.0,66.2L637.2,67.6L636.7,68.5L637.1,70.7Z" fill="url(#sg1)" fill-opacity="0.73"/><path d="M657.4,95.0L655.2,90.6L658.4,88.5L659.6,89.6L660.1,93.6Z" fill="url(#sg1)" fill-opacity="0.86"/><path d="M658.2,99.6L651.6,99.6L651.7,98.4L656.0,97.4Z" fill="url(#sg1)" fill-opacity="0.94"/><path d="M631.1,40.6L636.2,40.7L637.1,37.0L634.4,34.8L630.6,36.5Z" fill="url(#sg1)" fill-opacity="0.85"/><path d="M675.1,29.5L674.7,27.2L680.4,25.8L681.2,30.3L679.7,31.4L675.3,29.7Z" fill="url(#sg1)" fill-opacity="0.99"/><path d="M685.4,31.7L684.9,34.8L679.9,34.6L679.7,34.2L680.1,31.7L681.5,30.7Z" fill="url(#sg1)" fill-opacity="0.72"/><path d="M673.5,36.8L675.3,34.0L675.0,30.0L674.8,29.8L670.2,33.8L673.1,37.0Z" fill="url(#sg1)" fill-opacity="0.82"/><path d="M612.6,81.1L611.2,84.9L608.2,83.7L609.8,79.7Z" fill="url(#sg1)" fill-opacity="0.85"/><path d="M598.3,65.0L597.9,64.0L595.2,63.9L594.1,64.8L594.5,66.1L596.6,66.9Z" fill="url(#sg1)" fill-opacity="0.77"/><path d="M628.7,21.8L629.9,21.3L631.1,19.7L630.9,18.5L626.9,18.8L625.9,21.3L626.2,21.9Z" fill="url(#sg1)" fill-opacity="0.97"/><path d="M641.6,66.1L644.3,64.5L647.2,66.5L646.0,68.5L642.2,67.6Z" fill="url(#sg1d)" fill-opacity="0.73"/><path d="M579.4,74.2L578.4,71.1L581.2,68.3L585.3,70.1L583.8,74.7L581.3,76.1L581.1,76.0Z" fill="url(#sg1d)" fill-opacity="0.82"/><path d="M635.8,54.7L633.8,49.8L629.9,51.1L630.6,55.8L632.8,56.6Z" fill="url(#sg1)" fill-opacity="0.78"/><path d="M618.5,78.5L619.3,77.4L618.5,74.5L618.5,74.5L614.5,76.2L614.5,76.3L614.7,76.9L617.4,78.5Z" fill="url(#sg1)" fill-opacity="0.77"/><path d="M613.9,72.4L617.1,71.5L618.4,74.2L614.4,75.9Z" fill="url(#sg1)" fill-opacity="0.85"/><path d="M613.0,14.6L610.9,11.9L610.9,11.2L614.5,11.3L616.5,13.5L615.3,14.6Z" fill="url(#sg1)" fill-opacity="0.62"/><path d="M686.6,90.3L686.1,88.9L682.5,88.0L683.0,90.3L686.5,90.5Z" fill="url(#sg1)" fill-opacity="0.73"/><path d="M567.5,55.2L566.2,54.9L564.2,56.8L564.1,59.0L567.6,60.1L568.6,58.4Z" fill="url(#sg1)" fill-opacity="0.81"/><path d="M681.6,87.0L677.4,89.7L675.5,87.0L675.8,85.7L677.2,85.0L680.2,85.2L681.5,86.3L681.6,86.8Z" fill="url(#sg1d)" fill-opacity="0.77"/><path d="M679.7,21.3L676.8,21.0L675.5,21.7L673.3,25.1L673.2,25.5L674.6,26.8L680.3,25.5L681.4,24.2L681.4,23.2Z" fill="url(#sg1)" fill-opacity="0.86"/><path d="M640.3,25.7L639.1,29.8L636.9,30.0L635.6,27.9L637.5,24.3Z" fill="url(#sg1)" fill-opacity="0.95"/><path d="M580.3,84.5L579.8,87.9L586.7,89.1L586.9,85.6L582.7,82.9Z" fill="url(#sg1)" fill-opacity="0.78"/><path d="M660.7,17.1L662.1,19.2L665.6,17.0L664.9,15.0L662.9,13.7L661.8,14.3Z" fill="url(#sg1)" fill-opacity="1.00"/><path d="M581.1,40.1L583.3,41.8L585.6,40.9L585.7,37.1L581.3,37.5Z" fill="url(#sg1)" fill-opacity="0.83"/><path d="M604.2,79.9L600.9,82.7L601.8,85.4L604.0,86.6L606.4,83.9L604.8,80.1Z" fill="url(#sg1)" fill-opacity="0.86"/><path d="M644.5,88.8L646.1,86.1L651.2,87.3L651.7,89.7L650.4,91.5L645.9,91.2Z" fill="url(#sg1)" fill-opacity="0.93"/><path d="M615.0,25.3L617.6,24.7L617.8,21.6L617.1,20.3L614.9,19.4L612.8,20.1L610.6,22.8Z" fill="url(#sg1d)" fill-opacity="0.79"/><path d="M621.1,12.3L619.7,12.1L617.6,13.6L619.6,17.0L621.6,17.2L623.2,15.6Z" fill="url(#sg1d)" fill-opacity="0.72"/><path d="M600.3,66.3L602.9,65.7L604.6,67.8L604.2,71.3L599.9,69.4Z" fill="url(#sg1)" fill-opacity="0.80"/><path d="M564.1,30.6L564.1,24.8L566.1,24.1L570.2,26.4L571.8,28.5L571.9,29.3Z" fill="url(#sg1)" fill-opacity="0.76"/><path d="M607.5,31.4L609.7,33.5L609.3,37.4L608.6,37.9L605.0,35.5L606.1,31.3Z" fill="url(#sg1)" fill-opacity="0.66"/><path d="M665.4,14.9L669.0,12.3L670.7,13.6L668.9,18.1L668.3,18.2L666.1,17.0Z" fill="url(#sg1)" fill-opacity="0.90"/><path d="M666.9,44.5L666.5,40.9L667.1,40.3L671.6,40.5L672.7,43.3L671.3,46.8L669.0,46.9Z" fill="url(#sg1)" fill-opacity="0.67"/><path d="M565.7,81.6L572.0,81.4L573.7,83.5L573.1,85.8L567.0,86.4Z" fill="url(#sg1)" fill-opacity="0.76"/><path d="M632.4,65.1L633.0,64.5L634.0,61.8L634.0,60.9L633.4,60.6L630.4,61.5L629.4,63.2L629.8,64.0Z" fill="url(#sg1)" fill-opacity="0.79"/><path d="M614.7,19.0L615.3,15.0L613.0,15.1L611.6,16.7L612.7,19.7Z" fill="url(#sg1)" fill-opacity="0.77"/><path d="M686.9,90.7L687.3,90.5L687.3,95.2L686.8,90.9Z" fill="url(#sg1)" fill-opacity="0.89"/><path d="M666.9,67.7L666.1,68.7L665.1,69.0L663.2,67.9L662.8,65.3L664.8,65.1Z" fill="url(#sg1)" fill-opacity="0.87"/><path d="M628.9,29.1L628.8,26.2L626.0,24.1L623.5,27.1L625.5,29.1L628.4,29.4Z" fill="url(#sg1)" fill-opacity="0.80"/><path d="M625.1,65.8L628.0,66.4L628.1,67.9L626.9,69.1L624.3,67.6L624.5,65.9Z" fill="url(#sg1)" fill-opacity="0.65"/><path d="M677.2,84.6L678.7,80.8L680.9,81.5L680.3,84.8Z" fill="url(#sg1)" fill-opacity="0.77"/><path d="M604.2,86.9L604.6,88.1L607.0,91.4L608.7,92.0L610.0,91.1L611.4,85.7L611.1,85.3L607.9,84.1L606.8,84.2Z" fill="url(#sg1)" fill-opacity="0.94"/><path d="M662.4,65.3L662.7,67.9L660.5,70.0L657.9,67.6L659.1,65.8L661.5,64.8Z" fill="url(#sg1)" fill-opacity="0.92"/><path d="M655.6,17.9L655.7,23.2L654.6,23.6L652.6,18.5L655.5,17.9Z" fill="url(#sg1)" fill-opacity="0.80"/><path d="M652.2,89.6L654.9,90.3L658.1,88.1L657.9,85.5L656.9,84.6L653.2,84.6L651.7,87.2Z" fill="url(#sg1)" fill-opacity="0.89"/><path d="M617.5,71.2L618.7,74.0L618.7,74.0L621.3,73.1L622.1,71.2L621.7,69.6L619.1,68.5L618.0,69.1Z" fill="url(#sg1d)" fill-opacity="0.89"/><path d="M646.1,85.7L645.4,82.9L646.3,81.5L648.9,80.3L651.4,81.3L652.8,84.3L651.3,87.0Z" fill="url(#sg1)" fill-opacity="0.79"/><path d="M665.5,50.6L665.5,52.6L666.5,53.6L671.2,53.7L673.3,51.3L673.1,49.8L671.3,47.2L669.0,47.4Z" fill="url(#sg1)" fill-opacity="0.79"/><path d="M603.7,87.0L604.0,88.2L599.5,91.0L598.0,90.5L596.7,87.9L601.6,85.9Z" fill="url(#sg1)" fill-opacity="0.86"/><path d="M660.2,78.8L664.2,79.9L662.5,84.1L658.3,85.2L657.3,84.2L658.3,80.6Z" fill="url(#sg1)" fill-opacity="0.87"/><path d="M623.4,37.5L622.7,40.4L625.9,41.1L626.0,36.9Z" fill="url(#sg1)" fill-opacity="0.87"/><path d="M630.0,24.7L631.3,24.2L630.2,21.7L628.9,22.3Z" fill="url(#sg1)" fill-opacity="0.81"/><path d="M624.0,65.8L623.8,67.6L621.9,69.1L619.3,68.1L619.7,64.1L622.9,64.2Z" fill="url(#sg1)" fill-opacity="0.85"/><path d="M609.9,28.7L607.4,30.9L606.0,30.8L603.5,28.5L603.5,26.6L608.3,22.8L610.2,23.1Z" fill="url(#sg1)" fill-opacity="0.82"/><path d="M659.5,42.6L656.7,45.6L654.1,45.0L655.2,39.6L659.3,40.9Z" fill="url(#sg1)" fill-opacity="0.82"/><path d="M612.3,32.9L610.1,33.1L607.7,31.1L610.2,29.0L613.8,29.8L614.0,30.2Z" fill="url(#sg1)" fill-opacity="0.87"/><path d="M582.6,45.0L583.5,42.2L585.8,41.3L588.5,43.1L587.0,45.6L584.4,46.7Z" fill="url(#sg1)" fill-opacity="0.67"/><path d="M660.0,42.4L659.8,40.8L661.4,38.7L664.5,40.7L661.9,43.4Z" fill="url(#sg1)" fill-opacity="0.97"/><path d="M609.1,75.9L614.0,76.1L614.0,76.0L613.5,72.5L611.2,70.7L607.9,73.1Z" fill="url(#sg1)" fill-opacity="0.89"/><path d="M633.0,67.3L636.2,68.3L636.7,67.4L636.1,65.5L633.3,65.0L632.7,65.5Z" fill="url(#sg1)" fill-opacity="0.75"/><path d="M685.1,20.8L687.1,20.7L687.1,25.2L685.8,26.3L681.9,24.2L681.9,23.2Z" fill="url(#sg1)" fill-opacity="0.84"/><path d="M642.1,67.9L645.9,68.8L646.1,70.4L643.1,71.3L641.5,70.3Z" fill="url(#sg1)" fill-opacity="0.79"/><path d="M630.7,79.3L626.8,78.0L625.3,80.2L627.8,82.1L631.0,80.4Z" fill="url(#sg1d)" fill-opacity="0.79"/><path d="M601.1,48.5L596.8,48.6L596.0,50.8L597.4,53.4L599.9,53.9Z" fill="url(#sg1)" fill-opacity="0.81"/><path d="M646.1,11.2L647.4,13.2L651.9,11.2Z" fill="url(#sg1)" fill-opacity="0.92"/><path d="M683.6,80.7L684.7,83.4L687.2,84.4L687.2,78.4L684.3,79.1Z" fill="url(#sg1)" fill-opacity="0.73"/><path d="M653.6,78.9L651.6,80.9L649.1,79.9L649.3,76.9L652.4,74.9L652.8,75.1L653.9,77.4Z" fill="url(#sg1)" fill-opacity="0.95"/><path d="M656.2,16.9L660.3,17.0L661.4,14.2L656.2,12.3Z" fill="url(#sg1)" fill-opacity="0.93"/><path d="M605.7,31.2L604.5,35.4L603.7,36.0L599.9,35.3L599.7,34.5L600.8,30.5L603.2,28.8Z" fill="url(#sg1)" fill-opacity="0.70"/><path d="M598.4,81.0L600.7,82.4L604.0,79.7L601.7,76.7Z" fill="url(#sg1)" fill-opacity="0.85"/><path d="M607.7,72.8L604.7,71.8L604.6,71.4L605.1,67.9L609.7,65.0L611.6,65.8L611.8,66.6L610.9,70.3Z" fill="url(#sg1)" fill-opacity="0.82"/><path d="M625.6,23.9L625.7,22.2L625.5,21.6L623.0,21.2L620.8,26.5L623.3,26.8Z" fill="url(#sg1)" fill-opacity="0.78"/><path d="M673.7,37.3L678.9,38.6L679.3,39.2L679.4,41.9L678.3,42.9L673.2,43.1L672.1,40.3L673.2,37.4Z" fill="url(#sg1)" fill-opacity="0.92"/><path d="M622.1,11.2L621.0,11.8L619.9,11.8L619.7,11.2Z" fill="url(#sg1)" fill-opacity="0.74"/><path d="M579.8,88.2L586.6,89.4L587.6,91.0L584.9,94.5L579.9,94.1L579.1,92.3L579.2,88.9Z" fill="url(#sg1d)" fill-opacity="0.92"/><path d="M631.2,80.7L627.9,82.6L627.9,86.2L629.0,87.7L633.3,87.0L633.0,82.0Z" fill="url(#sg1)" fill-opacity="0.79"/><path d="M595.1,33.0L594.0,33.8L589.8,32.7L589.7,30.5L593.1,26.5L595.7,29.7Z" fill="url(#sg1)" fill-opacity="0.93"/><path d="M641.5,51.2L645.6,49.8L643.8,47.0L641.2,47.3L640.5,50.1L641.1,51.1Z" fill="url(#sg1)" fill-opacity="0.69"/><path d="M608.6,76.1L608.3,77.4L604.9,79.6L604.3,79.4L602.0,76.4L601.9,75.5L604.6,72.2L607.5,73.3Z" fill="url(#sg1)" fill-opacity="0.76"/><path d="M681.2,57.4L684.5,53.9L687.2,53.8L687.1,60.8L685.0,62.6L682.2,61.4Z" fill="url(#sg1)" fill-opacity="0.93"/><path d="M617.3,19.9L619.2,17.2L617.3,13.8L616.8,13.8L615.6,15.0L615.1,19.0Z" fill="url(#sg1)" fill-opacity="0.78"/><path d="M633.4,81.9L633.7,87.0L635.5,87.9L637.5,87.8L639.7,82.9L638.4,80.4L637.0,79.9Z" fill="url(#sg1)" fill-opacity="0.88"/><path d="M633.8,75.4L634.1,72.5L636.8,71.2L638.3,72.0L638.6,73.7L635.7,76.5Z" fill="url(#sg1)" fill-opacity="0.89"/><path d="M686.9,90.1L687.2,90.0L687.3,85.2L686.4,87.2L686.5,88.6Z" fill="url(#sg1)" fill-opacity="0.91"/><path d="M571.6,53.5L571.6,53.4L571.4,50.3L568.7,47.7L564.3,47.9L566.4,54.4L567.7,54.7Z" fill="url(#sg1)" fill-opacity="0.76"/><path d="M657.5,67.4L655.7,68.0L652.9,65.9L654.5,62.2L656.3,62.2L658.6,65.6Z" fill="url(#sg1)" fill-opacity="1.00"/><path d="M595.1,70.0L592.9,69.7L592.6,69.9L593.1,71.7L595.8,73.0L597.0,72.7L597.0,71.9Z" fill="url(#sg1)" fill-opacity="0.81"/><path d="M571.7,91.2L572.2,93.1L569.4,99.4L564.1,99.5L564.1,91.6L566.6,88.1Z" fill="url(#sg1)" fill-opacity="0.97"/><path d="M584.1,50.7L586.3,51.7L586.7,53.2L584.0,56.3L582.6,56.5L581.3,53.1L582.1,51.5Z" fill="url(#sg1)" fill-opacity="0.77"/><path d="M659.7,29.1L655.5,30.1L653.1,34.6L653.4,35.8L653.9,36.1L661.0,35.0L661.4,34.5L661.0,30.3Z" fill="url(#sg1)" fill-opacity="0.80"/><path d="M678.3,43.3L673.1,43.5L671.6,46.9L673.5,49.5L678.5,47.6Z" fill="url(#sg1)" fill-opacity="0.90"/><path d="M660.5,93.6L664.5,94.4L665.2,88.7L664.7,88.4L660.0,89.5Z" fill="url(#sg1)" fill-opacity="1.00"/><path d="M597.0,67.9L596.9,67.2L598.5,65.3L599.9,66.3L599.6,69.3L599.3,69.4Z" fill="url(#sg1)" fill-opacity="1.00"/><path d="M626.1,58.9L626.9,57.7L623.4,54.2L622.1,55.2L621.3,58.4L623.6,59.9Z" fill="url(#sg1)" fill-opacity="0.75"/><path d="M572.7,61.9L573.6,64.9L578.1,63.8L576.2,58.9L573.3,59.8Z" fill="url(#sg1)" fill-opacity="1.00"/><path d="M615.4,56.7L617.3,54.0L615.8,50.9L614.9,51.3L611.7,54.9L612.2,56.9L613.1,57.3Z" fill="url(#sg1)" fill-opacity="0.68"/><path d="M602.0,41.1L598.7,37.6L598.3,37.9L597.8,42.6L600.1,43.1Z" fill="url(#sg1)" fill-opacity="0.86"/><path d="M628.9,25.8L629.8,24.9L628.6,22.3L626.2,22.2L626.2,23.9Z" fill="url(#sg1)" fill-opacity="0.88"/><path d="M595.5,33.0L599.3,34.4L600.5,30.4L596.2,29.8Z" fill="url(#sg1)" fill-opacity="0.78"/><path d="M575.0,42.1L573.6,43.6L575.3,46.6L576.8,46.4L578.4,44.5L577.2,42.0L576.5,41.7Z" fill="url(#sg1)" fill-opacity="0.83"/><path d="M680.7,74.2L676.2,71.7L677.0,68.9L678.8,68.4L683.2,70.4Z" fill="url(#sg1)" fill-opacity="0.89"/><path d="M570.9,73.9L571.6,74.0L575.5,70.5L573.0,66.3L570.7,67.3L569.8,68.4Z" fill="url(#sg1)" fill-opacity="0.84"/><path d="M563.9,47.9L564.1,48.0L566.0,54.4L563.9,56.5Z" fill="url(#sg1)" fill-opacity="0.89"/><path d="M577.4,99.5L579.5,94.4L578.6,92.6L572.7,93.3L569.7,99.6Z" fill="url(#sg1)" fill-opacity="0.87"/><path d="M655.9,17.8L660.6,22.9L661.6,22.2L661.8,19.5L660.3,17.4L656.2,17.2L655.9,17.7Z" fill="url(#sg1)" fill-opacity="0.80"/><path d="M683.2,43.6L684.5,45.9L681.0,49.1L678.9,47.5L678.7,43.3L679.7,42.3Z" fill="url(#sg1)" fill-opacity="0.86"/><path d="M573.6,85.9L574.7,87.6L578.8,88.5L579.4,87.9L579.8,84.5L577.7,83.0L574.2,83.6Z" fill="url(#sg1d)" fill-opacity="0.87"/><path d="M646.3,70.8L643.2,71.7L643.9,75.2L646.7,74.3L647.5,72.0Z" fill="url(#sg1)" fill-opacity="0.90"/><path d="M644.4,58.1L643.9,61.2L644.7,62.1L647.1,60.9L644.8,57.8Z" fill="url(#sg1)" fill-opacity="0.88"/><path d="M629.5,72.4L627.0,71.5L626.2,72.3L626.1,74.8L626.8,75.6L629.4,75.0Z" fill="url(#sg1)" fill-opacity="0.67"/><path d="M649.1,76.6L647.1,74.4L647.9,72.1L650.1,71.6L650.8,72.0L652.2,74.6Z" fill="url(#sg1)" fill-opacity="0.65"/><path d="M619.2,59.7L620.9,58.4L621.7,55.1L617.7,54.2L615.8,56.9Z" fill="url(#sg1)" fill-opacity="1.00"/><path d="M681.7,87.3L682.1,88.1L682.5,90.3L680.1,93.7L677.7,91.1L677.5,89.9Z" fill="url(#sg1)" fill-opacity="0.75"/><path d="M686.7,30.4L687.2,30.4L687.3,25.6L686.0,26.8Z" fill="url(#sg1)" fill-opacity="0.87"/><path d="M643.8,46.6L644.9,44.0L642.5,42.4L639.4,43.9L641.2,46.8Z" fill="url(#sg1)" fill-opacity="0.84"/><path d="M602.2,40.9L598.9,37.5L599.9,35.7L603.6,36.4L603.1,40.7Z" fill="url(#sg1d)" fill-opacity="0.82"/><path d="M638.8,72.0L639.1,73.7L641.7,76.3L642.7,76.2L643.5,75.3L642.8,71.8L641.3,70.7Z" fill="url(#sg1d)" fill-opacity="0.69"/><path d="M677.4,91.5L679.9,94.1L681.7,99.5L674.0,99.5L673.6,93.4Z" fill="url(#sg1)" fill-opacity="1.00"/><path d="M618.9,60.0L615.6,57.2L613.2,57.7L614.4,62.8L618.2,62.3Z" fill="url(#sg1)" fill-opacity="0.75"/><path d="M606.7,53.2L609.5,53.7L611.2,55.0L611.8,57.0L608.1,59.1L604.8,55.7Z" fill="url(#sg1d)" fill-opacity="0.97"/><path d="M641.2,57.8L640.1,60.3L639.6,60.7L637.7,59.5L637.3,55.5L637.3,55.5L640.7,56.7Z" fill="url(#sg1)" fill-opacity="0.90"/><path d="M670.0,33.5L669.1,33.3L667.5,28.5L668.6,26.4L672.8,25.8L674.2,27.2L674.6,29.5Z" fill="url(#sg1)" fill-opacity="0.78"/><path d="M584.3,56.5L586.9,53.5L588.6,54.9L587.5,58.8Z" fill="url(#sg1)" fill-opacity="0.79"/><path d="M635.9,76.8L638.8,74.0L641.4,76.6L638.5,79.9L637.1,79.4Z" fill="url(#sg1)" fill-opacity="0.86"/><path d="M641.3,51.7L642.3,53.9L640.9,56.3L637.4,55.1L640.9,51.6Z" fill="url(#sg1)" fill-opacity="0.90"/><path d="M618.9,37.0L620.7,41.1L622.3,40.3L623.0,37.4L620.5,36.0Z" fill="url(#sg1)" fill-opacity="0.97"/><path d="M604.4,47.9L606.4,42.4L607.6,42.1L608.5,42.7L609.5,47.4L609.5,47.5L605.7,48.8Z" fill="url(#sg1)" fill-opacity="0.89"/><path d="M683.2,16.8L684.9,20.5L681.7,22.9L680.1,21.0L680.7,17.2Z" fill="url(#sg1)" fill-opacity="0.83"/><path d="M577.7,99.6L586.4,99.6L584.9,94.9L579.9,94.5Z" fill="url(#sg1)" fill-opacity="0.79"/><path d="M596.9,80.9L593.8,83.0L591.9,82.1L593.2,77.3L594.4,76.8L596.2,77.6Z" fill="url(#sg1)" fill-opacity="0.78"/><path d="M611.4,70.4L612.2,66.7L617.6,68.9L616.9,71.1L613.7,72.1Z" fill="url(#sg1)" fill-opacity="0.78"/><path d="M581.3,37.1L580.0,35.6L582.4,32.4L586.7,35.5L585.7,36.8Z" fill="url(#sg1)" fill-opacity="0.73"/><path d="M607.5,41.6L608.4,38.2L604.8,35.9L603.9,36.4L603.5,40.7L606.3,41.9Z" fill="url(#sg1)" fill-opacity="0.78"/><path d="M646.6,70.3L646.4,68.7L647.6,66.7L649.5,66.1L650.7,66.5L650.1,71.1L647.8,71.7Z" fill="url(#sg1)" fill-opacity="0.90"/><path d="M653.6,52.7L657.8,52.0L659.3,54.4L657.4,56.8L654.0,56.5Z" fill="url(#sg1)" fill-opacity="0.93"/><path d="M665.2,69.5L666.3,69.2L668.4,73.5L666.7,75.5L663.8,72.7Z" fill="url(#sg1)" fill-opacity="0.84"/><path d="M664.7,64.6L662.7,64.9L661.8,64.3L661.8,60.8L662.7,60.0L663.8,59.9L666.4,62.8Z" fill="url(#sg1)" fill-opacity="1.00"/><path d="M601.5,48.6L600.3,54.0L601.7,56.0L604.4,55.5L606.2,52.9L605.4,49.3L604.1,48.4L601.8,48.3Z" fill="url(#sg1)" fill-opacity="0.78"/><path d="M631.3,68.8L628.6,67.9L628.6,66.4L629.6,64.4L632.2,65.5L632.5,67.3Z" fill="url(#sg1d)" fill-opacity="1.00"/><path d="M653.5,52.3L652.9,51.8L652.8,45.9L654.0,45.5L656.5,46.1L658.8,48.7L657.7,51.5Z" fill="url(#sg1)" fill-opacity="0.83"/><path d="M644.9,17.9L646.5,16.6L647.0,13.5L645.7,11.3L637.7,11.3L636.5,14.4L639.1,17.3Z" fill="url(#sg1)" fill-opacity="0.79"/><path d="M637.0,55.5L637.3,59.5L634.3,60.5L633.7,60.1L633.1,57.0L636.0,55.1Z" fill="url(#sg1)" fill-opacity="0.76"/><path d="M664.5,99.6L666.5,98.4L668.5,99.6Z" fill="url(#sg1)" fill-opacity="0.99"/><path d="M681.1,74.4L681.0,74.9L684.2,78.6L687.1,78.0L687.1,70.0L686.0,69.5L683.5,70.7Z" fill="url(#sg1)" fill-opacity="0.87"/><path d="M675.8,33.9L679.3,34.1L679.6,31.7L675.3,30.0Z" fill="url(#sg1)" fill-opacity="0.86"/><path d="M599.9,54.4L597.4,53.9L594.0,56.3L597.2,59.0L598.6,59.2L601.0,57.0L601.3,56.3Z" fill="url(#sg1d)" fill-opacity="0.92"/><path d="M575.8,21.4L577.0,22.9L581.9,24.8L584.4,21.4L583.5,19.5L577.7,17.7L576.7,18.0Z" fill="url(#sg1)" fill-opacity="0.99"/><path d="M599.5,69.9L599.8,69.8L604.1,71.6L604.3,72.0L601.5,75.1L598.9,74.6L597.5,72.8L597.6,72.0Z" fill="url(#sg1)" fill-opacity="0.80"/><path d="M662.3,43.6L662.9,45.0L666.4,44.4L666.1,40.9L664.8,41.0Z" fill="url(#sg1)" fill-opacity="0.89"/><path d="M600.1,65.8L602.7,65.4L603.0,63.3L599.1,62.1L598.4,63.9L598.8,64.9Z" fill="url(#sg1)" fill-opacity="0.82"/><path d="M637.1,67.2L636.6,65.3L637.1,64.1L639.3,63.1L640.9,65.9Z" fill="url(#sg1)" fill-opacity="0.90"/><path d="M672.8,37.2L671.7,40.1L667.1,39.9L666.6,35.5L669.1,33.8L669.9,34.0Z" fill="url(#sg1)" fill-opacity="0.74"/><path d="M572.3,62.1L573.3,65.0L572.9,65.9L570.6,66.8L567.7,63.5L568.4,61.8Z" fill="url(#sg1)" fill-opacity="0.81"/><path d="M644.8,21.4L648.1,26.9L644.6,28.3L641.5,25.4Z" fill="url(#sg1)" fill-opacity="0.84"/><path d="M630.3,61.0L633.4,60.2L632.6,57.1L630.5,56.3L628.6,57.7Z" fill="url(#sg1)" fill-opacity="0.86"/><path d="M589.6,42.9L591.2,43.8L595.2,43.6L595.5,43.2L593.7,38.9L591.6,39.2Z" fill="url(#sg1)" fill-opacity="0.99"/><path d="M595.6,51.0L592.4,51.8L592.1,54.5L593.4,56.1L593.7,56.1L597.0,53.7Z" fill="url(#sg1)" fill-opacity="0.90"/><path d="M610.2,22.6L608.4,22.3L606.1,18.2L606.6,16.2L608.0,15.7L611.1,16.8L612.4,19.9L610.2,22.6Z" fill="url(#sg1)" fill-opacity="0.81"/><path d="M625.0,79.9L624.1,80.0L622.5,77.7L623.4,75.6L625.8,75.2L626.5,76.0L626.4,77.8Z" fill="url(#sg1)" fill-opacity="0.92"/><path d="M576.8,35.1L579.6,35.4L582.1,32.2L581.6,27.8L574.7,31.5L576.0,34.5Z" fill="url(#sg1)" fill-opacity="0.86"/><path d="M618.6,37.1L620.4,41.3L620.1,41.9L618.2,42.9L614.8,42.1L614.8,40.9L617.9,37.1Z" fill="url(#sg1d)" fill-opacity="0.82"/><path d="M572.9,21.5L570.6,26.2L572.1,28.3L576.5,23.2L575.4,21.6Z" fill="url(#sg1)" fill-opacity="0.80"/><path d="M628.5,29.8L628.1,35.3L626.8,35.6L623.9,32.6L625.4,29.6Z" fill="url(#sg1)" fill-opacity="0.78"/><path d="M630.4,21.5L631.5,19.9L634.5,22.4L632.5,24.1L631.5,24.1Z" fill="url(#sg1)" fill-opacity="0.71"/><path d="M612.7,99.7L608.9,99.7L610.4,99.0Z" fill="url(#sg1)" fill-opacity="0.69"/><path d="M625.0,80.4L624.1,80.5L622.7,82.1L622.8,85.4L627.5,86.2L627.4,82.4Z" fill="url(#sg1)" fill-opacity="1.00"/><path d="M631.9,76.7L631.2,79.1L631.4,80.2L633.2,81.5L636.7,79.6L635.4,76.9L633.5,75.9Z" fill="url(#sg1)" fill-opacity="0.91"/><path d="M631.7,16.6L630.9,18.2L626.9,18.4L625.7,15.8L627.0,14.4Z" fill="url(#sg1)" fill-opacity="0.83"/><path d="M582.0,27.8L582.6,32.1L586.9,35.2L588.0,34.8L589.3,32.7L589.2,30.6L582.3,27.2Z" fill="url(#sg1)" fill-opacity="0.97"/><path d="M590.3,91.6L588.0,91.3L585.3,94.7L586.8,99.5L594.7,99.5L593.8,96.4Z" fill="url(#sg1)" fill-opacity="0.76"/><path d="M594.8,87.4L590.6,91.3L594.1,96.2L597.5,90.6L596.3,88.1Z" fill="url(#sg1)" fill-opacity="0.73"/><path d="M625.0,65.3L627.5,62.9L626.7,62.4L624.1,62.8L623.3,64.0L624.4,65.5Z" fill="url(#sg1d)" fill-opacity="0.92"/><path d="M651.1,71.6L655.1,69.7L655.4,68.3L652.7,66.3L651.0,66.6L650.4,71.2Z" fill="url(#sg1)" fill-opacity="1.00"/><path d="M584.4,50.3L586.5,51.3L589.0,49.5L587.2,46.0L584.5,47.1Z" fill="url(#sg1)" fill-opacity="0.79"/><path d="M626.4,36.9L627.0,36.1L628.3,35.8L630.2,36.6L630.7,40.7L629.4,42.6L627.6,43.2L626.2,41.1Z" fill="url(#sg1)" fill-opacity="0.89"/><path d="M616.5,35.2L618.0,36.6L618.7,36.6L620.2,35.6L621.0,33.3L619.1,30.8L617.1,31.5Z" fill="url(#sg1)" fill-opacity="0.75"/><path d="M588.0,76.8L589.8,75.0L587.5,69.6L585.6,70.2L584.3,74.8Z" fill="url(#sg1)" fill-opacity="0.64"/><path d="M586.1,37.1L587.1,35.7L588.1,35.3L591.3,38.9L589.2,42.7L588.7,42.7L586.1,40.9Z" fill="url(#sg1)" fill-opacity="0.91"/><path d="M588.5,79.2L590.8,82.0L591.6,82.1L592.9,77.2L590.2,75.4L590.0,75.4L588.3,77.2Z" fill="url(#sg1)" fill-opacity="0.77"/><path d="M654.0,56.9L652.3,59.0L654.4,61.7L656.2,61.6L658.3,59.9L657.4,57.3Z" fill="url(#sg1)" fill-opacity="0.97"/><path d="M675.1,87.3L670.8,88.9L671.2,91.7L673.5,93.0L677.2,91.2L677.0,89.9Z" fill="url(#sg1d)" fill-opacity="0.84"/><path d="M603.2,26.2L598.9,22.3L599.4,19.8L605.7,18.3L608.1,22.5Z" fill="url(#sg1)" fill-opacity="0.85"/><path d="M658.7,75.9L658.5,74.4L656.1,73.2L653.1,74.8L654.3,77.2Z" fill="url(#sg1)" fill-opacity="0.85"/><path d="M637.2,24.1L635.3,27.7L633.5,27.4L632.9,24.5L634.8,22.6L636.4,22.5Z" fill="url(#sg1)" fill-opacity="1.00"/><path d="M669.4,63.1L671.7,62.8L672.8,58.7L671.9,58.2L669.2,59.3L668.7,62.5Z" fill="url(#sg1)" fill-opacity="0.69"/><path d="M653.2,52.7L652.6,52.2L648.3,52.9L647.6,54.8L650.6,58.7L652.0,58.7L653.6,56.5Z" fill="url(#sg1d)" fill-opacity="0.98"/><path d="M579.6,48.9L578.5,48.9L577.1,46.7L578.7,44.8L580.6,45.7Z" fill="url(#sg1)" fill-opacity="0.78"/><path d="M627.6,11.1L627.2,11.1L627.4,11.2Z" fill="url(#sg1)" fill-opacity="1.00"/><path d="M613.8,35.2L612.2,37.7L609.6,37.5L610.1,33.5L612.4,33.4Z" fill="url(#sg1)" fill-opacity="0.66"/><path d="M621.7,54.8L617.8,53.7L616.2,50.7L616.6,49.8L619.0,48.5L620.4,48.8L623.6,52.6L623.2,53.8Z" fill="url(#sg1)" fill-opacity="0.89"/><path d="M661.5,60.3L658.7,59.7L657.8,57.1L659.7,54.6L661.2,54.9L662.4,59.6Z" fill="url(#sg1)" fill-opacity="0.86"/><path d="M574.8,41.6L572.3,38.3L575.8,34.9L576.6,35.6L576.4,41.2Z" fill="url(#sg1)" fill-opacity="0.80"/><path d="M564.2,71.6L567.3,68.8L569.4,68.5L570.6,74.0L564.0,77.0Z" fill="url(#sg1)" fill-opacity="0.85"/><path d="M680.8,75.2L683.9,78.9L683.1,80.5L681.1,81.1L678.8,80.4L677.1,78.1Z" fill="url(#sg1d)" fill-opacity="0.78"/><path d="M623.5,16.0L622.0,17.6L622.7,20.5L623.0,20.7L625.5,21.2L626.4,18.6L625.3,16.0Z" fill="url(#sg1)" fill-opacity="0.88"/><path d="M618.5,99.5L613.0,99.4L610.4,98.5L609.0,92.4L610.2,91.5L616.1,91.7Z" fill="url(#sg1)" fill-opacity="0.86"/><path d="M582.2,44.9L583.1,42.1L580.8,40.5L577.6,41.9L578.9,44.4L580.8,45.2Z" fill="url(#sg1)" fill-opacity="0.79"/><path d="M625.2,65.5L628.2,66.1L629.3,64.2L629.0,63.4L627.8,63.1Z" fill="url(#sg1)" fill-opacity="0.91"/><path d="M645.8,91.6L643.9,96.8L650.9,97.9L650.4,91.9Z" fill="url(#sg1)" fill-opacity="0.92"/><path d="M680.6,74.5L680.5,75.0L676.9,77.8L675.2,77.8L673.7,73.4L676.0,72.0Z" fill="url(#sg1d)" fill-opacity="0.86"/><path d="M610.0,47.7L613.6,46.3L616.1,49.6L615.7,50.5L614.8,50.8L611.2,49.9L609.9,47.8Z" fill="url(#sg1)" fill-opacity="0.84"/><path d="M577.5,79.6L578.0,82.6L580.1,84.1L582.5,82.4L582.8,81.1L581.2,76.6L581.1,76.6Z" fill="url(#sg1)" fill-opacity="0.85"/><path d="M661.2,38.4L661.1,35.3L653.9,36.4L655.3,39.3L659.4,40.5Z" fill="url(#sg1)" fill-opacity="0.84"/><path d="M600.9,11.2L596.6,13.7L593.9,13.0L593.4,11.2Z" fill="url(#sg1d)" fill-opacity="0.75"/><path d="M652.6,74.4L651.2,71.9L655.2,70.0L655.8,72.9L652.9,74.6Z" fill="url(#sg1)" fill-opacity="0.83"/><path d="M662.1,48.1L665.2,50.3L668.7,47.2L666.5,44.8L662.9,45.4Z" fill="url(#sg1)" fill-opacity="0.78"/><path d="M682.1,87.1L682.5,87.8L686.1,88.7L686.1,87.0L682.2,86.9Z" fill="url(#sg1)" fill-opacity="0.80"/><path d="M578.6,11.2L579.5,12.9L583.7,15.1L585.5,12.9L585.0,11.2Z" fill="url(#sg1)" fill-opacity="0.67"/><path d="M594.7,74.9L594.6,76.4L596.4,77.2L598.5,74.9L597.1,73.1L596.0,73.5Z" fill="url(#sg1)" fill-opacity="0.84"/><path d="M611.5,54.7L614.7,51.1L611.1,50.2L609.8,53.3Z" fill="url(#sg1)" fill-opacity="0.81"/><path d="M665.2,14.6L668.8,12.1L668.5,11.2L663.4,11.2L663.2,13.3Z" fill="url(#sg1)" fill-opacity="0.88"/><path d="M614.3,42.9L614.7,42.5L618.0,43.4L618.7,48.1L616.3,49.4L613.9,46.0Z" fill="url(#sg1)" fill-opacity="0.83"/><path d="M618.5,82.5L618.5,84.9L615.8,85.1L616.3,82.4Z" fill="url(#sg1d)" fill-opacity="0.77"/><path d="M666.2,96.2L670.7,91.8L670.3,89.0L668.4,87.8L665.5,88.8L664.8,94.5Z" fill="url(#sg1)" fill-opacity="0.77"/><path d="M575.9,70.3L573.3,66.1L573.8,65.3L578.3,64.1L580.2,64.6L580.9,67.9L578.1,70.7Z" fill="url(#sg1)" fill-opacity="0.88"/><path d="M573.9,76.4L571.9,74.2L575.8,70.8L577.9,71.2L578.9,74.2Z" fill="url(#sg1)" fill-opacity="0.75"/><path d="M574.6,88.1L578.8,88.9L578.6,92.3L572.7,92.9L572.2,91.1Z" fill="url(#sg1)" fill-opacity="0.96"/><path d="M620.1,99.6L629.2,99.5L631.7,98.1L627.2,92.0L624.2,92.7Z" fill="url(#sg1d)" fill-opacity="0.86"/><path d="M591.7,54.8L589.0,55.0L587.8,58.9L587.9,59.1L591.4,59.1L593.1,56.4Z" fill="url(#sg1)" fill-opacity="0.69"/><path d="M607.9,15.2L610.4,11.9L610.5,11.2L603.2,11.2L606.6,15.7Z" fill="url(#sg1)" fill-opacity="0.83"/><path d="M626.7,69.4L624.1,68.0L622.1,69.5L622.6,71.1L625.8,71.9L626.7,71.1Z" fill="url(#sg1)" fill-opacity="0.65"/><path d="M631.8,16.3L627.1,14.1L627.6,11.5L628.1,11.3L630.5,11.4L634.0,14.5Z" fill="url(#sg1)" fill-opacity="0.91"/><path d="M612.7,14.8L610.6,12.1L608.2,15.4L611.2,16.4Z" fill="url(#sg1)" fill-opacity="0.63"/><path d="M582.2,56.6L580.9,53.3L577.2,53.9L576.6,54.5L577.2,57.5L581.3,58.0Z" fill="url(#sg1)" fill-opacity="0.86"/><path d="M669.0,67.1L669.0,63.5L668.4,62.9L666.8,63.1L665.1,64.9L667.2,67.5Z" fill="url(#sg1)" fill-opacity="0.75"/><path d="M673.1,13.5L671.0,13.7L669.2,18.2L670.6,18.7L672.6,18.3L674.5,15.9Z" fill="url(#sg1)" fill-opacity="0.86"/><path d="M631.7,69.1L631.9,70.9L633.9,72.1L636.6,70.8L636.2,68.6L632.8,67.6Z" fill="url(#sg1)" fill-opacity="0.78"/><path d="M598.2,80.8L601.5,76.5L601.4,75.6L598.8,75.1L596.7,77.5L597.2,80.8Z" fill="url(#sg1)" fill-opacity="0.95"/><path d="M574.1,49.4L571.9,50.3L572.1,53.4L576.2,54.2L576.8,53.6L576.5,50.6Z" fill="url(#sg1)" fill-opacity="1.00"/><path d="M640.6,25.8L639.4,29.9L642.6,32.4L644.3,28.6L641.3,25.6Z" fill="url(#sg1)" fill-opacity="0.90"/><path d="M598.4,59.7L598.7,61.9L598.0,63.6L595.3,63.5L595.0,61.4L597.1,59.5Z" fill="url(#sg1)" fill-opacity="0.89"/><path d="M639.2,30.3L642.4,32.7L642.8,34.3L642.5,35.6L637.4,36.7L634.7,34.4L634.8,33.9L636.9,30.5Z" fill="url(#sg1)" fill-opacity="0.62"/><path d="M629.7,42.9L634.4,47.0L637.2,43.5L636.1,41.1L631.2,41.0Z" fill="url(#sg1)" fill-opacity="0.93"/><path d="M657.6,95.4L656.5,97.2L658.7,99.5L664.1,99.5L666.3,98.1L665.9,96.5L664.4,94.8L660.4,94.1Z" fill="url(#sg1)" fill-opacity="0.85"/><path d="M641.4,65.8L644.1,64.1L644.4,62.4L643.5,61.5L640.4,60.8L639.8,61.1L639.7,62.9L641.3,65.7Z" fill="url(#sg1)" fill-opacity="0.78"/><path d="M577.9,17.3L583.6,19.2L583.6,15.4L579.4,13.1Z" fill="url(#sg1)" fill-opacity="0.87"/><path d="M582.3,25.0L584.8,21.6L589.0,21.6L592.9,25.0L592.8,26.2L589.4,30.2L582.4,26.9Z" fill="url(#sg1)" fill-opacity="0.78"/><path d="M645.1,21.2L648.4,26.7L648.4,26.7L651.7,25.6L649.7,18.5L646.8,17.0L645.2,18.3Z" fill="url(#sg1)" fill-opacity="0.89"/><path d="M564.0,33.2L564.0,40.9L565.6,40.1L568.0,35.7Z" fill="url(#sg1)" fill-opacity="0.91"/><path d="M652.5,45.9L650.2,45.4L646.9,50.0L648.3,52.5L652.6,51.8Z" fill="url(#sg1)" fill-opacity="0.81"/><path d="M627.7,43.6L626.6,45.4L628.0,50.1L629.8,50.7L633.6,49.4L634.1,48.8L634.2,47.3L629.5,43.1Z" fill="url(#sg1)" fill-opacity="0.72"/><path d="M605.9,49.2L609.6,47.9L610.7,50.1L609.5,53.2L606.7,52.8Z" fill="url(#sg1)" fill-opacity="0.84"/><path d="M615.4,81.8L613.2,81.1L612.9,81.2L611.5,85.0L611.8,85.4L614.8,85.7L615.4,85.1L615.9,82.4Z" fill="url(#sg1)" fill-opacity="0.74"/><path d="M623.6,45.7L620.7,48.5L623.9,52.4L627.6,50.2L626.3,45.5Z" fill="url(#sg1)" fill-opacity="0.73"/><path d="M572.0,53.8L572.0,53.8L576.2,54.6L576.8,57.6L576.1,58.5L573.2,59.4L572.4,58.2Z" fill="url(#sg1)" fill-opacity="0.91"/><path d="M680.9,57.0L684.2,53.6L681.1,50.8L677.3,53.8L677.8,55.7Z" fill="url(#sg1)" fill-opacity="0.78"/><path d="M616.1,35.1L616.7,31.4L614.3,30.4L612.7,33.1L614.1,35.0Z" fill="url(#sg1)" fill-opacity="0.95"/><path d="M647.4,61.3L648.4,61.2L649.4,65.6L647.4,66.2L644.6,64.1L644.9,62.4Z" fill="url(#sg1)" fill-opacity="0.81"/><path d="M572.4,29.3L572.3,28.5L576.8,23.4L581.8,25.1L581.8,27.0L581.5,27.6L574.6,31.2L573.1,30.5Z" fill="url(#sg1)" fill-opacity="1.00"/><path d="M676.0,16.7L674.8,16.2L673.0,18.6L675.3,21.2L676.6,20.5Z" fill="url(#sg1)" fill-opacity="0.89"/><path d="M654.1,62.0L652.0,59.2L650.6,59.3L648.8,61.2L649.7,65.6L650.9,66.1L652.6,65.8Z" fill="url(#sg1)" fill-opacity="0.89"/><path d="M594.3,74.6L592.5,73.5L593.0,72.0L595.7,73.2Z" fill="url(#sg1)" fill-opacity="0.89"/><path d="M680.3,17.1L679.1,15.9L676.3,16.7L676.9,20.5L679.7,20.9Z" fill="url(#sg1)" fill-opacity="0.73"/><path d="M673.1,58.3L674.9,58.4L677.3,55.9L676.8,53.9L673.6,51.6L671.5,54.1L672.2,57.7Z" fill="url(#sg1)" fill-opacity="0.96"/><path d="M618.2,21.3L622.3,20.6L621.6,17.6L619.5,17.5L617.6,20.0Z" fill="url(#sg1)" fill-opacity="0.89"/><path d="M598.0,37.8L597.5,42.6L595.8,43.0L594.0,38.8L594.9,37.9Z" fill="url(#sg1)" fill-opacity="0.67"/><path d="M669.1,67.6L671.0,68.7L671.1,72.2L668.7,73.4L666.5,69.0L667.4,68.0Z" fill="url(#sg1)" fill-opacity="0.95"/><path d="M684.4,53.3L687.1,53.4L687.1,47.0L684.8,46.2L681.2,49.4L681.4,50.5Z" fill="url(#sg1d)" fill-opacity="0.87"/><path d="M682.1,86.7L686.2,86.7L687.0,85.0L687.0,84.8L684.6,83.9L682.1,86.2Z" fill="url(#sg1)" fill-opacity="0.83"/><path d="M567.0,86.7L566.8,87.8L571.9,90.8L574.3,87.8L573.1,86.1Z" fill="url(#sg1)" fill-opacity="0.82"/><path d="M681.8,24.5L685.6,26.7L686.5,30.5L685.5,31.3L681.6,30.3L680.8,25.8Z" fill="url(#sg1)" fill-opacity="0.79"/><path d="M668.7,33.4L666.3,35.1L661.9,34.4L661.5,30.3L667.1,28.7Z" fill="url(#sg1)" fill-opacity="0.78"/><path d="M666.4,96.5L670.9,92.1L673.2,93.5L673.6,99.5L668.9,99.4L666.8,98.0Z" fill="url(#sg1)" fill-opacity="0.94"/><path d="M582.3,62.8L580.7,64.5L581.5,67.9L585.5,69.7L587.4,69.1L587.9,68.6L588.4,65.3L586.3,62.7Z" fill="url(#sg1)" fill-opacity="0.69"/><path d="M608.6,92.5L610.0,98.6L608.5,99.5L600.1,99.6L601.9,95.5L606.9,91.9Z" fill="url(#sg1)" fill-opacity="0.77"/><path d="M679.8,39.2L679.8,41.9L683.5,43.2L687.0,38.7L687.0,38.6L685.6,37.3Z" fill="url(#sg1)" fill-opacity="0.86"/><path d="M658.6,88.1L658.4,85.6L662.6,84.5L664.6,88.1L659.9,89.1Z" fill="url(#sg1)" fill-opacity="0.86"/><path d="M653.7,45.0L652.6,45.4L650.3,44.9L648.9,43.3L648.9,39.3L653.1,36.2L653.6,36.5L654.8,39.5Z" fill="url(#sg1)" fill-opacity="0.91"/><path d="M592.1,73.3L590.2,74.9L590.0,74.9L587.7,69.5L588.3,68.9L592.2,69.9L592.6,71.7Z" fill="url(#sg1)" fill-opacity="0.96"/><path d="M659.9,78.5L658.0,80.2L654.1,78.9L654.4,77.5L658.7,76.2Z" fill="url(#sg1)" fill-opacity="0.81"/><path d="M564.0,80.1L565.4,81.8L566.5,86.4L566.4,87.6L564.0,91.2Z" fill="url(#sg1)" fill-opacity="0.91"/><path d="M596.5,68.0L596.4,67.3L594.3,66.5L592.9,69.4L595.2,69.5Z" fill="url(#sg1)" fill-opacity="0.92"/><path d="M595.5,50.6L596.4,48.4L595.6,47.5L591.9,48.2L591.0,49.5L592.4,51.4Z" fill="url(#sg1)" fill-opacity="0.87"/><path d="M570.4,11.1L571.3,11.2L571.4,11.1Z" fill="url(#sg1)" fill-opacity="0.91"/><path d="M622.1,77.5L623.0,75.4L621.4,73.6L618.9,74.4L619.8,77.3Z" fill="url(#sg1d)" fill-opacity="1.00"/><path d="M564.1,64.4L564.4,64.4L567.2,63.3L568.0,61.7L567.5,60.6L564.0,59.4Z" fill="url(#sg1)" fill-opacity="0.93"/><path d="M621.7,73.3L623.3,75.1L625.7,74.8L625.7,72.3L622.5,71.5Z" fill="url(#sg1)" fill-opacity="0.80"/><path d="M659.9,42.9L656.9,45.9L659.2,48.4L661.7,48.0L662.5,45.3L661.8,43.9Z" fill="url(#sg1)" fill-opacity="0.90"/><path d="M631.2,69.1L631.4,71.0L629.6,72.0L627.2,71.1L627.2,69.4L628.5,68.3Z" fill="url(#sg1)" fill-opacity="0.80"/><path d="M581.6,51.3L580.8,52.9L577.2,53.5L577.0,50.5L578.6,49.4L579.6,49.4Z" fill="url(#sg1)" fill-opacity="0.76"/><path d="M622.5,85.4L620.9,86.9L619.0,84.9L618.8,82.5L619.7,81.7L622.2,82.2Z" fill="url(#sg1)" fill-opacity="0.95"/><path d="M606.6,91.7L601.7,95.2L599.7,91.3L604.2,88.4Z" fill="url(#sg1)" fill-opacity="0.93"/><path d="M644.1,89.0L639.1,89.3L640.8,98.0L643.6,96.7L645.4,91.5Z" fill="url(#sg1)" fill-opacity="0.94"/><path d="M683.4,70.1L686.0,69.1L684.9,63.1L682.1,61.9L679.3,63.0L679.0,68.0Z" fill="url(#sg1d)" fill-opacity="0.68"/><path d="M563.9,15.4L563.9,11.4L564.8,11.4L564.5,15.4Z" fill="url(#sg1)" fill-opacity="0.77"/><path d="M615.6,81.4L613.4,80.7L614.5,77.2L617.2,78.9Z" fill="url(#sg1)" fill-opacity="0.79"/><path d="M673.8,37.0L679.0,38.3L679.4,34.9L679.3,34.5L675.8,34.2Z" fill="url(#sg1)" fill-opacity="0.95"/><path d="M593.7,56.6L596.8,59.2L594.7,61.1L592.2,60.2L591.8,59.2L593.4,56.6Z" fill="url(#sg1)" fill-opacity="0.80"/><path d="M574.7,16.0L576.2,11.4L578.2,11.4L579.0,13.0L577.6,17.2L576.6,17.6Z" fill="url(#sg1d)" fill-opacity="0.86"/><path d="M596.8,68.3L599.2,69.7L597.3,71.8L595.5,69.8Z" fill="url(#sg1)" fill-opacity="0.94"/><path d="M627.4,86.6L628.6,88.0L627.0,91.5L624.1,92.2L620.7,88.8L621.2,87.2L622.8,85.8Z" fill="url(#sg1)" fill-opacity="0.83"/><path d="M609.1,76.2L608.8,77.5L610.0,79.3L612.7,80.7L613.0,80.6L614.1,77.1L614.0,76.4Z" fill="url(#sg1)" fill-opacity="0.60"/><path d="M594.2,74.9L594.1,76.4L593.1,76.8L590.4,75.2L592.3,73.7Z" fill="url(#sg1)" fill-opacity="0.93"/><path d="M619.8,99.4L618.8,99.4L616.5,91.7L617.3,90.5L620.4,89.0L623.8,92.5Z" fill="url(#sg1)" fill-opacity="0.92"/><path d="M622.9,63.8L619.7,63.7L618.7,62.4L619.4,60.2L621.1,58.8L623.3,60.3L623.6,62.5Z" fill="url(#sg1)" fill-opacity="0.87"/><path d="M651.9,26.0L648.7,27.1L649.5,32.2L652.8,34.4L655.1,29.8L652.0,26.1Z" fill="url(#sg1)" fill-opacity="0.81"/><path d="M644.1,88.6L639.2,88.9L637.8,88.0L640.0,83.0L645.0,83.0L645.7,85.9Z" fill="url(#sg1)" fill-opacity="0.65"/><path d="M572.0,38.0L571.4,38.0L568.7,35.5L572.9,30.9L574.3,31.6L575.6,34.7Z" fill="url(#sg1)" fill-opacity="0.64"/><path d="M584.0,50.2L584.1,47.0L582.3,45.4L580.9,45.7L580.0,49.0L581.9,51.1Z" fill="url(#sg1d)" fill-opacity="0.86"/><path d="M598.1,81.3L600.4,82.8L601.4,85.5L596.5,87.6L595.0,86.9L594.0,83.4L597.1,81.3Z" fill="url(#sg1)" fill-opacity="0.91"/><path d="M683.1,16.2L685.6,13.2L684.9,11.3L679.7,11.3L679.4,15.5L680.7,16.7Z" fill="url(#sg1d)" fill-opacity="0.81"/><path d="M571.1,14.3L566.3,15.9L566.2,15.8L568.5,11.4L570.0,11.3L571.3,11.4Z" fill="url(#sg1)" fill-opacity="0.91"/><path d="M642.8,42.0L643.5,37.0L648.4,39.3L648.4,43.3L645.2,43.7Z" fill="url(#sg1)" fill-opacity="0.87"/><path d="M616.1,91.3L610.3,91.2L611.8,85.8L614.8,86.2L616.9,90.1Z" fill="url(#sg1)" fill-opacity="0.88"/><path d="M593.3,13.7L589.4,21.2L593.2,24.8L598.5,22.1L598.9,19.6L596.6,14.2L593.7,13.4Z" fill="url(#sg1)" fill-opacity="0.83"/><path d="M644.1,58.0L643.5,61.1L640.5,60.4L641.6,58.0Z" fill="url(#sg1)" fill-opacity="0.94"/><path d="M657.7,67.9L655.9,68.5L655.6,69.9L656.3,72.7L658.7,74.1L660.7,72.1L660.2,70.3Z" fill="url(#sg1)" fill-opacity="0.95"/><path d="M656.3,12.1L655.9,11.2L662.9,11.2L662.7,13.3L661.5,13.9Z" fill="url(#sg1)" fill-opacity="0.72"/><path d="M590.9,82.5L587.4,85.7L587.1,89.1L588.0,90.8L590.3,91.1L594.5,87.0L593.5,83.5L591.6,82.6Z" fill="url(#sg1)" fill-opacity="0.89"/><path d="M588.1,79.6L590.6,82.2L587.1,85.3L582.9,82.6L583.3,81.3Z" fill="url(#sg1)" fill-opacity="0.72"/><path d="M593.0,13.3L586.1,12.8L585.5,11.2L592.9,11.2L593.4,13.1Z" fill="url(#sg1)" fill-opacity="0.77"/><path d="M592.0,51.6L590.6,49.8L589.3,49.8L586.8,51.6L587.2,53.1L588.9,54.5L591.7,54.4Z" fill="url(#sg1)" fill-opacity="0.86"/><path d="M591.5,47.9L590.9,44.3L589.4,43.2L588.8,43.3L587.5,45.8L589.3,49.3L590.6,49.2Z" fill="url(#sg1)" fill-opacity="0.87"/><path d="M631.4,76.5L629.6,75.4L627.0,76.0L626.9,77.7L630.8,79.0Z" fill="url(#sg1)" fill-opacity="0.93"/><path d="M637.6,43.3L639.2,43.5L642.3,41.9L643.1,37.0L642.5,36.0L637.5,37.2L636.6,40.8Z" fill="url(#sg1)" fill-opacity="0.92"/><path d="M687.2,13.8L687.1,11.3L685.3,11.3L686.0,12.9Z" fill="url(#sg1)" fill-opacity="0.75"/><path d="M663.9,59.4L662.7,59.5L661.5,54.8L665.2,53.0L666.2,54.0L666.2,57.3Z" fill="url(#sg1)" fill-opacity="0.70"/><path d="M574.4,15.9L575.9,11.3L571.8,11.3L571.7,11.4L571.6,14.3L572.8,15.9Z" fill="url(#sg1)" fill-opacity="0.98"/><path d="M681.8,86.0L684.3,83.6L683.2,80.9L681.3,81.6L680.6,84.8Z" fill="url(#sg1)" fill-opacity="0.84"/><path d="M608.8,42.3L614.0,42.5L614.3,42.1L614.3,40.9L612.1,38.3L609.6,37.9L608.9,38.3L607.9,41.7Z" fill="url(#sg1)" fill-opacity="0.92"/><path d="M591.6,38.7L593.6,38.5L594.5,37.5L593.9,34.3L589.7,33.0L588.4,35.1Z" fill="url(#sg1)" fill-opacity="1.00"/><path d="M572.0,58.6L572.9,59.7L572.2,61.7L568.5,61.4L567.9,60.3L569.0,58.7Z" fill="url(#sg1)" fill-opacity="0.93"/><path d="M603.0,28.5L600.5,30.0L596.2,29.4L593.3,26.3L593.4,25.1L598.6,22.6L602.9,26.5Z" fill="url(#sg1)" fill-opacity="0.88"/><path d="M618.0,24.8L618.3,21.7L622.4,21.0L622.7,21.1L620.6,26.5L620.4,26.5Z" fill="url(#sg1)" fill-opacity="0.67"/><path d="M574.1,83.2L577.6,82.6L577.0,79.6L574.2,78.3L572.4,81.2Z" fill="url(#sg1)" fill-opacity="0.89"/><path d="M686.2,69.0L687.2,69.6L687.3,61.3L685.2,63.1Z" fill="url(#sg1)" fill-opacity="0.68"/><path d="M614.9,11.2L619.2,11.2L619.3,11.9L617.4,13.3L616.9,13.3Z" fill="url(#sg1)" fill-opacity="0.84"/><path d="M631.7,76.2L629.9,75.0L629.9,72.4L631.7,71.3L633.7,72.6L633.4,75.4Z" fill="url(#sg1)" fill-opacity="0.84"/><path d="M602.9,11.4L606.2,15.9L605.7,17.9L599.3,19.4L597.0,14.0L601.2,11.4Z" fill="url(#sg1)" fill-opacity="0.87"/><path d="M675.1,78.3L672.2,80.7L675.5,85.4L676.9,84.6L678.3,80.6L676.7,78.3Z" fill="url(#sg1)" fill-opacity="0.96"/><path d="M675.0,86.9L670.6,88.6L668.7,87.4L669.4,81.0L672.0,81.0L675.2,85.6Z" fill="url(#sg1d)" fill-opacity="0.77"/><path d="M620.7,35.7L623.3,37.0L625.9,36.5L626.6,35.8L623.6,32.9L621.4,33.4Z" fill="url(#sg1)" fill-opacity="0.95"/><path d="M645.0,57.6L647.4,60.8L648.4,60.8L650.3,58.9L647.3,55.1L646.2,55.6Z" fill="url(#sg1)" fill-opacity="0.95"/><path d="M604.5,56.0L607.7,59.4L607.5,61.4L604.0,62.1L601.5,57.2L601.8,56.4Z" fill="url(#sg1)" fill-opacity="0.86"/><path d="M576.7,41.3L577.5,41.5L580.6,40.0L580.9,37.4L579.6,35.9L576.8,35.6Z" fill="url(#sg1)" fill-opacity="0.76"/><path d="M623.3,45.5L620.5,48.2L619.1,48.0L618.4,43.4L620.3,42.3Z" fill="url(#sg1d)" fill-opacity="0.82"/><path d="M641.0,98.3L639.9,99.7L651.1,99.6L651.2,98.4L650.9,98.1L643.9,97.1Z" fill="url(#sg1)" fill-opacity="0.92"/><path d="M570.7,19.4L572.8,16.4L574.4,16.4L576.3,17.9L575.4,21.2L572.9,21.0Z" fill="url(#sg1)" fill-opacity="0.82"/><path d="M680.9,50.6L680.7,49.4L678.6,47.9L673.7,49.8L673.8,51.3L677.0,53.5Z" fill="url(#sg1)" fill-opacity="1.00"/><path d="M621.3,32.9L623.5,32.4L625.0,29.3L623.1,27.3L620.7,27.0L620.5,27.0L619.4,30.5Z" fill="url(#sg1)" fill-opacity="0.86"/><path d="M676.8,68.4L674.3,66.7L674.4,64.7L676.9,62.7L678.9,63.0L678.6,68.0Z" fill="url(#sg1)" fill-opacity="0.77"/><path d="M616.9,31.0L619.0,30.4L620.2,26.9L617.7,25.2L615.2,25.8L614.2,29.5L614.4,30.0Z" fill="url(#sg1)" fill-opacity="0.91"/><path d="M676.1,16.2L674.9,15.7L673.5,13.3L675.0,11.3L679.3,11.3L678.9,15.5Z" fill="url(#sg1)" fill-opacity="0.95"/><path d="M666.7,57.4L666.5,54.0L671.1,54.1L671.8,57.8L669.0,58.8Z" fill="url(#sg1)" fill-opacity="0.88"/><path d="M564.2,32.9L568.2,35.3L568.4,35.2L572.7,30.7L571.9,29.6L564.2,30.9Z" fill="url(#sg1)" fill-opacity="0.81"/><path d="M676.6,68.8L674.0,67.1L671.4,68.7L671.5,72.2L673.4,73.1L675.7,71.6Z" fill="url(#sg1)" fill-opacity="0.84"/><path d="M648.6,38.9L652.9,35.9L652.6,34.7L649.2,32.6L643.4,34.4L643.0,35.7L643.6,36.7Z" fill="url(#sg1)" fill-opacity="0.70"/><path d="M637.6,88.4L635.5,88.5L632.8,98.1L635.4,99.4L639.5,99.5L640.5,98.1L638.9,89.3Z" fill="url(#sg1)" fill-opacity="0.75"/><path d="M644.1,57.6L641.7,57.6L641.2,56.5L642.6,54.2L645.8,55.4L644.5,57.4Z" fill="url(#sg1)" fill-opacity="0.86"/><path d="M641.7,51.6L642.8,53.8L646.0,55.0L647.1,54.6L647.9,52.7L646.5,50.3L645.8,50.1Z" fill="url(#sg1)" fill-opacity="0.97"/><path d="M674.2,64.3L676.7,62.3L674.9,58.9L673.1,58.8L672.1,62.9Z" fill="url(#sg1)" fill-opacity="0.96"/><path d="M614.0,62.9L611.7,65.4L609.8,64.5L607.9,61.5L608.2,59.6L612.0,57.3L612.9,57.8Z" fill="url(#sg1)" fill-opacity="0.73"/><path d="M571.7,53.8L572.0,58.2L568.9,58.3L567.8,55.1Z" fill="url(#sg1)" fill-opacity="0.83"/><path d="M655.8,23.7L659.6,24.4L659.6,28.7L655.4,29.6L652.3,25.8L654.8,24.0Z" fill="url(#sg1d)" fill-opacity="0.86"/><path d="M605.1,79.9L608.4,77.7L609.5,79.6L607.9,83.6L606.7,83.7Z" fill="url(#sg1)" fill-opacity="0.92"/><path d="M601.8,47.8L600.5,43.4L602.3,41.4L603.3,41.2L606.1,42.3L604.1,47.8Z" fill="url(#sg1)" fill-opacity="0.83"/><path d="M644.7,28.8L648.2,27.2L648.3,27.2L649.1,32.3L643.3,34.1L642.9,32.5Z" fill="url(#sg1)" fill-opacity="0.87"/><path d="M564.5,64.7L567.5,63.8L570.3,67.0L569.4,68.1L567.4,68.2Z" fill="url(#sg1)" fill-opacity="0.94"/><path d="M564.0,64.8L564.3,64.9L567.0,68.4L564.0,71.3Z" fill="url(#sg1)" fill-opacity="0.84"/><path d="M687.2,38.9L687.2,46.6L684.9,45.7L683.7,43.5Z" fill="url(#sg1d)" fill-opacity="0.94"/><path d="M674.8,77.9L671.9,80.4L669.3,80.5L666.6,78.9L667.0,75.8L668.8,73.9L671.2,72.6L673.2,73.5Z" fill="url(#sg1)" fill-opacity="0.88"/><path d="M660.9,23.4L661.8,22.7L666.3,23.7L668.2,26.2L667.0,28.3L661.3,29.9L660.0,28.6L660.1,24.4Z" fill="url(#sg1)" fill-opacity="0.80"/><path d="M626.6,14.0L625.4,15.5L623.6,15.5L621.4,12.1L622.6,11.3L626.8,11.3L627.1,11.5Z" fill="url(#sg1)" fill-opacity="0.80"/><path d="M613.9,29.4L614.8,25.6L610.5,23.1L610.4,23.1L610.3,28.6Z" fill="url(#sg1)" fill-opacity="0.84"/><path d="M588.0,79.2L583.2,80.9L581.5,76.4L584.1,75.2L587.8,77.1Z" fill="url(#sg1)" fill-opacity="0.97"/><path d="M566.1,16.4L567.8,19.5L566.0,23.6L564.0,24.4L564.0,16.0L564.6,15.9L566.0,16.3Z" fill="url(#sg1)" fill-opacity="0.84"/><path d="M662.9,68.3L664.9,69.4L663.5,72.5L661.1,72.0L660.8,70.3Z" fill="url(#sg1)" fill-opacity="0.73"/><path d="M594.6,61.5L592.1,60.7L591.4,63.9L593.7,64.5L594.9,63.6Z" fill="url(#sg1)" fill-opacity="0.60"/><path d="M661.5,64.4L661.4,60.7L658.6,60.2L656.6,62.0L658.9,65.4Z" fill="url(#sg1)" fill-opacity="0.64"/><path d="M569.2,41.0L565.8,40.2L568.2,35.8L568.4,35.8L571.0,38.2Z" fill="url(#sg1)" fill-opacity="0.72"/><path d="M595.6,47.2L595.2,43.9L591.3,44.2L591.8,47.9Z" fill="url(#sg1)" fill-opacity="0.84"/><path d="M620.2,88.6L620.7,87.1L618.6,85.3L615.8,85.4L615.1,86.0L617.2,90.0Z" fill="url(#sg1)" fill-opacity="0.96"/><path d="M608.8,42.6L614.0,42.8L613.4,45.9L609.9,47.4Z" fill="url(#sg1)" fill-opacity="0.80"/><path d="M584.0,19.2L584.1,15.5L585.9,13.1L593.0,13.5L589.0,21.1L584.8,21.2Z" fill="url(#sg1d)" fill-opacity="1.00"/><path d="M658.2,51.7L659.2,48.9L661.9,48.5L665.0,50.6L665.0,52.7L661.3,54.4L659.8,54.1Z" fill="url(#sg1)" fill-opacity="0.65"/><path d="M570.4,19.3L568.2,19.3L566.4,16.2L571.2,14.6L572.5,16.2Z" fill="url(#sg1)" fill-opacity="0.76"/><path d="M644.6,21.2L641.2,25.1L640.5,25.2L637.7,23.9L636.8,22.3L639.0,17.8L644.8,18.3Z" fill="url(#sg1)" fill-opacity="0.91"/><path d="M635.2,28.2L636.5,30.2L634.5,33.6L630.9,29.4L633.4,27.9Z" fill="url(#sg1)" fill-opacity="0.91"/><path d="M623.7,54.0L624.1,52.8L627.8,50.6L629.6,51.2L630.2,55.9L628.2,57.4L627.2,57.5Z" fill="url(#sg1)" fill-opacity="0.67"/><path d="M582.6,56.9L581.7,58.3L582.3,62.3L586.2,62.2L587.4,59.3L587.3,59.0L584.1,56.9Z" fill="url(#sg1)" fill-opacity="0.85"/><path d="M644.2,46.8L645.3,44.2L648.5,43.7L649.9,45.2L646.6,49.8L645.9,49.6Z" fill="url(#sg1)" fill-opacity="0.86"/><path d="M655.4,17.4L655.8,16.9L655.9,12.2L655.5,11.3L652.2,11.4L647.5,13.5L647.0,16.7L650.0,18.1L652.4,18.1Z" fill="url(#sg1)" fill-opacity="0.85"/><path d="M632.2,16.7L631.4,18.3L631.6,19.5L634.7,22.1L636.4,22.0L638.7,17.5L636.1,14.7L634.3,14.9Z" fill="url(#sg1)" fill-opacity="0.69"/><path d="M636.9,63.6L639.2,62.8L639.4,61.0L637.4,60.0L634.4,60.8L634.6,61.7Z" fill="url(#sg1)" fill-opacity="0.73"/><path d="M619.4,81.4L618.5,79.0L617.5,79.1L615.9,81.6L616.3,82.1L618.5,82.1Z" fill="url(#sg1)" fill-opacity="1.00"/><path d="M636.6,63.9L634.4,62.0L633.3,64.7L636.1,65.1Z" fill="url(#sg1)" fill-opacity="0.89"/><path d="M627.1,62.0L626.5,59.2L627.3,58.0L628.3,57.9L629.9,61.2L629.1,63.0L627.7,62.6Z" fill="url(#sg1)" fill-opacity="0.99"/><path d="M594.4,96.4L595.1,99.5L599.8,99.5L601.3,95.4L599.4,91.5L597.8,90.9Z" fill="url(#sg1)" fill-opacity="0.97"/><path d="M669.0,18.6L670.4,19.2L672.8,25.0L672.8,25.4L668.5,25.9L666.8,23.5L668.4,18.8Z" fill="url(#sg1)" fill-opacity="0.84"/><path d="M603.1,65.4L604.9,67.5L609.5,64.7L607.5,61.8L604.1,62.5L603.5,63.3Z" fill="url(#sg1)" fill-opacity="1.00"/><path d="M571.1,44.4L569.0,47.4L571.7,49.9L573.9,48.9L575.0,46.8L573.2,43.9Z" fill="url(#sg1)" fill-opacity="0.94"/><path d="M645.0,82.6L640.1,82.6L638.8,80.1L641.7,76.8L642.8,76.7L645.8,81.2Z" fill="url(#sg1)" fill-opacity="0.86"/><path d="M669.4,67.1L671.2,68.3L673.8,66.7L673.9,64.7L671.8,63.3L669.4,63.5Z" fill="url(#sg1)" fill-opacity="0.85"/></g>
</g>
<rect x="566.20" y="91.80" width="118.80" height="5.60" fill="#1c1c1c"/>
<circle cx="569.20" cy="94.60" r="1.6" fill="#777"/>
<rect x="572.20" y="93.00" width="9" height="1.1" fill="#8a8a8a"/>
<rect x="572.20" y="95.10" width="7" height="1.1" fill="#8a8a8a"/>
<rect x="583.20" y="93.00" width="12" height="1.1" fill="#8a8a8a"/>
<rect x="583.20" y="95.10" width="10" height="1.1" fill="#8a8a8a"/>
<rect x="597.20" y="93.00" width="6" height="1.1" fill="#8a8a8a"/>
<rect x="597.20" y="95.10" width="4" height="1.1" fill="#8a8a8a"/>
<rect x="605.20" y="93.00" width="10" height="1.1" fill="#8a8a8a"/>
<rect x="605.20" y="95.10" width="8" height="1.1" fill="#8a8a8a"/>
<rect x="617.20" y="93.00" width="8" height="1.1" fill="#8a8a8a"/>
<rect x="617.20" y="95.10" width="6" height="1.1" fill="#8a8a8a"/>
<rect x="627.20" y="93.00" width="6" height="1.1" fill="#8a8a8a"/>
<rect x="627.20" y="95.10" width="4" height="1.1" fill="#8a8a8a"/>
<rect x="636.20" y="93.00" width="10" height="1.1" fill="#8a8a8a"/>
<rect x="636.20" y="95.10" width="8" height="1.1" fill="#8a8a8a"/>
<rect x="647.00" y="93.00" width="30" height="1.3" fill="none" stroke="#888" stroke-width="0.5"/>
<rect x="649.00" y="95.20" width="26" height="1" fill="#7a7a7a"/>
<g clip-path="url(#semc13)">
<ellipse cx="578.1" cy="25.2" rx="29.7" ry="25.2" fill="url(#ovd)"/>
<ellipse cx="643.4" cy="52.6" rx="47.5" ry="42.0" fill="url(#ovl)"/>
<ellipse cx="673.1" cy="80.0" rx="17.8" ry="16.8" fill="url(#ovd)"/>
</g>
<line x1="296.00" y1="14.40" x2="313.00" y2="14.40" stroke="#000" stroke-width="1.6"/>
<line x1="296.00" y1="96.80" x2="313.00" y2="96.80" stroke="#000" stroke-width="1.6"/>
<line x1="304.80" y1="14.40" x2="304.80" y2="39.10" stroke="#000" stroke-width="1.6"/>
<line x1="304.80" y1="72.10" x2="304.80" y2="96.80" stroke="#000" stroke-width="1.6"/>
<text x="298.90" y="55.60" font-size="7.2" font-weight="bold" text-anchor="middle" transform="rotate(90 298.90 55.60)">500μm</text>
<clipPath id="semc14"><rect x="315.50" y="103.20" width="118.50" height="84.60"/></clipPath>
<g clip-path="url(#semc14)">
<rect x="315.50" y="103.20" width="118.50" height="84.60" fill="#b4b4b4"/>
<g stroke="#e0e0e0" stroke-width="0.7" stroke-opacity="0.8"><path d="M432.5,196.9L436.0,192.8Q437.4,191.2 438.9,191.6L442.6,192.7Q444.1,193.1 444.1,194.3L444.2,197.1Q444.2,198.3 441.3,198.3L434.0,198.4Q431.1,198.4 432.5,196.9Z" fill="url(#sl0d)" fill-opacity="0.88"/><path d="M361.0,151.9L348.8,136.8Q344.0,130.8 339.7,130.4L328.6,129.4Q324.2,129.0 320.1,129.7L309.4,131.4Q305.3,132.1 305.3,139.8L305.3,159.6Q305.3,167.4 311.6,171.3L327.7,181.4Q334.0,185.3 341.0,179.3L358.8,163.9Q365.8,157.8 361.0,151.9Z" fill="url(#sl4d)" fill-opacity="0.89"/><path d="M381.5,146.0L385.2,132.8Q386.7,127.6 389.8,126.0L397.6,121.9Q400.7,120.3 406.5,121.4L421.2,124.2Q427.0,125.2 426.2,130.9L424.2,145.3Q423.4,150.9 420.4,152.1L412.6,155.1Q409.6,156.3 403.1,155.2L386.5,152.3Q380.0,151.2 381.5,146.0Z" fill="url(#sl4)" fill-opacity="0.96"/><path d="M425.6,145.3L427.5,131.2Q428.2,125.6 431.8,122.3L441.1,114.0Q444.7,110.8 444.7,121.6L444.6,149.3Q444.6,160.2 442.3,160.4L436.6,161.0Q434.3,161.2 432.2,158.9L427.0,153.1Q424.9,150.8 425.6,145.3Z" fill="url(#sl4)" fill-opacity="0.87"/><path d="M402.6,93.6L398.1,96.7Q396.3,97.9 394.1,96.7L388.5,93.6Q386.3,92.4 390.3,92.4L400.4,92.4Q404.4,92.4 402.6,93.6Z" fill="url(#sl4d)" fill-opacity="0.79"/><path d="M388.9,124.5L396.7,120.4Q399.8,118.8 398.9,114.5L396.6,103.6Q395.7,99.4 393.4,98.0L387.7,94.5Q385.4,93.2 384.7,93.2L383.0,93.1Q382.3,93.1 381.1,94.0L378.0,96.3Q376.8,97.2 376.6,101.6L376.1,112.8Q375.9,117.2 378.1,119.2L383.7,124.2Q385.9,126.1 388.9,124.5Z" fill="url(#sl1)" fill-opacity="0.89"/><path d="M412.7,198.3L424.8,198.2Q429.5,198.1 431.0,196.4L434.6,192.1Q436.1,190.4 435.5,189.0L433.9,185.6Q433.3,184.2 427.5,183.9L412.7,183.3Q406.9,183.0 407.1,186.4L407.8,195.0Q408.0,198.4 412.7,198.3Z" fill="url(#sl2d)" fill-opacity="0.89"/><path d="M407.0,120.0L421.7,122.8Q427.5,123.8 431.1,120.7L440.4,112.8Q444.1,109.7 444.1,106.0L444.1,96.4Q444.2,92.7 435.8,92.7L414.4,92.8Q406.1,92.9 404.2,94.2L399.3,97.7Q397.4,99.1 398.3,103.4L400.4,114.5Q401.3,118.9 407.0,120.0Z" fill="url(#sl5)" fill-opacity="0.73"/><path d="M379.8,93.1L376.5,95.4Q375.2,96.2 370.4,95.5L358.1,93.8Q353.3,93.1 353.1,92.9L352.7,92.5Q352.5,92.3 358.8,92.3L374.8,92.3Q381.1,92.3 379.8,93.1Z" fill="url(#sl2)" fill-opacity="0.83"/><path d="M406.9,175.9L409.4,163.1Q410.4,158.0 413.4,156.8L421.0,153.6Q423.9,152.4 426.0,154.6L431.3,160.3Q433.4,162.6 433.4,167.1L433.4,178.5Q433.4,183.0 427.5,182.8L412.6,182.2Q406.7,181.9 406.5,181.7L406.1,181.2Q405.9,181.0 406.9,175.9Z" fill="url(#sl5)" fill-opacity="0.81"/><path d="M330.1,198.3L312.3,198.3Q305.3,198.3 305.2,191.8L305.1,175.2Q305.1,168.7 311.3,172.6L327.0,182.5Q333.2,186.4 334.0,189.0L336.2,195.7Q337.1,198.3 330.1,198.3Z" fill="url(#sl3)" fill-opacity="0.89"/><path d="M382.8,175.9L375.1,163.0Q372.1,158.0 373.8,156.7L378.0,153.6Q379.7,152.4 386.2,153.5L402.6,156.5Q409.0,157.6 408.0,162.7L405.5,175.8Q404.5,180.9 400.4,180.9L389.9,180.9Q385.8,180.9 382.8,175.9Z" fill="url(#sl4d)" fill-opacity="0.80"/><path d="M370.1,156.7L367.7,157.0Q366.8,157.1 362.1,151.2L350.2,136.2Q345.5,130.3 348.0,127.6L354.3,120.5Q356.8,117.8 360.8,118.0L370.9,118.6Q374.9,118.8 377.2,120.7L382.8,125.7Q385.0,127.6 383.6,132.7L380.0,145.7Q378.6,150.8 376.9,152.1L372.7,155.4Q371.1,156.6 370.1,156.7Z" fill="url(#sl5d)" fill-opacity="0.72"/><path d="M381.9,194.5L383.8,185.4Q384.5,181.8 381.5,176.7L373.9,163.6Q370.9,158.5 369.9,158.6L367.5,158.9Q366.5,159.0 359.6,164.9L342.0,180.1Q335.0,186.1 335.9,188.7L337.9,195.6Q338.7,198.2 348.0,198.2L371.8,198.1Q381.1,198.1 381.9,194.5Z" fill="url(#sl0)" fill-opacity="0.94"/><path d="M335.4,92.8L313.7,92.9Q305.1,93.0 305.1,101.3L305.1,122.4Q305.1,130.7 309.2,129.9L319.6,127.9Q323.8,127.1 328.2,119.6L339.5,100.3Q344.0,92.8 335.4,92.8Z" fill="url(#sl2)" fill-opacity="0.79"/><path d="M383.4,194.8L385.5,185.9Q386.3,182.3 390.3,182.3L400.5,182.3Q404.5,182.3 404.6,182.5L405.1,182.9Q405.2,183.1 405.5,186.4L406.2,194.8Q406.5,198.1 401.2,198.2L387.8,198.2Q382.6,198.3 383.4,194.8Z" fill="url(#sl3d)" fill-opacity="0.97"/><path d="M434.7,178.6L434.6,167.5Q434.5,163.1 436.8,162.8L442.4,162.2Q444.7,162.0 444.7,168.5L444.7,185.3Q444.6,191.9 443.0,191.3L438.8,190.0Q437.2,189.4 436.6,188.0L435.2,184.4Q434.7,183.0 434.7,178.6Z" fill="url(#sl1d)" fill-opacity="0.82"/><path d="M354.7,111.4L352.7,98.9Q351.9,93.9 351.8,93.7L351.4,93.3Q351.2,93.1 349.8,93.1L346.2,93.1Q344.8,93.2 340.4,100.7L329.1,119.9Q324.7,127.4 329.1,127.8L340.3,128.7Q344.7,129.1 347.0,126.3L353.1,119.2Q355.5,116.4 354.7,111.4Z" fill="url(#sl2)" fill-opacity="0.72"/><path d="M374.8,112.8L375.2,101.5Q375.4,97.1 370.5,96.4L357.9,94.5Q353.0,93.7 353.8,98.7L356.0,111.3Q356.9,116.2 360.8,116.4L370.7,117.0Q374.6,117.2 374.8,112.8Z" fill="url(#sl5)" fill-opacity="0.84"/></g>
</g>
<rect x="315.50" y="182.20" width="118.50" height="5.60" fill="#1c1c1c"/>
<circle cx="318.50" cy="185.00" r="1.6" fill="#777"/>
<rect x="321.50" y="183.40" width="9" height="1.1" fill="#8a8a8a"/>
<rect x="321.50" y="185.50" width="7" height="1.1" fill="#8a8a8a"/>
<rect x="332.50" y="183.40" width="12" height="1.1" fill="#8a8a8a"/>
<rect x="332.50" y="185.50" width="10" height="1.1" fill="#8a8a8a"/>
<rect x="346.50" y="183.40" width="6" height="1.1" fill="#8a8a8a"/>
<rect x="346.50" y="185.50" width="4" height="1.1" fill="#8a8a8a"/>
<rect x="354.50" y="183.40" width="10" height="1.1" fill="#8a8a8a"/>
<rect x="354.50" y="185.50" width="8" height="1.1" fill="#8a8a8a"/>
<rect x="366.50" y="183.40" width="8" height="1.1" fill="#8a8a8a"/>
<rect x="366.50" y="185.50" width="6" height="1.1" fill="#8a8a8a"/>
<rect x="376.50" y="183.40" width="6" height="1.1" fill="#8a8a8a"/>
<rect x="376.50" y="185.50" width="4" height="1.1" fill="#8a8a8a"/>
<rect x="385.50" y="183.40" width="10" height="1.1" fill="#8a8a8a"/>
<rect x="385.50" y="185.50" width="8" height="1.1" fill="#8a8a8a"/>
<rect x="396.00" y="183.40" width="30" height="1.3" fill="none" stroke="#888" stroke-width="0.5"/>
<rect x="398.00" y="185.60" width="26" height="1" fill="#7a7a7a"/>
<clipPath id="semc15"><rect x="440.70" y="103.20" width="118.50" height="84.60"/></clipPath>
<g clip-path="url(#semc15)">
<rect x="440.70" y="103.20" width="118.50" height="84.60" fill="#b4b4b4"/>
<g stroke="#e0e0e0" stroke-width="0.7" stroke-opacity="0.8"><path d="M514.7,130.2L523.8,122.2Q527.4,119.1 531.3,122.3L541.2,130.6Q545.1,133.8 544.9,135.0L544.5,137.9Q544.3,139.1 540.1,142.3L529.3,150.3Q525.1,153.5 522.4,151.2L515.5,145.5Q512.8,143.2 512.5,141.0L511.5,135.5Q511.2,133.3 514.7,130.2Z" fill="url(#sl3)" fill-opacity="0.95"/><path d="M526.1,156.2L526.7,160.1Q526.9,161.7 532.7,164.4L547.5,171.4Q553.3,174.1 555.6,170.5L561.7,161.4Q564.0,157.8 559.9,153.9L549.3,144.1Q545.1,140.2 540.9,143.4L530.1,151.4Q525.9,154.6 526.1,156.2Z" fill="url(#sl2d)" fill-opacity="0.72"/><path d="M465.9,143.9L453.5,140.1Q448.6,138.6 446.6,133.9L441.6,121.8Q439.6,117.0 445.2,115.3L459.5,110.9Q465.1,109.2 467.9,111.8L475.3,118.3Q478.1,120.9 478.0,123.7L477.9,130.7Q477.8,133.5 476.2,136.1L472.3,142.8Q470.8,145.4 465.9,143.9Z" fill="url(#sl5)" fill-opacity="0.95"/><path d="M433.0,162.4L431.6,162.5Q431.1,162.6 431.1,170.1L431.2,189.4Q431.2,197.0 435.9,197.0L447.9,197.0Q452.6,197.0 452.9,195.5L453.7,191.5Q454.0,189.9 449.5,183.8L438.0,168.4Q433.5,162.4 433.0,162.4Z" fill="url(#sl2)" fill-opacity="0.71"/><path d="M509.6,131.5L507.7,130.1Q507.0,129.5 505.0,125.3L499.8,114.6Q497.7,110.4 498.0,108.8L498.7,105.0Q499.0,103.4 503.6,102.9L515.0,101.5Q519.6,101.0 521.2,102.7L525.5,107.1Q527.2,108.8 527.0,110.8L526.6,115.9Q526.4,117.9 522.9,121.0L513.9,129.0Q510.4,132.1 509.6,131.5Z" fill="url(#sl1)" fill-opacity="0.86"/><path d="M465.7,145.5L453.2,141.6Q448.3,140.0 445.2,144.7L437.3,156.7Q434.2,161.5 438.8,167.6L450.5,183.3Q455.1,189.4 460.4,184.9L474.1,173.5Q479.5,169.0 479.4,167.3L479.4,163.1Q479.3,161.4 477.4,158.3L472.6,150.2Q470.7,147.1 465.7,145.5Z" fill="url(#sl1d)" fill-opacity="0.96"/><path d="M546.1,95.6L543.0,100.9Q541.8,103.0 538.9,104.0L531.4,106.6Q528.4,107.6 526.8,105.9L522.6,101.7Q520.9,100.1 521.2,98.7L521.8,95.1Q522.0,93.7 527.6,93.7L541.7,93.6Q547.3,93.6 546.1,95.6Z" fill="url(#sl1)" fill-opacity="0.94"/><path d="M495.9,100.9L492.3,96.0Q490.8,94.0 490.2,94.0L488.5,94.1Q487.8,94.1 484.1,95.4L474.7,98.8Q471.0,100.1 469.9,101.9L467.2,106.3Q466.1,108.0 469.0,110.6L476.4,117.0Q479.3,119.6 482.9,117.4L492.3,111.9Q495.9,109.7 496.2,108.2L497.0,104.4Q497.3,102.9 495.9,100.9Z" fill="url(#sl0)" fill-opacity="0.88"/><path d="M500.0,130.7L485.2,132.5Q479.4,133.2 479.5,130.5L479.8,123.5Q479.9,120.8 483.5,118.6L492.8,113.1Q496.4,111.0 498.4,115.1L503.7,125.8Q505.8,130.0 500.0,130.7Z" fill="url(#sl3d)" fill-opacity="0.83"/><path d="M566.8,94.1L568.4,94.1Q569.0,94.1 569.0,98.1L569.0,108.0Q569.0,111.9 568.3,111.6L566.5,110.9Q565.8,110.6 565.9,107.0L566.1,97.8Q566.2,94.1 566.8,94.1Z" fill="url(#sl2d)" fill-opacity="0.84"/><path d="M547.5,131.3L551.6,127.6Q553.2,126.2 553.7,124.2L554.9,119.4Q555.4,117.5 552.6,114.6L545.5,107.2Q542.7,104.3 539.7,105.3L531.9,108.0Q528.9,109.0 528.7,111.0L528.4,116.1Q528.3,118.1 532.2,121.3L542.0,129.5Q545.8,132.7 547.5,131.3Z" fill="url(#sl1d)" fill-opacity="0.92"/><path d="M547.6,96.0L544.8,101.3Q543.7,103.3 546.5,106.2L553.5,113.6Q556.3,116.5 558.2,115.2L563.0,112.1Q564.8,110.9 565.0,107.2L565.2,97.6Q565.3,93.9 561.7,93.9L552.4,94.0Q548.7,94.0 547.6,96.0Z" fill="url(#sl2)" fill-opacity="0.72"/><path d="M497.6,100.4L493.8,95.4Q492.3,93.4 498.4,93.4L514.1,93.5Q520.3,93.5 520.0,94.9L519.3,98.5Q519.1,99.9 514.7,100.4L503.5,101.8Q499.1,102.3 497.6,100.4Z" fill="url(#sl2d)" fill-opacity="0.78"/><path d="M556.7,119.6L555.3,124.3Q554.7,126.2 557.8,127.4L565.7,130.4Q568.8,131.6 568.7,127.6L568.6,117.6Q568.6,113.6 567.9,113.4L566.0,112.7Q565.3,112.4 563.5,113.6L559.0,116.6Q557.2,117.8 556.7,119.6Z" fill="url(#sl2)" fill-opacity="0.77"/><path d="M445.0,134.4L440.4,122.3Q438.6,117.6 436.9,116.3L432.6,113.1Q430.9,111.8 430.9,122.6L430.9,150.0Q430.9,160.8 431.4,160.7L432.8,160.6Q433.3,160.5 436.3,155.8L443.9,143.8Q446.8,139.1 445.0,134.4Z" fill="url(#sl4d)" fill-opacity="1.00"/><path d="M550.2,143.2L560.6,153.1Q564.6,157.0 565.5,156.7L567.8,156.0Q568.6,155.7 568.6,150.7L568.5,138.0Q568.4,133.0 565.3,131.8L557.4,128.8Q554.2,127.7 552.6,129.1L548.5,132.7Q546.9,134.2 546.7,135.3L546.3,138.2Q546.2,139.4 550.2,143.2Z" fill="url(#sl5)" fill-opacity="0.93"/><path d="M475.0,174.7L461.2,185.9Q455.8,190.3 455.4,191.9L454.5,195.9Q454.1,197.5 466.5,197.5L497.9,197.5Q510.3,197.5 509.8,195.6L508.3,190.7Q507.7,188.8 501.7,184.7L486.4,174.4Q480.4,170.3 475.0,174.7Z" fill="url(#sl3)" fill-opacity="1.00"/><path d="M465.3,106.2L468.0,101.8Q469.1,100.0 468.4,98.7L466.6,95.1Q465.9,93.7 458.3,93.7L439.1,93.7Q431.5,93.7 431.6,97.4L431.6,106.8Q431.6,110.6 433.3,111.7L437.7,114.7Q439.4,115.9 444.8,114.2L458.8,109.7Q464.2,108.0 465.3,106.2Z" fill="url(#sl4)" fill-opacity="0.82"/><path d="M505.0,148.2L487.9,157.7Q481.3,161.5 481.3,163.2L481.3,167.4Q481.3,169.1 487.3,173.2L502.6,183.7Q508.6,187.8 512.2,182.1L521.4,167.7Q525.0,162.0 524.8,160.4L524.3,156.4Q524.1,154.9 521.3,152.6L514.4,146.7Q511.6,144.5 505.0,148.2Z" fill="url(#sl3)" fill-opacity="0.75"/><path d="M482.9,93.4L471.9,93.4Q467.6,93.4 468.3,94.7L470.1,98.0Q470.7,99.2 474.4,97.9L483.6,94.6Q487.2,93.4 482.9,93.4Z" fill="url(#sl2)" fill-opacity="0.73"/><path d="M565.7,158.5L568.0,157.7Q568.9,157.4 568.8,164.4L568.8,182.1Q568.7,189.0 566.5,189.0L560.7,189.0Q558.5,189.0 557.9,188.3L556.5,186.6Q556.0,185.9 555.7,183.5L555.0,177.4Q554.7,175.0 556.9,171.5L562.6,162.4Q564.8,158.8 565.7,158.5Z" fill="url(#sl4d)" fill-opacity="0.86"/><path d="M508.6,132.9L506.7,131.5Q505.9,131.0 500.1,131.7L485.3,133.6Q479.5,134.3 477.9,136.9L473.7,143.5Q472.1,146.1 474.0,149.3L478.9,157.4Q480.8,160.6 487.5,156.8L504.3,147.2Q511.0,143.4 510.6,141.3L509.7,135.7Q509.4,133.5 508.6,132.9Z" fill="url(#sl0)" fill-opacity="1.00"/><path d="M568.4,195.7L568.4,191.9Q568.4,190.4 566.3,190.4L561.1,190.5Q559.0,190.5 558.9,192.0L558.7,195.8Q558.6,197.3 560.7,197.3L566.2,197.2Q568.4,197.2 568.4,195.7Z" fill="url(#sl3d)" fill-opacity="1.00"/><path d="M553.2,177.8L554.2,184.1Q554.6,186.6 546.3,188.9L525.4,194.8Q517.1,197.1 516.0,197.1L513.1,197.2Q512.0,197.2 511.5,195.3L510.2,190.5Q509.6,188.6 513.3,182.9L522.5,168.5Q526.1,162.9 532.0,165.6L547.0,172.5Q552.9,175.2 553.2,177.8Z" fill="url(#sl1)" fill-opacity="0.79"/><path d="M546.5,189.6L525.6,195.4Q517.4,197.7 526.1,197.6L548.2,197.5Q556.9,197.4 557.0,195.8L557.2,191.8Q557.3,190.2 556.7,189.5L555.3,187.9Q554.7,187.3 546.5,189.6Z" fill="url(#sl0)" fill-opacity="0.96"/></g>
</g>
<rect x="440.70" y="182.20" width="118.50" height="5.60" fill="#1c1c1c"/>
<circle cx="443.70" cy="185.00" r="1.6" fill="#777"/>
<rect x="446.70" y="183.40" width="9" height="1.1" fill="#8a8a8a"/>
<rect x="446.70" y="185.50" width="7" height="1.1" fill="#8a8a8a"/>
<rect x="457.70" y="183.40" width="12" height="1.1" fill="#8a8a8a"/>
<rect x="457.70" y="185.50" width="10" height="1.1" fill="#8a8a8a"/>
<rect x="471.70" y="183.40" width="6" height="1.1" fill="#8a8a8a"/>
<rect x="471.70" y="185.50" width="4" height="1.1" fill="#8a8a8a"/>
<rect x="479.70" y="183.40" width="10" height="1.1" fill="#8a8a8a"/>
<rect x="479.70" y="185.50" width="8" height="1.1" fill="#8a8a8a"/>
<rect x="491.70" y="183.40" width="8" height="1.1" fill="#8a8a8a"/>
<rect x="491.70" y="185.50" width="6" height="1.1" fill="#8a8a8a"/>
<rect x="501.70" y="183.40" width="6" height="1.1" fill="#8a8a8a"/>
<rect x="501.70" y="185.50" width="4" height="1.1" fill="#8a8a8a"/>
<rect x="510.70" y="183.40" width="10" height="1.1" fill="#8a8a8a"/>
<rect x="510.70" y="185.50" width="8" height="1.1" fill="#8a8a8a"/>
<rect x="521.20" y="183.40" width="30" height="1.3" fill="none" stroke="#888" stroke-width="0.5"/>
<rect x="523.20" y="185.60" width="26" height="1" fill="#7a7a7a"/>
<clipPath id="semc16"><rect x="566.20" y="103.20" width="118.80" height="84.60"/></clipPath>
<g clip-path="url(#semc16)">
<rect x="566.20" y="103.20" width="118.80" height="84.60" fill="#b4b4b4"/>
<g stroke="#e0e0e0" stroke-width="0.7" stroke-opacity="0.8"><path d="M629.3,172.0L639.3,164.5Q643.2,161.5 645.4,167.2L651.0,181.6Q653.2,187.3 649.3,187.7L639.2,188.5Q635.2,188.9 633.0,186.1L627.6,179.1Q625.5,176.4 625.4,176.1L625.4,175.3Q625.4,175.0 629.3,172.0Z" fill="url(#sl5)" fill-opacity="0.59"/><path d="M620.5,178.7L611.1,182.5Q607.4,184.0 606.8,186.7L605.3,193.6Q604.7,196.4 610.0,196.3L623.5,196.2Q628.8,196.2 630.0,194.8L633.0,191.2Q634.1,189.8 631.9,187.0L626.4,179.9Q624.2,177.2 620.5,178.7Z" fill="url(#sl5d)" fill-opacity="0.69"/><path d="M562.6,116.7L559.3,115.8Q557.9,115.5 557.9,110.9L557.9,99.3Q557.9,94.8 563.9,94.8L579.1,94.8Q585.0,94.7 585.5,96.5L586.7,100.8Q587.2,102.5 582.1,105.7L569.1,113.8Q563.9,117.0 562.6,116.7Z" fill="url(#sl0d)" fill-opacity="0.76"/><path d="M634.8,191.5L631.7,195.1Q630.5,196.6 637.3,196.6L654.5,196.5Q661.3,196.5 661.5,195.3L661.9,192.2Q662.1,191.0 660.2,190.5L655.3,189.0Q653.3,188.4 649.5,188.8L639.8,189.7Q636.0,190.0 634.8,191.5Z" fill="url(#sl3d)" fill-opacity="0.70"/><path d="M557.9,191.8L557.7,180.6Q557.6,176.2 561.0,180.2L569.5,190.4Q572.9,194.4 572.5,194.8L571.7,195.8Q571.3,196.2 568.4,196.2L560.9,196.2Q558.0,196.2 557.9,191.8Z" fill="url(#sl5d)" fill-opacity="0.86"/><path d="M693.1,194.8L693.1,190.5Q693.1,188.8 688.3,188.6L676.1,188.0Q671.3,187.7 669.7,188.4L665.6,190.3Q664.0,191.0 663.8,192.2L663.3,195.3Q663.1,196.5 669.7,196.5L686.5,196.5Q693.1,196.5 693.1,194.8Z" fill="url(#sl0d)" fill-opacity="0.84"/><path d="M688.6,187.5L675.9,186.6Q671.0,186.3 670.7,179.6L670.0,162.5Q669.7,155.8 672.9,153.4L681.1,147.0Q684.3,144.5 686.3,145.6L691.4,148.5Q693.4,149.7 693.5,158.1L693.5,179.4Q693.6,187.8 688.6,187.5Z" fill="url(#sl0)" fill-opacity="0.60"/><path d="M557.5,140.0L557.5,123.5Q557.5,117.0 558.8,117.4L562.1,118.4Q563.4,118.8 564.4,123.4L567.2,135.0Q568.2,139.5 565.9,141.0L559.8,144.9Q557.4,146.4 557.5,140.0Z" fill="url(#sl3)" fill-opacity="0.68"/><path d="M693.1,102.4L693.1,96.7Q693.1,94.4 686.4,94.4L669.6,94.4Q662.9,94.4 662.7,95.0L662.1,96.6Q661.9,97.2 668.8,98.8L686.3,103.0Q693.1,104.6 693.1,102.4Z" fill="url(#sl5)" fill-opacity="0.79"/><path d="M590.6,165.9L591.1,167.1Q591.3,167.6 588.0,173.3L579.7,188.0Q576.4,193.7 575.9,193.8L574.4,193.8Q573.8,193.9 570.4,189.8L561.6,179.4Q558.2,175.3 558.2,174.3L558.1,171.7Q558.1,170.7 563.9,168.9L578.6,164.2Q584.3,162.4 585.7,163.1L589.1,164.8Q590.4,165.4 590.6,165.9Z" fill="url(#sl2)" fill-opacity="0.61"/><path d="M644.4,159.8L644.6,156.3Q644.6,154.9 646.0,153.8L649.6,150.9Q651.0,149.7 654.8,151.1L664.5,154.6Q668.3,156.0 668.7,162.7L669.6,179.7Q669.9,186.4 668.3,187.2L664.3,189.2Q662.8,190.0 660.9,189.3L656.1,187.6Q654.2,186.9 652.0,181.2L646.5,166.8Q644.4,161.1 644.4,159.8Z" fill="url(#sl0d)" fill-opacity="0.81"/><path d="M578.2,163.0L563.5,167.7Q557.7,169.6 557.8,164.8L558.0,152.5Q558.1,147.7 560.4,146.3L566.4,142.7Q568.8,141.3 569.9,141.4L572.8,141.8Q574.0,142.0 576.2,146.2L581.8,156.9Q584.0,161.1 578.2,163.0Z" fill="url(#sl4)" fill-opacity="0.94"/><path d="M655.4,100.1L655.1,100.1Q655.0,100.1 654.4,98.9L653.1,95.9Q652.6,94.7 654.5,94.7L659.3,94.7Q661.2,94.7 660.9,95.3L660.2,96.7Q660.0,97.2 659.0,97.9L656.5,99.5Q655.5,100.2 655.4,100.1Z" fill="url(#sl3)" fill-opacity="0.50"/><path d="M693.7,139.3L693.8,117.3Q693.8,108.6 691.0,112.3L683.9,121.8Q681.2,125.5 681.9,129.2L683.9,138.8Q684.7,142.6 686.7,143.8L691.7,146.8Q693.7,148.0 693.7,139.3Z" fill="url(#sl1)" fill-opacity="0.71"/><path d="M652.9,99.3L651.5,95.9Q650.9,94.5 645.8,94.5L632.7,94.5Q627.6,94.5 627.5,96.8L627.3,102.8Q627.2,105.1 633.0,104.2L647.7,101.7Q653.4,100.7 652.9,99.3Z" fill="url(#sl1)" fill-opacity="0.58"/><path d="M578.8,196.3L576.7,195.7Q575.9,195.5 575.6,195.4L574.9,195.3Q574.6,195.2 574.2,195.5L573.3,196.3Q573.0,196.5 574.4,196.6L578.2,196.6Q579.6,196.6 578.8,196.3Z" fill="url(#sl1d)" fill-opacity="0.62"/><path d="M622.4,172.5L619.6,167.0Q618.5,164.8 614.2,166.1L603.4,169.3Q599.1,170.5 600.9,173.2L605.3,180.2Q607.1,182.9 610.7,181.4L620.0,177.5Q623.6,176.0 623.6,175.7L623.5,175.0Q623.5,174.7 622.4,172.5Z" fill="url(#sl0d)" fill-opacity="0.75"/><path d="M594.0,159.7L601.1,148.9Q603.9,144.7 601.5,141.9L595.3,134.9Q592.8,132.1 589.0,134.2L579.2,139.5Q575.3,141.6 577.5,145.8L583.0,156.5Q585.2,160.7 586.5,161.4L589.8,163.2Q591.1,163.9 594.0,159.7Z" fill="url(#sl3d)" fill-opacity="0.62"/><path d="M605.0,186.5L603.8,193.4Q603.2,196.1 598.4,196.1L586.1,196.1Q581.3,196.1 580.4,195.7L578.1,194.6Q577.3,194.2 580.5,188.5L588.9,173.8Q592.2,168.1 593.4,168.8L596.6,170.5Q597.8,171.2 599.5,174.0L603.9,181.0Q605.6,183.7 605.0,186.5Z" fill="url(#sl1d)" fill-opacity="0.67"/><path d="M623.7,171.6L620.9,165.9Q619.8,163.7 620.1,160.5L620.9,152.6Q621.2,149.5 626.0,150.6L638.3,153.4Q643.2,154.6 643.0,155.9L642.7,159.3Q642.6,160.6 638.7,163.5L628.7,171.0Q624.8,173.9 623.7,171.6Z" fill="url(#sl2)" fill-opacity="0.64"/><path d="M608.1,143.9L615.4,144.7Q618.3,145.0 620.5,139.9L626.0,127.0Q628.2,121.9 627.2,119.3L624.5,112.5Q623.4,109.9 617.5,109.9L602.3,110.2Q596.4,110.2 595.9,114.8L594.5,126.4Q594.0,130.9 596.4,133.7L602.7,140.8Q605.2,143.5 608.1,143.9Z" fill="url(#sl2d)" fill-opacity="0.78"/><path d="M592.8,126.1L594.4,114.7Q595.1,110.2 593.5,108.7L589.4,104.8Q587.8,103.3 582.7,106.5L569.6,114.9Q564.4,118.2 565.5,122.9L568.3,134.8Q569.4,139.5 570.5,139.7L573.6,140.1Q574.8,140.2 578.6,138.1L588.4,132.7Q592.2,130.6 592.8,126.1Z" fill="url(#sl3d)" fill-opacity="0.77"/><path d="M597.4,168.9L594.2,167.2Q592.9,166.6 592.8,166.1L592.3,164.9Q592.1,164.5 594.9,160.3L602.1,149.6Q605.0,145.4 607.8,145.7L615.1,146.3Q617.9,146.6 618.3,147.2L619.4,148.7Q619.8,149.3 619.4,152.4L618.4,160.4Q618.0,163.5 613.8,164.8L602.9,168.2Q598.7,169.5 597.4,168.9Z" fill="url(#sl1)" fill-opacity="0.60"/><path d="M690.2,111.4L682.9,120.4Q680.1,124.0 676.4,123.5L666.9,122.3Q663.2,121.9 661.6,117.4L657.5,105.9Q655.9,101.4 657.2,100.6L660.4,98.6Q661.6,97.8 668.6,99.4L686.2,103.6Q693.1,105.3 693.1,105.8L693.0,107.2Q693.0,107.8 690.2,111.4Z" fill="url(#sl5)" fill-opacity="0.79"/><path d="M625.7,97.0L625.5,103.0Q625.4,105.4 624.9,106.1L623.6,108.0Q623.1,108.7 617.3,108.8L602.4,109.0Q596.6,109.0 594.9,107.6L590.8,103.8Q589.1,102.4 588.6,100.6L587.2,96.3Q586.7,94.5 595.3,94.5L617.2,94.6Q625.8,94.6 625.7,97.0Z" fill="url(#sl1)" fill-opacity="0.73"/><path d="M654.2,101.7L653.9,101.6Q653.7,101.5 647.9,102.5L633.0,105.0Q627.2,106.0 626.7,106.7L625.4,108.6Q625.0,109.3 626.1,111.9L628.9,118.5Q630.0,121.1 634.3,123.1L645.5,128.0Q649.9,129.9 652.5,128.2L659.1,123.9Q661.6,122.2 660.0,117.7L656.0,106.2Q654.4,101.7 654.2,101.7Z" fill="url(#sl5)" fill-opacity="0.53"/><path d="M644.9,152.3L648.5,149.5Q649.9,148.4 649.8,144.7L649.6,135.1Q649.5,131.4 645.1,129.5L633.8,124.5Q629.4,122.6 627.3,127.6L621.7,140.6Q619.6,145.7 620.0,146.3L621.0,147.7Q621.5,148.3 626.3,149.4L638.6,152.3Q643.5,153.4 644.9,152.3Z" fill="url(#sl5d)" fill-opacity="0.73"/><path d="M665.0,153.0L655.4,149.6Q651.6,148.2 651.5,144.5L651.3,135.0Q651.2,131.2 653.7,129.5L660.2,125.2Q662.7,123.5 666.5,124.0L676.0,125.1Q679.7,125.5 680.5,129.4L682.7,139.3Q683.5,143.2 680.3,145.7L672.0,151.9Q668.8,154.4 665.0,153.0Z" fill="url(#sl4)" fill-opacity="0.82"/></g>
</g>
<rect x="566.20" y="182.20" width="118.80" height="5.60" fill="#1c1c1c"/>
<circle cx="569.20" cy="185.00" r="1.6" fill="#777"/>
<rect x="572.20" y="183.40" width="9" height="1.1" fill="#8a8a8a"/>
<rect x="572.20" y="185.50" width="7" height="1.1" fill="#8a8a8a"/>
<rect x="583.20" y="183.40" width="12" height="1.1" fill="#8a8a8a"/>
<rect x="583.20" y="185.50" width="10" height="1.1" fill="#8a8a8a"/>
<rect x="597.20" y="183.40" width="6" height="1.1" fill="#8a8a8a"/>
<rect x="597.20" y="185.50" width="4" height="1.1" fill="#8a8a8a"/>
<rect x="605.20" y="183.40" width="10" height="1.1" fill="#8a8a8a"/>
<rect x="605.20" y="185.50" width="8" height="1.1" fill="#8a8a8a"/>
<rect x="617.20" y="183.40" width="8" height="1.1" fill="#8a8a8a"/>
<rect x="617.20" y="185.50" width="6" height="1.1" fill="#8a8a8a"/>
<rect x="627.20" y="183.40" width="6" height="1.1" fill="#8a8a8a"/>
<rect x="627.20" y="185.50" width="4" height="1.1" fill="#8a8a8a"/>
<rect x="636.20" y="183.40" width="10" height="1.1" fill="#8a8a8a"/>
<rect x="636.20" y="185.50" width="8" height="1.1" fill="#8a8a8a"/>
<rect x="647.00" y="183.40" width="30" height="1.3" fill="none" stroke="#888" stroke-width="0.5"/>
<rect x="649.00" y="185.60" width="26" height="1" fill="#7a7a7a"/>
<line x1="296.00" y1="104.20" x2="313.00" y2="104.20" stroke="#000" stroke-width="1.6"/>
<line x1="296.00" y1="187.20" x2="313.00" y2="187.20" stroke="#000" stroke-width="1.6"/>
<line x1="304.80" y1="104.20" x2="304.80" y2="129.20" stroke="#000" stroke-width="1.6"/>
<line x1="304.80" y1="162.20" x2="304.80" y2="187.20" stroke="#000" stroke-width="1.6"/>
<text x="298.90" y="145.70" font-size="7.2" font-weight="bold" text-anchor="middle" transform="rotate(90 298.90 145.70)">100μm</text>
<clipPath id="semc17"><rect x="315.50" y="194.50" width="118.50" height="84.00"/></clipPath>
<g clip-path="url(#semc17)">
<rect x="315.50" y="194.50" width="118.50" height="84.00" fill="#b4b4b4"/>
<g stroke="#e0e0e0" stroke-width="0.7" stroke-opacity="0.8"><path d="M442.1,210.1L447.9,211.5Q450.1,212.1 450.1,204.6L450.0,185.6Q450.0,178.2 439.4,178.1L412.4,178.1Q401.8,178.0 401.9,178.8L402.0,180.6Q402.0,181.3 410.3,187.5L431.5,203.3Q439.8,209.5 442.1,210.1Z" fill="url(#sl4d)" fill-opacity="0.86"/><path d="M343.3,206.6L330.0,186.5Q324.8,178.7 319.1,178.7L304.7,178.6Q299.0,178.6 299.0,195.6L299.0,239.1Q299.0,256.2 302.3,255.8L310.8,255.0Q314.1,254.7 321.7,245.8L341.0,223.3Q348.5,214.5 343.3,206.6Z" fill="url(#sl1)" fill-opacity="0.96"/><path d="M364.0,221.4L385.4,239.9Q393.8,247.2 393.4,254.1L392.4,271.6Q392.0,278.4 381.9,278.7L356.3,279.4Q346.3,279.7 339.4,274.4L322.1,261.0Q315.2,255.7 322.9,246.8L342.4,224.4Q350.1,215.5 351.3,215.2L354.4,214.4Q355.6,214.1 364.0,221.4Z" fill="url(#sl4)" fill-opacity="0.88"/><path d="M359.0,208.4L368.3,200.2Q372.0,197.0 369.4,192.9L362.8,182.6Q360.3,178.6 352.7,178.5L333.6,178.3Q326.0,178.2 331.3,185.9L344.7,205.5Q349.9,213.2 351.1,212.9L354.1,212.0Q355.3,211.7 359.0,208.4Z" fill="url(#sl5d)" fill-opacity="0.62"/><path d="M311.1,257.2L302.7,257.8Q299.4,258.0 299.4,266.1L299.4,286.7Q299.4,294.7 309.5,294.7L335.3,294.8Q345.4,294.8 345.3,291.7L344.8,283.8Q344.6,280.7 338.0,275.5L321.1,262.2Q314.4,257.0 311.1,257.2Z" fill="url(#sl3d)" fill-opacity="0.64"/><path d="M347.1,284.2L347.4,292.1Q347.6,295.2 361.7,295.2L397.6,295.2Q411.7,295.3 407.3,291.8L396.1,283.2Q391.8,279.7 381.9,280.0L356.8,280.8Q347.0,281.1 347.1,284.2Z" fill="url(#sl5)" fill-opacity="0.91"/><path d="M371.3,192.1L364.6,181.8Q361.9,177.8 370.2,177.8L391.3,177.9Q399.6,177.9 399.7,178.6L399.7,180.4Q399.7,181.1 394.1,184.4L379.6,192.8Q373.9,196.1 371.3,192.1Z" fill="url(#sl0d)" fill-opacity="0.81"/><path d="M360.5,209.4L370.3,201.0Q374.2,197.7 380.0,194.3L394.8,185.5Q400.6,182.1 409.1,188.3L430.7,204.3Q439.2,210.5 429.5,218.3L404.7,238.2Q394.9,246.0 386.5,238.7L365.1,220.1Q356.7,212.8 360.5,209.4Z" fill="url(#sl3)" fill-opacity="0.81"/><path d="M398.1,282.0L408.9,290.9Q413.2,294.3 421.3,294.4L442.1,294.5Q450.3,294.5 450.3,276.8L450.4,231.7Q450.4,213.9 448.1,213.4L442.3,212.2Q440.0,211.7 430.4,219.6L405.8,239.7Q396.1,247.6 395.6,254.4L394.3,271.7Q393.8,278.5 398.1,282.0Z" fill="url(#sl1)" fill-opacity="0.89"/></g>
</g>
<rect x="315.50" y="272.90" width="118.50" height="5.60" fill="#1c1c1c"/>
<circle cx="318.50" cy="275.70" r="1.6" fill="#777"/>
<rect x="321.50" y="274.10" width="9" height="1.1" fill="#8a8a8a"/>
<rect x="321.50" y="276.20" width="7" height="1.1" fill="#8a8a8a"/>
<rect x="332.50" y="274.10" width="12" height="1.1" fill="#8a8a8a"/>
<rect x="332.50" y="276.20" width="10" height="1.1" fill="#8a8a8a"/>
<rect x="346.50" y="274.10" width="6" height="1.1" fill="#8a8a8a"/>
<rect x="346.50" y="276.20" width="4" height="1.1" fill="#8a8a8a"/>
<rect x="354.50" y="274.10" width="10" height="1.1" fill="#8a8a8a"/>
<rect x="354.50" y="276.20" width="8" height="1.1" fill="#8a8a8a"/>
<rect x="366.50" y="274.10" width="8" height="1.1" fill="#8a8a8a"/>
<rect x="366.50" y="276.20" width="6" height="1.1" fill="#8a8a8a"/>
<rect x="376.50" y="274.10" width="6" height="1.1" fill="#8a8a8a"/>
<rect x="376.50" y="276.20" width="4" height="1.1" fill="#8a8a8a"/>
<rect x="385.50" y="274.10" width="10" height="1.1" fill="#8a8a8a"/>
<rect x="385.50" y="276.20" width="8" height="1.1" fill="#8a8a8a"/>
<rect x="396.00" y="274.10" width="30" height="1.3" fill="none" stroke="#888" stroke-width="0.5"/>
<rect x="398.00" y="276.30" width="26" height="1" fill="#7a7a7a"/>
<clipPath id="semc18"><rect x="440.70" y="194.50" width="118.50" height="84.00"/></clipPath>
<g clip-path="url(#semc18)">
<rect x="440.70" y="194.50" width="118.50" height="84.00" fill="#b4b4b4"/>
<g stroke="#e0e0e0" stroke-width="0.7" stroke-opacity="0.8"><path d="M499.0,293.3L486.6,293.2Q481.8,293.2 482.0,292.7L482.6,291.4Q482.9,291.0 484.4,290.4L488.3,289.0Q489.9,288.4 493.0,289.5L500.8,292.2Q503.9,293.3 499.0,293.3Z" fill="url(#sl4)" fill-opacity="0.85"/><path d="M525.9,293.0L554.7,292.9Q565.9,292.9 563.1,287.2L555.8,272.6Q552.9,266.8 548.7,267.2L538.1,268.3Q533.9,268.7 529.6,274.0L518.9,287.6Q514.6,293.0 525.9,293.0Z" fill="url(#sl0)" fill-opacity="0.78"/><path d="M480.2,291.4L479.7,292.8Q479.4,293.3 467.9,293.3L438.4,293.3Q426.9,293.3 426.9,292.7L426.9,291.2Q426.9,290.6 431.1,288.2L441.6,282.2Q445.8,279.8 453.4,282.2L472.8,288.4Q480.5,290.8 480.2,291.4Z" fill="url(#sl0)" fill-opacity="0.86"/><path d="M450.1,180.3L433.2,180.4Q426.5,180.4 426.5,187.1L426.5,204.1Q426.5,210.8 431.4,210.3L443.9,209.2Q448.8,208.7 450.6,202.5L455.0,186.5Q456.8,180.3 450.1,180.3Z" fill="url(#sl2d)" fill-opacity="0.94"/><path d="M574.0,244.9L573.9,279.0Q573.9,292.4 572.3,292.3L568.5,292.3Q567.0,292.3 564.3,286.6L557.5,272.0Q554.8,266.3 559.1,258.6L569.8,239.1Q574.0,231.5 574.0,244.9Z" fill="url(#sl2d)" fill-opacity="0.81"/><path d="M507.0,292.3L511.4,292.3Q513.2,292.4 517.3,287.0L527.9,273.4Q532.0,268.0 528.3,264.3L518.7,254.7Q514.9,250.9 509.4,253.1L495.5,258.7Q490.0,260.9 490.2,266.5L490.8,280.9Q491.1,286.6 494.2,287.8L502.1,291.0Q505.3,292.3 507.0,292.3Z" fill="url(#sl3d)" fill-opacity="0.90"/><path d="M537.8,266.1L548.9,265.1Q553.3,264.8 557.6,257.2L568.7,238.0Q573.0,230.4 573.1,225.5L573.2,213.2Q573.3,208.3 563.3,207.4L538.0,204.9Q528.0,203.9 525.7,205.7L519.9,210.2Q517.6,211.9 517.3,220.1L516.6,241.0Q516.3,249.2 520.0,253.0L529.7,262.7Q533.5,266.5 537.8,266.1Z" fill="url(#sl2)" fill-opacity="0.84"/><path d="M483.4,254.0L469.1,241.5Q463.5,236.6 462.5,232.4L460.0,221.8Q459.1,217.6 471.5,216.4L503.3,213.1Q515.8,211.9 515.4,220.1L514.5,241.0Q514.2,249.2 508.6,251.3L494.6,256.8Q489.0,258.9 483.4,254.0Z" fill="url(#sl0d)" fill-opacity="0.83"/><path d="M503.2,211.9L471.5,215.1Q459.1,216.4 457.2,214.9L452.5,211.0Q450.7,209.4 452.4,203.0L456.9,186.6Q458.7,180.2 471.5,180.2L504.3,180.2Q517.2,180.2 519.2,185.1L524.3,197.8Q526.3,202.8 524.0,204.5L518.0,208.9Q515.6,210.7 503.2,211.9Z" fill="url(#sl1)" fill-opacity="0.65"/><path d="M458.2,222.2L460.3,232.8Q461.1,237.0 457.6,245.9L448.6,268.7Q445.1,277.6 441.0,280.2L430.3,286.9Q426.1,289.5 426.2,272.6L426.3,229.6Q426.3,212.7 431.4,212.3L444.3,211.3Q449.3,210.9 451.1,212.5L455.6,216.5Q457.4,218.0 458.2,222.2Z" fill="url(#sl4d)" fill-opacity="0.80"/><path d="M487.5,287.1L483.0,289.0Q481.2,289.8 473.5,287.3L454.0,281.0Q446.3,278.5 449.9,269.5L459.0,246.8Q462.6,237.8 468.2,242.9L482.5,255.7Q488.1,260.8 488.3,266.4L489.0,280.7Q489.2,286.4 487.5,287.1Z" fill="url(#sl4d)" fill-opacity="0.85"/><path d="M573.1,186.0L573.2,201.0Q573.2,207.0 563.4,205.9L538.4,203.3Q528.6,202.3 526.5,197.4L521.3,184.9Q519.3,180.0 531.1,180.0L561.3,180.0Q573.1,180.0 573.1,186.0Z" fill="url(#sl0d)" fill-opacity="0.70"/></g>
</g>
<rect x="440.70" y="272.90" width="118.50" height="5.60" fill="#1c1c1c"/>
<circle cx="443.70" cy="275.70" r="1.6" fill="#777"/>
<rect x="446.70" y="274.10" width="9" height="1.1" fill="#8a8a8a"/>
<rect x="446.70" y="276.20" width="7" height="1.1" fill="#8a8a8a"/>
<rect x="457.70" y="274.10" width="12" height="1.1" fill="#8a8a8a"/>
<rect x="457.70" y="276.20" width="10" height="1.1" fill="#8a8a8a"/>
<rect x="471.70" y="274.10" width="6" height="1.1" fill="#8a8a8a"/>
<rect x="471.70" y="276.20" width="4" height="1.1" fill="#8a8a8a"/>
<rect x="479.70" y="274.10" width="10" height="1.1" fill="#8a8a8a"/>
<rect x="479.70" y="276.20" width="8" height="1.1" fill="#8a8a8a"/>
<rect x="491.70" y="274.10" width="8" height="1.1" fill="#8a8a8a"/>
<rect x="491.70" y="276.20" width="6" height="1.1" fill="#8a8a8a"/>
<rect x="501.70" y="274.10" width="6" height="1.1" fill="#8a8a8a"/>
<rect x="501.70" y="276.20" width="4" height="1.1" fill="#8a8a8a"/>
<rect x="510.70" y="274.10" width="10" height="1.1" fill="#8a8a8a"/>
<rect x="510.70" y="276.20" width="8" height="1.1" fill="#8a8a8a"/>
<rect x="521.20" y="274.10" width="30" height="1.3" fill="none" stroke="#888" stroke-width="0.5"/>
<rect x="523.20" y="276.30" width="26" height="1" fill="#7a7a7a"/>
<clipPath id="semc19"><rect x="566.20" y="194.50" width="118.80" height="84.00"/></clipPath>
<g clip-path="url(#semc19)">
<rect x="566.20" y="194.50" width="118.80" height="84.00" fill="#b4b4b4"/>
<g stroke="#e0e0e0" stroke-width="0.7" stroke-opacity="0.8"><path d="M613.0,248.7L614.7,248.3Q615.3,248.2 623.0,252.1L642.6,262.0Q650.3,265.9 649.4,267.2L647.2,270.7Q646.3,272.1 641.0,276.2L627.6,286.7Q622.3,290.8 619.8,290.8L613.6,290.9Q611.1,290.9 610.1,284.3L607.5,267.6Q606.4,261.0 607.7,258.3L611.1,251.5Q612.4,248.8 613.0,248.7Z" fill="url(#sl2d)" fill-opacity="0.76"/><path d="M666.4,255.7L668.0,248.1Q668.6,245.1 675.0,244.5L691.1,243.2Q697.5,242.7 697.5,247.2L697.4,258.8Q697.4,263.4 691.7,263.4L677.2,263.5Q671.5,263.5 670.3,262.5L667.0,259.8Q665.7,258.7 666.4,255.7Z" fill="url(#sl3d)" fill-opacity="0.73"/><path d="M570.1,224.1L558.4,205.4Q553.9,198.0 553.8,194.4L553.7,185.3Q553.6,181.8 563.5,181.8L588.8,181.9Q598.7,181.9 600.5,185.2L605.3,193.5Q607.1,196.8 603.2,203.8L593.1,221.6Q589.2,228.6 586.0,229.3L577.8,230.9Q574.6,231.5 570.1,224.1Z" fill="url(#sl4)" fill-opacity="0.65"/><path d="M553.6,267.0L553.1,267.5Q552.9,267.7 552.9,252.6L552.9,214.1Q552.9,199.0 557.4,206.5L568.9,225.7Q573.4,233.3 569.1,240.7L558.1,259.5Q553.8,266.8 553.6,267.0Z" fill="url(#sl3)" fill-opacity="0.65"/><path d="M605.9,244.1L594.1,234.6Q589.4,230.9 586.3,231.5L578.3,233.0Q575.2,233.6 570.7,241.1L559.1,260.0Q554.6,267.4 565.5,265.7L593.4,261.5Q604.3,259.8 605.7,257.2L609.2,250.4Q610.6,247.8 605.9,244.1Z" fill="url(#sl1)" fill-opacity="0.70"/><path d="M655.1,265.1L661.8,261.6Q664.4,260.2 665.6,261.4L668.7,264.2Q669.9,265.3 673.1,271.0L681.3,285.6Q684.5,291.3 677.7,291.2L660.3,291.0Q653.5,290.9 652.4,286.9L649.7,276.5Q648.7,272.4 649.5,271.1L651.6,267.8Q652.5,266.5 655.1,265.1Z" fill="url(#sl2)" fill-opacity="0.55"/><path d="M671.2,207.9L689.9,200.3Q697.3,197.3 697.3,193.8L697.4,185.1Q697.5,181.6 688.1,181.6L664.1,181.7Q654.7,181.7 655.6,187.5L657.7,202.1Q658.5,207.8 659.7,208.5L662.7,210.2Q663.8,210.9 671.2,207.9Z" fill="url(#sl3)" fill-opacity="0.74"/><path d="M641.2,208.4L652.2,208.1Q656.5,208.0 655.7,202.2L653.6,187.4Q652.8,181.6 641.3,181.6L612.0,181.5Q600.6,181.5 602.5,184.8L607.5,193.2Q609.5,196.5 615.5,199.1L630.9,205.8Q636.9,208.5 641.2,208.4Z" fill="url(#sl3)" fill-opacity="0.85"/><path d="M605.4,267.8L608.3,284.8Q609.4,291.5 597.2,291.5L565.9,291.4Q553.7,291.3 553.7,286.5L553.8,274.1Q553.8,269.3 554.0,269.1L554.5,268.6Q554.7,268.5 565.6,266.8L593.4,262.7Q604.3,261.1 605.4,267.8Z" fill="url(#sl4d)" fill-opacity="0.73"/><path d="M674.8,242.8L691.2,241.6Q697.7,241.1 697.7,231.7L697.8,207.7Q697.9,198.3 690.5,201.5L671.6,209.4Q664.2,212.5 665.1,219.3L667.4,236.5Q668.4,243.3 674.8,242.8Z" fill="url(#sl4)" fill-opacity="0.76"/><path d="M695.1,291.0L688.4,290.9Q685.7,290.8 682.6,285.2L674.7,270.8Q671.7,265.2 677.4,265.1L692.0,265.0Q697.8,264.9 697.8,270.6L697.8,285.3Q697.8,291.0 695.1,291.0Z" fill="url(#sl4)" fill-opacity="0.74"/><path d="M623.8,250.6L643.7,260.6Q651.5,264.6 654.2,263.1L661.2,259.4Q664.0,258.0 664.6,254.9L666.0,246.9Q666.6,243.7 665.7,236.9L663.5,219.7Q662.6,212.9 661.4,212.2L658.4,210.4Q657.3,209.7 653.0,209.9L642.2,210.4Q637.9,210.6 633.1,218.6L620.8,238.8Q616.0,246.7 623.8,250.6Z" fill="url(#sl3d)" fill-opacity="0.73"/><path d="M612.5,246.4L614.1,246.0Q614.7,245.9 619.5,238.1L631.6,218.1Q636.4,210.2 630.2,207.5L614.6,200.5Q608.4,197.8 604.6,204.8L594.7,222.6Q590.8,229.6 595.4,233.3L607.2,242.8Q611.8,246.6 612.5,246.4Z" fill="url(#sl0d)" fill-opacity="0.74"/><path d="M628.5,287.6L641.8,277.4Q647.0,273.3 648.0,277.3L650.8,287.4Q651.9,291.4 645.6,291.5L629.6,291.6Q623.4,291.6 628.5,287.6Z" fill="url(#sl0)" fill-opacity="0.75"/></g>
</g>
<rect x="566.20" y="272.90" width="118.80" height="5.60" fill="#1c1c1c"/>
<circle cx="569.20" cy="275.70" r="1.6" fill="#777"/>
<rect x="572.20" y="274.10" width="9" height="1.1" fill="#8a8a8a"/>
<rect x="572.20" y="276.20" width="7" height="1.1" fill="#8a8a8a"/>
<rect x="583.20" y="274.10" width="12" height="1.1" fill="#8a8a8a"/>
<rect x="583.20" y="276.20" width="10" height="1.1" fill="#8a8a8a"/>
<rect x="597.20" y="274.10" width="6" height="1.1" fill="#8a8a8a"/>
<rect x="597.20" y="276.20" width="4" height="1.1" fill="#8a8a8a"/>
<rect x="605.20" y="274.10" width="10" height="1.1" fill="#8a8a8a"/>
<rect x="605.20" y="276.20" width="8" height="1.1" fill="#8a8a8a"/>
<rect x="617.20" y="274.10" width="8" height="1.1" fill="#8a8a8a"/>
<rect x="617.20" y="276.20" width="6" height="1.1" fill="#8a8a8a"/>
<rect x="627.20" y="274.10" width="6" height="1.1" fill="#8a8a8a"/>
<rect x="627.20" y="276.20" width="4" height="1.1" fill="#8a8a8a"/>
<rect x="636.20" y="274.10" width="10" height="1.1" fill="#8a8a8a"/>
<rect x="636.20" y="276.20" width="8" height="1.1" fill="#8a8a8a"/>
<rect x="647.00" y="274.10" width="30" height="1.3" fill="none" stroke="#888" stroke-width="0.5"/>
<rect x="649.00" y="276.30" width="26" height="1" fill="#7a7a7a"/>
<line x1="296.00" y1="195.50" x2="313.00" y2="195.50" stroke="#000" stroke-width="1.6"/>
<line x1="296.00" y1="277.90" x2="313.00" y2="277.90" stroke="#000" stroke-width="1.6"/>
<line x1="304.80" y1="195.50" x2="304.80" y2="220.20" stroke="#000" stroke-width="1.6"/>
<line x1="304.80" y1="253.20" x2="304.80" y2="277.90" stroke="#000" stroke-width="1.6"/>
<text x="298.90" y="236.70" font-size="7.2" font-weight="bold" text-anchor="middle" transform="rotate(90 298.90 236.70)">50μm</text>
<rect x="51.30" y="396.05" width="19.00" height="10.45" fill="none" stroke="#e5836c" stroke-width="0.9"/>
<rect x="70.30" y="333.35" width="19.00" height="73.15" fill="none" stroke="#e5836c" stroke-width="0.9"/>
<rect x="89.30" y="314.67" width="19.00" height="91.83" fill="none" stroke="#e5836c" stroke-width="0.9"/>
<rect x="108.30" y="371.23" width="19.00" height="35.27" fill="none" stroke="#e5836c" stroke-width="0.9"/>
<rect x="127.30" y="399.97" width="38.00" height="6.53" fill="none" stroke="#e5836c" stroke-width="0.9"/>
<rect x="165.30" y="405.32" width="38.00" height="1.18" fill="none" stroke="#e5836c" stroke-width="0.9"/>
<path d="M32.30,405.20 L33.25,405.03 L34.20,404.84 L35.15,404.63 L36.10,404.39 L37.05,404.13 L38.00,403.85 L38.95,403.53 L39.90,403.18 L40.85,402.80 L41.80,402.39 L42.75,401.93 L43.70,401.44 L44.65,400.89 L45.60,400.31 L46.55,399.67 L47.50,398.98 L48.45,398.24 L49.40,397.44 L50.35,396.58 L51.30,395.66 L52.25,394.67 L53.20,393.62 L54.15,392.50 L55.10,391.31 L56.05,390.05 L57.00,388.71 L57.95,387.30 L58.90,385.82 L59.85,384.26 L60.80,382.63 L61.75,380.93 L62.70,379.15 L63.65,377.30 L64.60,375.38 L65.55,373.40 L66.50,371.35 L67.45,369.24 L68.40,367.08 L69.35,364.87 L70.30,362.61 L71.25,360.31 L72.20,357.98 L73.15,355.63 L74.10,353.25 L75.05,350.87 L76.00,348.48 L76.95,346.10 L77.90,343.74 L78.85,341.40 L79.80,339.09 L80.75,336.83 L81.70,334.62 L82.65,332.48 L83.60,330.41 L84.55,328.42 L85.50,326.52 L86.45,324.73 L87.40,323.04 L88.35,321.48 L89.30,320.04 L90.25,318.73 L91.20,317.56 L92.15,316.55 L93.10,315.68 L94.05,314.97 L95.00,314.42 L95.95,314.03 L96.90,313.81 L97.85,313.76 L98.80,313.87 L99.75,314.15 L100.70,314.59 L101.65,315.20 L102.60,315.97 L103.55,316.89 L104.50,317.96 L105.45,319.17 L106.40,320.53 L107.35,322.01 L108.30,323.62 L109.25,325.35 L110.20,327.18 L111.15,329.11 L112.10,331.13 L113.05,333.23 L114.00,335.39 L114.95,337.62 L115.90,339.90 L116.85,342.22 L117.80,344.57 L118.75,346.94 L119.70,349.32 L120.65,351.71 L121.60,354.09 L122.55,356.46 L123.50,358.81 L124.45,361.12 L125.40,363.41 L126.35,365.65 L127.30,367.85 L128.25,369.99 L129.20,372.08 L130.15,374.10 L131.10,376.06 L132.05,377.96 L133.00,379.78 L133.95,381.53 L134.90,383.21 L135.85,384.82 L136.80,386.35 L137.75,387.81 L138.70,389.19 L139.65,390.50 L140.60,391.74 L141.55,392.90 L142.50,394.00 L143.45,395.03 L144.40,395.99 L145.35,396.89 L146.30,397.73 L147.25,398.51 L148.20,399.23 L149.15,399.90 L150.10,400.52 L151.05,401.09 L152.00,401.62 L152.95,402.10 L153.90,402.54 L154.85,402.94 L155.80,403.31 L156.75,403.65 L157.70,403.95 L158.65,404.23 L159.60,404.48 L160.55,404.70 L161.50,404.91 L162.45,405.09 L163.40,405.25 L164.35,405.40 L165.30,405.53 L166.25,405.65 L167.20,405.75 L168.15,405.85 L169.10,405.93 L170.05,406.00 L171.00,406.07 L171.95,406.12 L172.90,406.17 L173.85,406.22 L174.80,406.25 L175.75,406.29 L176.70,406.32 L177.65,406.34 L178.60,406.37 L179.55,406.38 L180.50,406.40 L181.45,406.42 L182.40,406.43 L183.35,406.44 L184.30,406.45 L185.25,406.46 L186.20,406.46 L187.15,406.47 L188.10,406.47 L189.05,406.48 L190.00,406.48 L190.95,406.48 L191.90,406.49 L192.85,406.49 L193.80,406.49 L194.75,406.49 L195.70,406.49 L196.65,406.49 L197.60,406.50 L198.55,406.50 L199.50,406.50 L200.45,406.50 L201.40,406.50 L202.35,406.50 L203.30,406.50" fill="none" stroke="#e5836c" stroke-width="0.9"/>
<rect x="32.30" y="302.00" width="171.00" height="104.50" fill="none" stroke="#222" stroke-width="0.9"/>
<line x1="29.70" y1="406.50" x2="32.30" y2="406.50" stroke="#222" stroke-width="0.7"/>
<text x="29.10" y="408.00" font-size="4.3" fill="#222" text-anchor="end">0</text>
<line x1="29.70" y1="354.25" x2="32.30" y2="354.25" stroke="#222" stroke-width="0.7"/>
<text x="29.10" y="355.75" font-size="4.3" fill="#222" text-anchor="end">80</text>
<line x1="29.70" y1="302.00" x2="32.30" y2="302.00" stroke="#222" stroke-width="0.7"/>
<text x="29.10" y="303.50" font-size="4.3" fill="#222" text-anchor="end">160</text>
<line x1="32.30" y1="406.50" x2="32.30" y2="408.90" stroke="#222" stroke-width="0.7"/>
<text x="32.30" y="413.50" font-size="4.3" fill="#222" text-anchor="middle">-50</text>
<line x1="51.30" y1="406.50" x2="51.30" y2="408.90" stroke="#222" stroke-width="0.7"/>
<text x="51.30" y="413.50" font-size="4.3" fill="#222" text-anchor="middle">0</text>
<line x1="70.30" y1="406.50" x2="70.30" y2="408.90" stroke="#222" stroke-width="0.7"/>
<text x="70.30" y="413.50" font-size="4.3" fill="#222" text-anchor="middle">50</text>
<line x1="89.30" y1="406.50" x2="89.30" y2="408.90" stroke="#222" stroke-width="0.7"/>
<text x="89.30" y="413.50" font-size="4.3" fill="#222" text-anchor="middle">100</text>
<line x1="108.30" y1="406.50" x2="108.30" y2="408.90" stroke="#222" stroke-width="0.7"/>
<text x="108.30" y="413.50" font-size="4.3" fill="#222" text-anchor="middle">150</text>
<line x1="127.30" y1="406.50" x2="127.30" y2="408.90" stroke="#222" stroke-width="0.7"/>
<text x="127.30" y="413.50" font-size="4.3" fill="#222" text-anchor="middle">200</text>
<line x1="146.30" y1="406.50" x2="146.30" y2="408.90" stroke="#222" stroke-width="0.7"/>
<text x="146.30" y="413.50" font-size="4.3" fill="#222" text-anchor="middle">250</text>
<line x1="165.30" y1="406.50" x2="165.30" y2="408.90" stroke="#222" stroke-width="0.7"/>
<text x="165.30" y="413.50" font-size="4.3" fill="#222" text-anchor="middle">300</text>
<line x1="184.30" y1="406.50" x2="184.30" y2="408.90" stroke="#222" stroke-width="0.7"/>
<text x="184.30" y="413.50" font-size="4.3" fill="#222" text-anchor="middle">350</text>
<line x1="203.30" y1="406.50" x2="203.30" y2="408.90" stroke="#222" stroke-width="0.7"/>
<text x="203.30" y="413.50" font-size="4.3" fill="#222" text-anchor="middle">400</text>
<text x="117.80" y="421.20" font-size="5.6" fill="#111" text-anchor="middle">Diameter (μm)</text>
<text x="88.30" y="313.00" font-size="5.3" fill="#111" text-anchor="start">D=122.06±58.91</text>
<rect x="294.00" y="389.46" width="19.00" height="16.34" fill="none" stroke="#7cb88e" stroke-width="0.9"/>
<rect x="313.00" y="313.62" width="19.00" height="92.18" fill="none" stroke="#7cb88e" stroke-width="0.9"/>
<rect x="332.00" y="347.09" width="19.00" height="58.71" fill="none" stroke="#7cb88e" stroke-width="0.9"/>
<rect x="351.00" y="391.16" width="19.00" height="14.64" fill="none" stroke="#7cb88e" stroke-width="0.9"/>
<rect x="370.00" y="393.18" width="19.00" height="12.62" fill="none" stroke="#7cb88e" stroke-width="0.9"/>
<rect x="389.00" y="402.01" width="19.00" height="3.79" fill="none" stroke="#7cb88e" stroke-width="0.9"/>
<rect x="408.00" y="403.97" width="19.00" height="1.83" fill="none" stroke="#7cb88e" stroke-width="0.9"/>
<path d="M256.00,405.59 L256.95,405.55 L257.90,405.52 L258.85,405.47 L259.80,405.42 L260.75,405.37 L261.70,405.31 L262.65,405.24 L263.60,405.16 L264.55,405.07 L265.50,404.97 L266.45,404.86 L267.40,404.73 L268.35,404.59 L269.30,404.44 L270.25,404.26 L271.20,404.07 L272.15,403.86 L273.10,403.62 L274.05,403.36 L275.00,403.08 L275.95,402.76 L276.90,402.42 L277.85,402.04 L278.80,401.63 L279.75,401.18 L280.70,400.69 L281.65,400.16 L282.60,399.59 L283.55,398.96 L284.50,398.29 L285.45,397.57 L286.40,396.79 L287.35,395.96 L288.30,395.07 L289.25,394.11 L290.20,393.10 L291.15,392.02 L292.10,390.87 L293.05,389.65 L294.00,388.37 L294.95,387.02 L295.90,385.59 L296.85,384.10 L297.80,382.53 L298.75,380.90 L299.70,379.19 L300.65,377.42 L301.60,375.58 L302.55,373.68 L303.50,371.72 L304.45,369.70 L305.40,367.62 L306.35,365.50 L307.30,363.33 L308.25,361.12 L309.20,358.87 L310.15,356.60 L311.10,354.30 L312.05,351.99 L313.00,349.68 L313.95,347.36 L314.90,345.06 L315.85,342.77 L316.80,340.50 L317.75,338.27 L318.70,336.09 L319.65,333.96 L320.60,331.89 L321.55,329.89 L322.50,327.97 L323.45,326.14 L324.40,324.41 L325.35,322.78 L326.30,321.26 L327.25,319.86 L328.20,318.59 L329.15,317.46 L330.10,316.46 L331.05,315.61 L332.00,314.90 L332.95,314.35 L333.90,313.95 L334.85,313.71 L335.80,313.62 L336.75,313.69 L337.70,313.93 L338.65,314.31 L339.60,314.86 L340.55,315.55 L341.50,316.39 L342.45,317.38 L343.40,318.51 L344.35,319.77 L345.30,321.16 L346.25,322.66 L347.20,324.28 L348.15,326.01 L349.10,327.84 L350.05,329.75 L351.00,331.74 L351.95,333.81 L352.90,335.93 L353.85,338.12 L354.80,340.34 L355.75,342.60 L356.70,344.89 L357.65,347.20 L358.60,349.51 L359.55,351.83 L360.50,354.14 L361.45,356.43 L362.40,358.71 L363.35,360.95 L364.30,363.17 L365.25,365.34 L366.20,367.47 L367.15,369.55 L368.10,371.57 L369.05,373.54 L370.00,375.45 L370.95,377.29 L371.90,379.07 L372.85,380.78 L373.80,382.42 L374.75,383.99 L375.70,385.49 L376.65,386.92 L377.60,388.27 L378.55,389.56 L379.50,390.78 L380.45,391.93 L381.40,393.02 L382.35,394.04 L383.30,395.00 L384.25,395.90 L385.20,396.73 L386.15,397.52 L387.10,398.24 L388.05,398.92 L389.00,399.54 L389.95,400.12 L390.90,400.65 L391.85,401.15 L392.80,401.60 L393.75,402.01 L394.70,402.39 L395.65,402.74 L396.60,403.06 L397.55,403.34 L398.50,403.60 L399.45,403.84 L400.40,404.06 L401.35,404.25 L402.30,404.42 L403.25,404.58 L404.20,404.72 L405.15,404.85 L406.10,404.96 L407.05,405.06 L408.00,405.15 L408.95,405.23 L409.90,405.30 L410.85,405.36 L411.80,405.42 L412.75,405.47 L413.70,405.51 L414.65,405.55 L415.60,405.58 L416.55,405.61 L417.50,405.64 L418.45,405.66 L419.40,405.68 L420.35,405.70 L421.30,405.71 L422.25,405.72 L423.20,405.74 L424.15,405.74 L425.10,405.75 L426.05,405.76 L427.00,405.77" fill="none" stroke="#7cb88e" stroke-width="0.9"/>
<rect x="256.00" y="301.20" width="171.00" height="104.60" fill="none" stroke="#222" stroke-width="0.9"/>
<line x1="253.40" y1="405.80" x2="256.00" y2="405.80" stroke="#222" stroke-width="0.7"/>
<text x="252.80" y="407.30" font-size="4.3" fill="#222" text-anchor="end">0</text>
<line x1="253.40" y1="353.50" x2="256.00" y2="353.50" stroke="#222" stroke-width="0.7"/>
<text x="252.80" y="355.00" font-size="4.3" fill="#222" text-anchor="end">80</text>
<line x1="253.40" y1="301.20" x2="256.00" y2="301.20" stroke="#222" stroke-width="0.7"/>
<text x="252.80" y="302.70" font-size="4.3" fill="#222" text-anchor="end">160</text>
<line x1="256.00" y1="405.80" x2="256.00" y2="408.20" stroke="#222" stroke-width="0.7"/>
<text x="256.00" y="412.80" font-size="4.3" fill="#222" text-anchor="middle">-50</text>
<line x1="275.00" y1="405.80" x2="275.00" y2="408.20" stroke="#222" stroke-width="0.7"/>
<text x="275.00" y="412.80" font-size="4.3" fill="#222" text-anchor="middle">0</text>
<line x1="294.00" y1="405.80" x2="294.00" y2="408.20" stroke="#222" stroke-width="0.7"/>
<text x="294.00" y="412.80" font-size="4.3" fill="#222" text-anchor="middle">50</text>
<line x1="313.00" y1="405.80" x2="313.00" y2="408.20" stroke="#222" stroke-width="0.7"/>
<text x="313.00" y="412.80" font-size="4.3" fill="#222" text-anchor="middle">100</text>
<line x1="332.00" y1="405.80" x2="332.00" y2="408.20" stroke="#222" stroke-width="0.7"/>
<text x="332.00" y="412.80" font-size="4.3" fill="#222" text-anchor="middle">150</text>
<line x1="351.00" y1="405.80" x2="351.00" y2="408.20" stroke="#222" stroke-width="0.7"/>
<text x="351.00" y="412.80" font-size="4.3" fill="#222" text-anchor="middle">200</text>
<line x1="370.00" y1="405.80" x2="370.00" y2="408.20" stroke="#222" stroke-width="0.7"/>
<text x="370.00" y="412.80" font-size="4.3" fill="#222" text-anchor="middle">250</text>
<line x1="389.00" y1="405.80" x2="389.00" y2="408.20" stroke="#222" stroke-width="0.7"/>
<text x="389.00" y="412.80" font-size="4.3" fill="#222" text-anchor="middle">300</text>
<line x1="408.00" y1="405.80" x2="408.00" y2="408.20" stroke="#222" stroke-width="0.7"/>
<text x="408.00" y="412.80" font-size="4.3" fill="#222" text-anchor="middle">350</text>
<line x1="427.00" y1="405.80" x2="427.00" y2="408.20" stroke="#222" stroke-width="0.7"/>
<text x="427.00" y="412.80" font-size="4.3" fill="#222" text-anchor="middle">400</text>
<text x="341.50" y="420.50" font-size="5.6" fill="#111" text-anchor="middle">Diameter (μm)</text>
<text x="313.40" y="312.00" font-size="5.3" fill="#111" text-anchor="start">D=160.09±60.32</text>
<rect x="526.13" y="405.06" width="18.93" height="0.84" fill="none" stroke="#88bdf0" stroke-width="0.9"/>
<rect x="545.07" y="357.66" width="18.93" height="48.24" fill="none" stroke="#88bdf0" stroke-width="0.9"/>
<rect x="564.00" y="322.30" width="18.93" height="83.60" fill="none" stroke="#88bdf0" stroke-width="0.9"/>
<rect x="582.93" y="363.26" width="18.93" height="42.64" fill="none" stroke="#88bdf0" stroke-width="0.9"/>
<rect x="601.87" y="379.98" width="18.93" height="25.92" fill="none" stroke="#88bdf0" stroke-width="0.9"/>
<rect x="620.80" y="394.45" width="18.93" height="11.45" fill="none" stroke="#88bdf0" stroke-width="0.9"/>
<rect x="639.73" y="401.13" width="18.93" height="4.77" fill="none" stroke="#88bdf0" stroke-width="0.9"/>
<path d="M507.20,405.47 L508.15,405.41 L509.09,405.34 L510.04,405.26 L510.99,405.17 L511.93,405.07 L512.88,404.96 L513.83,404.84 L514.77,404.70 L515.72,404.55 L516.67,404.38 L517.61,404.20 L518.56,403.99 L519.51,403.76 L520.45,403.51 L521.40,403.23 L522.35,402.93 L523.29,402.60 L524.24,402.24 L525.19,401.84 L526.13,401.41 L527.08,400.94 L528.03,400.44 L528.97,399.89 L529.92,399.30 L530.87,398.66 L531.81,397.97 L532.76,397.24 L533.71,396.45 L534.65,395.61 L535.60,394.71 L536.55,393.75 L537.49,392.74 L538.44,391.66 L539.39,390.52 L540.33,389.32 L541.28,388.06 L542.23,386.73 L543.17,385.34 L544.12,383.89 L545.07,382.37 L546.01,380.79 L546.96,379.15 L547.91,377.46 L548.85,375.70 L549.80,373.90 L550.75,372.04 L551.69,370.14 L552.64,368.19 L553.59,366.21 L554.53,364.19 L555.48,362.15 L556.43,360.08 L557.37,358.00 L558.32,355.91 L559.27,353.81 L560.21,351.72 L561.16,349.65 L562.11,347.59 L563.05,345.56 L564.00,343.57 L564.95,341.62 L565.89,339.72 L566.84,337.88 L567.79,336.11 L568.73,334.42 L569.68,332.81 L570.63,331.29 L571.57,329.87 L572.52,328.56 L573.47,327.35 L574.41,326.27 L575.36,325.30 L576.31,324.47 L577.25,323.76 L578.20,323.19 L579.15,322.76 L580.09,322.47 L581.04,322.32 L581.99,322.31 L582.93,322.45 L583.88,322.73 L584.83,323.15 L585.77,323.70 L586.72,324.39 L587.67,325.22 L588.61,326.17 L589.56,327.24 L590.51,328.44 L591.45,329.74 L592.40,331.15 L593.35,332.66 L594.29,334.26 L595.24,335.95 L596.19,337.71 L597.13,339.54 L598.08,341.43 L599.03,343.38 L599.97,345.37 L600.92,347.39 L601.87,349.45 L602.81,351.52 L603.76,353.61 L604.71,355.71 L605.65,357.80 L606.60,359.88 L607.55,361.95 L608.49,364.00 L609.44,366.02 L610.39,368.00 L611.33,369.95 L612.28,371.86 L613.23,373.72 L614.17,375.53 L615.12,377.29 L616.07,378.99 L617.01,380.64 L617.96,382.22 L618.91,383.74 L619.85,385.20 L620.80,386.60 L621.75,387.94 L622.69,389.20 L623.64,390.41 L624.59,391.55 L625.53,392.64 L626.48,393.66 L627.43,394.62 L628.37,395.52 L629.32,396.37 L630.27,397.16 L631.21,397.91 L632.16,398.60 L633.11,399.24 L634.05,399.84 L635.00,400.39 L635.95,400.90 L636.89,401.37 L637.84,401.80 L638.79,402.20 L639.73,402.57 L640.68,402.90 L641.63,403.21 L642.57,403.48 L643.52,403.74 L644.47,403.97 L645.41,404.18 L646.36,404.37 L647.31,404.54 L648.25,404.69 L649.20,404.83 L650.15,404.95 L651.09,405.06 L652.04,405.16 L652.99,405.25 L653.93,405.33 L654.88,405.40 L655.83,405.46 L656.77,405.52 L657.72,405.57 L658.67,405.61 L659.61,405.65 L660.56,405.68 L661.51,405.71 L662.45,405.74 L663.40,405.76 L664.35,405.78 L665.29,405.79 L666.24,405.81 L667.19,405.82 L668.13,405.83 L669.08,405.84 L670.03,405.85 L670.97,405.86 L671.92,405.86 L672.87,405.87 L673.81,405.87 L674.76,405.88 L675.71,405.88 L676.65,405.88 L677.60,405.89" fill="none" stroke="#88bdf0" stroke-width="0.9"/>
<rect x="507.20" y="301.40" width="170.40" height="104.50" fill="none" stroke="#222" stroke-width="0.9"/>
<line x1="504.60" y1="405.90" x2="507.20" y2="405.90" stroke="#222" stroke-width="0.7"/>
<text x="504.00" y="407.40" font-size="4.3" fill="#222" text-anchor="end">0</text>
<line x1="504.60" y1="385.00" x2="507.20" y2="385.00" stroke="#222" stroke-width="0.7"/>
<text x="504.00" y="386.50" font-size="4.3" fill="#222" text-anchor="end">25</text>
<line x1="504.60" y1="364.10" x2="507.20" y2="364.10" stroke="#222" stroke-width="0.7"/>
<text x="504.00" y="365.60" font-size="4.3" fill="#222" text-anchor="end">50</text>
<line x1="504.60" y1="343.20" x2="507.20" y2="343.20" stroke="#222" stroke-width="0.7"/>
<text x="504.00" y="344.70" font-size="4.3" fill="#222" text-anchor="end">75</text>
<line x1="504.60" y1="322.30" x2="507.20" y2="322.30" stroke="#222" stroke-width="0.7"/>
<text x="504.00" y="323.80" font-size="4.3" fill="#222" text-anchor="end">100</text>
<line x1="504.60" y1="301.40" x2="507.20" y2="301.40" stroke="#222" stroke-width="0.7"/>
<text x="504.00" y="302.90" font-size="4.3" fill="#222" text-anchor="end">125</text>
<line x1="507.20" y1="405.90" x2="507.20" y2="408.30" stroke="#222" stroke-width="0.7"/>
<text x="507.20" y="412.90" font-size="4.3" fill="#222" text-anchor="middle">-50</text>
<line x1="526.13" y1="405.90" x2="526.13" y2="408.30" stroke="#222" stroke-width="0.7"/>
<text x="526.13" y="412.90" font-size="4.3" fill="#222" text-anchor="middle">0</text>
<line x1="545.07" y1="405.90" x2="545.07" y2="408.30" stroke="#222" stroke-width="0.7"/>
<text x="545.07" y="412.90" font-size="4.3" fill="#222" text-anchor="middle">50</text>
<line x1="564.00" y1="405.90" x2="564.00" y2="408.30" stroke="#222" stroke-width="0.7"/>
<text x="564.00" y="412.90" font-size="4.3" fill="#222" text-anchor="middle">100</text>
<line x1="582.93" y1="405.90" x2="582.93" y2="408.30" stroke="#222" stroke-width="0.7"/>
<text x="582.93" y="412.90" font-size="4.3" fill="#222" text-anchor="middle">150</text>
<line x1="601.87" y1="405.90" x2="601.87" y2="408.30" stroke="#222" stroke-width="0.7"/>
<text x="601.87" y="412.90" font-size="4.3" fill="#222" text-anchor="middle">200</text>
<line x1="620.80" y1="405.90" x2="620.80" y2="408.30" stroke="#222" stroke-width="0.7"/>
<text x="620.80" y="412.90" font-size="4.3" fill="#222" text-anchor="middle">250</text>
<line x1="639.73" y1="405.90" x2="639.73" y2="408.30" stroke="#222" stroke-width="0.7"/>
<text x="639.73" y="412.90" font-size="4.3" fill="#222" text-anchor="middle">300</text>
<line x1="658.67" y1="405.90" x2="658.67" y2="408.30" stroke="#222" stroke-width="0.7"/>
<text x="658.67" y="412.90" font-size="4.3" fill="#222" text-anchor="middle">350</text>
<line x1="677.60" y1="405.90" x2="677.60" y2="408.30" stroke="#222" stroke-width="0.7"/>
<text x="677.60" y="412.90" font-size="4.3" fill="#222" text-anchor="middle">400</text>
<text x="592.40" y="420.60" font-size="5.6" fill="#111" text-anchor="middle">Diameter (μm)</text>
<text x="563.10" y="321.30" font-size="5.3" fill="#111" text-anchor="start">D=146.37±60.52</text>
<path d="M56.47,533.78 L63.73,524.85 L71.00,518.22 L78.26,511.86 L85.53,506.45 L92.79,501.37 L107.32,494.94 L121.85,486.96 L136.38,479.79 L150.91,475.12 L165.44,471.94 L179.97,471.94 L194.50,472.14" fill="none" stroke="#7cc87c" stroke-width="0.7"/>
<path d="M56.47,532.43V535.14M55.17,532.43h2.6M55.17,535.14h2.6M63.73,522.82V526.88M62.43,522.82h2.6M62.43,526.88h2.6M71.00,515.51V520.93M69.70,515.51h2.6M69.70,520.93h2.6M78.26,508.48V515.24M76.96,508.48h2.6M76.96,515.24h2.6M85.53,502.39V510.51M84.23,502.39h2.6M84.23,510.51h2.6M92.79,497.31V505.43M91.49,497.31h2.6M91.49,505.43h2.6M107.32,490.21V499.68M106.02,490.21h2.6M106.02,499.68h2.6M121.85,481.55V492.37M120.55,481.55h2.6M120.55,492.37h2.6M136.38,474.37V485.20M135.08,474.37h2.6M135.08,485.20h2.6M150.91,469.70V480.53M149.61,469.70h2.6M149.61,480.53h2.6M165.44,467.88V476.00M164.14,467.88h2.6M164.14,476.00h2.6M179.97,466.52V477.35M178.67,466.52h2.6M178.67,477.35h2.6M194.50,466.73V477.55M193.20,466.73h2.6M193.20,477.55h2.6" fill="none" stroke="#999" stroke-width="0.5"/>
<path d="M55.47,533.78a1.0,1.0 0 1 0 2.0,0a1.0,1.0 0 1 0 -2.0,0zM62.73,524.85a1.0,1.0 0 1 0 2.0,0a1.0,1.0 0 1 0 -2.0,0zM70.00,518.22a1.0,1.0 0 1 0 2.0,0a1.0,1.0 0 1 0 -2.0,0zM77.26,511.86a1.0,1.0 0 1 0 2.0,0a1.0,1.0 0 1 0 -2.0,0zM84.53,506.45a1.0,1.0 0 1 0 2.0,0a1.0,1.0 0 1 0 -2.0,0zM91.79,501.37a1.0,1.0 0 1 0 2.0,0a1.0,1.0 0 1 0 -2.0,0zM106.32,494.94a1.0,1.0 0 1 0 2.0,0a1.0,1.0 0 1 0 -2.0,0zM120.85,486.96a1.0,1.0 0 1 0 2.0,0a1.0,1.0 0 1 0 -2.0,0zM135.38,479.79a1.0,1.0 0 1 0 2.0,0a1.0,1.0 0 1 0 -2.0,0zM149.91,475.12a1.0,1.0 0 1 0 2.0,0a1.0,1.0 0 1 0 -2.0,0zM164.44,471.94a1.0,1.0 0 1 0 2.0,0a1.0,1.0 0 1 0 -2.0,0zM178.97,471.94a1.0,1.0 0 1 0 2.0,0a1.0,1.0 0 1 0 -2.0,0zM193.50,472.14a1.0,1.0 0 1 0 2.0,0a1.0,1.0 0 1 0 -2.0,0z" fill="#4cc84c"/>
<path d="M56.47,534.87 L63.73,526.88 L71.00,521.67 L78.26,516.73 L85.53,511.86 L92.79,506.78 L107.32,500.83 L121.85,495.15 L136.38,490.88 L150.91,486.82 L165.44,482.09 L179.97,481.41 L194.50,482.09" fill="none" stroke="#e86a5a" stroke-width="0.7"/>
<path d="M56.47,533.51V536.22M55.17,533.51h2.6M55.17,536.22h2.6M63.73,524.85V528.91M62.43,524.85h2.6M62.43,528.91h2.6M71.00,519.64V523.70M69.70,519.64h2.6M69.70,523.70h2.6M78.26,514.03V519.44M76.96,514.03h2.6M76.96,519.44h2.6M85.53,508.48V515.24M84.23,508.48h2.6M84.23,515.24h2.6M92.79,503.40V510.17M91.49,503.40h2.6M91.49,510.17h2.6M107.32,498.80V502.86M106.02,498.80h2.6M106.02,502.86h2.6M121.85,493.12V497.18M120.55,493.12h2.6M120.55,497.18h2.6M136.38,488.85V492.91M135.08,488.85h2.6M135.08,492.91h2.6M150.91,484.12V489.53M149.61,484.12h2.6M149.61,489.53h2.6M165.44,479.38V484.79M164.14,479.38h2.6M164.14,484.79h2.6M179.97,478.70V484.12M178.67,478.70h2.6M178.67,484.12h2.6M194.50,479.38V484.79M193.20,479.38h2.6M193.20,484.79h2.6" fill="none" stroke="#999" stroke-width="0.5"/>
<path d="M55.47,534.87a1.0,1.0 0 1 0 2.0,0a1.0,1.0 0 1 0 -2.0,0zM62.73,526.88a1.0,1.0 0 1 0 2.0,0a1.0,1.0 0 1 0 -2.0,0zM70.00,521.67a1.0,1.0 0 1 0 2.0,0a1.0,1.0 0 1 0 -2.0,0zM77.26,516.73a1.0,1.0 0 1 0 2.0,0a1.0,1.0 0 1 0 -2.0,0zM84.53,511.86a1.0,1.0 0 1 0 2.0,0a1.0,1.0 0 1 0 -2.0,0zM91.79,506.78a1.0,1.0 0 1 0 2.0,0a1.0,1.0 0 1 0 -2.0,0zM106.32,500.83a1.0,1.0 0 1 0 2.0,0a1.0,1.0 0 1 0 -2.0,0zM120.85,495.15a1.0,1.0 0 1 0 2.0,0a1.0,1.0 0 1 0 -2.0,0zM135.38,490.88a1.0,1.0 0 1 0 2.0,0a1.0,1.0 0 1 0 -2.0,0zM149.91,486.82a1.0,1.0 0 1 0 2.0,0a1.0,1.0 0 1 0 -2.0,0zM164.44,482.09a1.0,1.0 0 1 0 2.0,0a1.0,1.0 0 1 0 -2.0,0zM178.97,481.41a1.0,1.0 0 1 0 2.0,0a1.0,1.0 0 1 0 -2.0,0zM193.50,482.09a1.0,1.0 0 1 0 2.0,0a1.0,1.0 0 1 0 -2.0,0z" fill="#f02020"/>
<path d="M56.47,533.31 L63.73,525.60 L71.00,519.44 L78.26,515.24 L85.53,510.78 L92.79,506.51 L107.32,502.39 L121.85,498.33 L136.38,493.18 L150.91,490.21 L165.44,486.82 L179.97,486.82 L194.50,486.82" fill="none" stroke="#6a6ab8" stroke-width="0.7"/>
<path d="M56.47,531.96V534.66M55.17,531.96h2.6M55.17,534.66h2.6M63.73,523.57V527.63M62.43,523.57h2.6M62.43,527.63h2.6M71.00,517.41V521.47M69.70,517.41h2.6M69.70,521.47h2.6M78.26,512.54V517.95M76.96,512.54h2.6M76.96,517.95h2.6M85.53,507.39V514.16M84.23,507.39h2.6M84.23,514.16h2.6M92.79,502.45V510.57M91.49,502.45h2.6M91.49,510.57h2.6M107.32,498.33V506.45M106.02,498.33h2.6M106.02,506.45h2.6M121.85,494.27V502.39M120.55,494.27h2.6M120.55,502.39h2.6M136.38,489.12V497.24M135.08,489.12h2.6M135.08,497.24h2.6M150.91,486.82V493.59M149.61,486.82h2.6M149.61,493.59h2.6M165.44,483.44V490.21M164.14,483.44h2.6M164.14,490.21h2.6M179.97,482.76V490.88M178.67,482.76h2.6M178.67,490.88h2.6M194.50,482.76V490.88M193.20,482.76h2.6M193.20,490.88h2.6" fill="none" stroke="#999" stroke-width="0.5"/>
<path d="M55.47,533.31a1.0,1.0 0 1 0 2.0,0a1.0,1.0 0 1 0 -2.0,0zM62.73,525.60a1.0,1.0 0 1 0 2.0,0a1.0,1.0 0 1 0 -2.0,0zM70.00,519.44a1.0,1.0 0 1 0 2.0,0a1.0,1.0 0 1 0 -2.0,0zM77.26,515.24a1.0,1.0 0 1 0 2.0,0a1.0,1.0 0 1 0 -2.0,0zM84.53,510.78a1.0,1.0 0 1 0 2.0,0a1.0,1.0 0 1 0 -2.0,0zM91.79,506.51a1.0,1.0 0 1 0 2.0,0a1.0,1.0 0 1 0 -2.0,0zM106.32,502.39a1.0,1.0 0 1 0 2.0,0a1.0,1.0 0 1 0 -2.0,0zM120.85,498.33a1.0,1.0 0 1 0 2.0,0a1.0,1.0 0 1 0 -2.0,0zM135.38,493.18a1.0,1.0 0 1 0 2.0,0a1.0,1.0 0 1 0 -2.0,0zM149.91,490.21a1.0,1.0 0 1 0 2.0,0a1.0,1.0 0 1 0 -2.0,0zM164.44,486.82a1.0,1.0 0 1 0 2.0,0a1.0,1.0 0 1 0 -2.0,0zM178.97,486.82a1.0,1.0 0 1 0 2.0,0a1.0,1.0 0 1 0 -2.0,0zM193.50,486.82a1.0,1.0 0 1 0 2.0,0a1.0,1.0 0 1 0 -2.0,0z" fill="#2020f0"/>
<rect x="49.20" y="446.90" width="153.00" height="101.50" fill="none" stroke="#111" stroke-width="1.2"/>
<line x1="45.10" y1="548.40" x2="49.20" y2="548.40" stroke="#000" stroke-width="1.2"/>
<text x="43.60" y="551.10" font-size="7.6" fill="#000" font-weight="bold" text-anchor="end">0</text>
<line x1="45.10" y1="514.57" x2="49.20" y2="514.57" stroke="#000" stroke-width="1.2"/>
<text x="43.60" y="517.27" font-size="7.6" fill="#000" font-weight="bold" text-anchor="end">50</text>
<line x1="45.10" y1="480.73" x2="49.20" y2="480.73" stroke="#000" stroke-width="1.2"/>
<text x="43.60" y="483.43" font-size="7.6" fill="#000" font-weight="bold" text-anchor="end">100</text>
<line x1="45.10" y1="446.90" x2="49.20" y2="446.90" stroke="#000" stroke-width="1.2"/>
<text x="43.60" y="449.60" font-size="7.6" fill="#000" font-weight="bold" text-anchor="end">150</text>
<line x1="49.20" y1="548.40" x2="49.20" y2="552.40" stroke="#000" stroke-width="1.2"/>
<text x="49.20" y="561.40" font-size="7.6" fill="#000" font-weight="bold" text-anchor="middle">0</text>
<line x1="78.26" y1="548.40" x2="78.26" y2="552.40" stroke="#000" stroke-width="1.2"/>
<text x="78.26" y="561.40" font-size="7.6" fill="#000" font-weight="bold" text-anchor="middle">80</text>
<line x1="107.32" y1="548.40" x2="107.32" y2="552.40" stroke="#000" stroke-width="1.2"/>
<text x="107.32" y="561.40" font-size="7.6" fill="#000" font-weight="bold" text-anchor="middle">160</text>
<line x1="136.38" y1="548.40" x2="136.38" y2="552.40" stroke="#000" stroke-width="1.2"/>
<text x="136.38" y="561.40" font-size="7.6" fill="#000" font-weight="bold" text-anchor="middle">240</text>
<line x1="165.44" y1="548.40" x2="165.44" y2="552.40" stroke="#000" stroke-width="1.2"/>
<text x="165.44" y="561.40" font-size="7.6" fill="#000" font-weight="bold" text-anchor="middle">320</text>
<line x1="194.50" y1="548.40" x2="194.50" y2="552.40" stroke="#000" stroke-width="1.2"/>
<text x="194.50" y="561.40" font-size="7.6" fill="#000" font-weight="bold" text-anchor="middle">400</text>
<text x="126.50" y="573.40" font-size="8.3" fill="#000" font-weight="bold" text-anchor="middle">Time (min)</text>
<text x="26.60" y="496.90" font-size="8.55" fill="#000" font-weight="bold" text-anchor="middle" transform="rotate(-90 26.6 496.9)">Swelling ratio (%)</text>
<line x1="54.00" y1="453.20" x2="64.80" y2="453.20" stroke="#6a6ab8" stroke-width="0.6"/>
<circle cx="59.40" cy="453.2" r="1.1" fill="#2020f0"/>
<text x="70.30" y="455.00" font-size="5.2" fill="#7a7ab0" text-anchor="start">Matrix</text>
<line x1="107.00" y1="453.20" x2="117.80" y2="453.20" stroke="#e86a5a" stroke-width="0.6"/>
<circle cx="112.40" cy="453.2" r="1.1" fill="#f02020"/>
<text x="123.60" y="455.00" font-size="5.2" fill="#e8806a" text-anchor="start">ASFH-L</text>
<line x1="164.00" y1="453.20" x2="174.80" y2="453.20" stroke="#7cc87c" stroke-width="0.6"/>
<circle cx="169.40" cy="453.2" r="1.1" fill="#4cc84c"/>
<text x="180.70" y="455.00" font-size="5.2" fill="#80b880" text-anchor="start">ASFH-H</text>
<path d="M277.60,478.68 L312.54,499.15 L347.48,515.14 L382.42,530.07 L417.36,541.69 L452.30,546.05" fill="none" stroke="#7cc87c" stroke-width="0.9"/>
<path d="M277.60,473.40V483.96M276.30,473.40h2.6M276.30,483.96h2.6M312.54,489.91V508.40M311.24,489.91h2.6M311.24,508.40h2.6M347.48,506.55V523.73M346.18,506.55h2.6M346.18,523.73h2.6M382.42,524.78V535.35M381.12,524.78h2.6M381.12,535.35h2.6M417.36,539.71V543.67M416.06,539.71h2.6M416.06,543.67h2.6M452.30,543.41V548.69M451.00,543.41h2.6M451.00,548.69h2.6" fill="none" stroke="#999" stroke-width="0.5"/>
<path d="M276.30,478.68a1.3,1.3 0 1 0 2.6,0a1.3,1.3 0 1 0 -2.6,0zM311.24,499.15a1.3,1.3 0 1 0 2.6,0a1.3,1.3 0 1 0 -2.6,0zM346.18,515.14a1.3,1.3 0 1 0 2.6,0a1.3,1.3 0 1 0 -2.6,0zM381.12,530.07a1.3,1.3 0 1 0 2.6,0a1.3,1.3 0 1 0 -2.6,0zM416.06,541.69a1.3,1.3 0 1 0 2.6,0a1.3,1.3 0 1 0 -2.6,0zM451.00,546.05a1.3,1.3 0 1 0 2.6,0a1.3,1.3 0 1 0 -2.6,0z" fill="#4cc84c"/>
<path d="M277.60,481.59 L312.54,511.31 L347.48,523.20 L382.42,539.05 L417.36,548.03 L452.30,552.79" fill="none" stroke="#e86a5a" stroke-width="0.9"/>
<path d="M277.60,478.28V484.89M276.30,478.28h2.6M276.30,484.89h2.6M312.54,506.02V516.59M311.24,506.02h2.6M311.24,516.59h2.6M347.48,519.23V527.16M346.18,519.23h2.6M346.18,527.16h2.6M382.42,532.44V545.65M381.12,532.44h2.6M381.12,545.65h2.6M417.36,545.39V550.67M416.06,545.39h2.6M416.06,550.67h2.6M452.30,550.15V555.43M451.00,550.15h2.6M451.00,555.43h2.6" fill="none" stroke="#999" stroke-width="0.5"/>
<path d="M276.30,481.59a1.3,1.3 0 1 0 2.6,0a1.3,1.3 0 1 0 -2.6,0zM311.24,511.31a1.3,1.3 0 1 0 2.6,0a1.3,1.3 0 1 0 -2.6,0zM346.18,523.20a1.3,1.3 0 1 0 2.6,0a1.3,1.3 0 1 0 -2.6,0zM381.12,539.05a1.3,1.3 0 1 0 2.6,0a1.3,1.3 0 1 0 -2.6,0zM416.06,548.03a1.3,1.3 0 1 0 2.6,0a1.3,1.3 0 1 0 -2.6,0zM451.00,552.79a1.3,1.3 0 1 0 2.6,0a1.3,1.3 0 1 0 -2.6,0z" fill="#f02020"/>
<path d="M277.60,485.94 L312.54,522.80 L347.48,535.22 L382.42,549.62 L417.36,555.03 L452.30,558.60" fill="none" stroke="#8a8ab8" stroke-width="0.9"/>
<path d="M277.60,482.64V489.25M276.30,482.64h2.6M276.30,489.25h2.6M312.54,520.16V525.44M311.24,520.16h2.6M311.24,525.44h2.6M347.48,532.58V537.86M346.18,532.58h2.6M346.18,537.86h2.6M382.42,544.99V554.24M381.12,544.99h2.6M381.12,554.24h2.6M417.36,551.73V558.34M416.06,551.73h2.6M416.06,558.34h2.6M452.30,555.30V561.90M451.00,555.30h2.6M451.00,561.90h2.6" fill="none" stroke="#999" stroke-width="0.5"/>
<path d="M276.30,485.94a1.3,1.3 0 1 0 2.6,0a1.3,1.3 0 1 0 -2.6,0zM311.24,522.80a1.3,1.3 0 1 0 2.6,0a1.3,1.3 0 1 0 -2.6,0zM346.18,535.22a1.3,1.3 0 1 0 2.6,0a1.3,1.3 0 1 0 -2.6,0zM381.12,549.62a1.3,1.3 0 1 0 2.6,0a1.3,1.3 0 1 0 -2.6,0zM416.06,555.03a1.3,1.3 0 1 0 2.6,0a1.3,1.3 0 1 0 -2.6,0zM451.00,558.60a1.3,1.3 0 1 0 2.6,0a1.3,1.3 0 1 0 -2.6,0z" fill="#2020f0"/>
<rect x="266.00" y="447.90" width="198.20" height="132.10" fill="none" stroke="#111" stroke-width="1.2"/>
<line x1="261.00" y1="580.00" x2="266.00" y2="580.00" stroke="#000" stroke-width="1.3"/>
<text x="258.90" y="583.30" font-size="9.3" fill="#000" font-weight="bold" text-anchor="end">0</text>
<line x1="261.00" y1="553.58" x2="266.00" y2="553.58" stroke="#000" stroke-width="1.3"/>
<text x="258.90" y="556.88" font-size="9.3" fill="#000" font-weight="bold" text-anchor="end">20</text>
<line x1="261.00" y1="527.16" x2="266.00" y2="527.16" stroke="#000" stroke-width="1.3"/>
<text x="258.90" y="530.46" font-size="9.3" fill="#000" font-weight="bold" text-anchor="end">40</text>
<line x1="261.00" y1="500.74" x2="266.00" y2="500.74" stroke="#000" stroke-width="1.3"/>
<text x="258.90" y="504.04" font-size="9.3" fill="#000" font-weight="bold" text-anchor="end">60</text>
<line x1="261.00" y1="474.32" x2="266.00" y2="474.32" stroke="#000" stroke-width="1.3"/>
<text x="258.90" y="477.62" font-size="9.3" fill="#000" font-weight="bold" text-anchor="end">80</text>
<line x1="261.00" y1="447.90" x2="266.00" y2="447.90" stroke="#000" stroke-width="1.3"/>
<text x="258.90" y="451.20" font-size="9.3" fill="#000" font-weight="bold" text-anchor="end">100</text>
<line x1="277.60" y1="580.00" x2="277.60" y2="585.50" stroke="#000" stroke-width="1.3"/>
<text x="277.60" y="596.80" font-size="9.3" fill="#000" font-weight="bold" text-anchor="middle">6</text>
<line x1="312.54" y1="580.00" x2="312.54" y2="585.50" stroke="#000" stroke-width="1.3"/>
<text x="312.54" y="596.80" font-size="9.3" fill="#000" font-weight="bold" text-anchor="middle">12</text>
<line x1="347.48" y1="580.00" x2="347.48" y2="585.50" stroke="#000" stroke-width="1.3"/>
<text x="347.48" y="596.80" font-size="9.3" fill="#000" font-weight="bold" text-anchor="middle">18</text>
<line x1="382.42" y1="580.00" x2="382.42" y2="585.50" stroke="#000" stroke-width="1.3"/>
<text x="382.42" y="596.80" font-size="9.3" fill="#000" font-weight="bold" text-anchor="middle">24</text>
<line x1="417.36" y1="580.00" x2="417.36" y2="585.50" stroke="#000" stroke-width="1.3"/>
<text x="417.36" y="596.80" font-size="9.3" fill="#000" font-weight="bold" text-anchor="middle">30</text>
<line x1="452.30" y1="580.00" x2="452.30" y2="585.50" stroke="#000" stroke-width="1.3"/>
<text x="452.30" y="596.80" font-size="9.3" fill="#000" font-weight="bold" text-anchor="middle">36</text>
<text x="365.30" y="612.80" font-size="10.7" fill="#000" font-weight="bold" text-anchor="middle">Time (hours)</text>
<text x="237.50" y="516.80" font-size="10.3" fill="#000" font-weight="bold" text-anchor="middle" transform="rotate(-90 237.5 516.8)">Remaining weight (%)</text>
<line x1="272.50" y1="455.40" x2="285.30" y2="455.40" stroke="#8a8ab8" stroke-width="0.7"/>
<circle cx="278.90" cy="455.4" r="1.5" fill="#2020f0"/>
<text x="294.30" y="458.00" font-size="7.0" fill="#8888aa" text-anchor="start">Matrix</text>
<line x1="340.90" y1="455.40" x2="353.70" y2="455.40" stroke="#e86a5a" stroke-width="0.7"/>
<circle cx="347.30" cy="455.4" r="1.5" fill="#f02020"/>
<text x="362.40" y="458.00" font-size="7.0" fill="#e8806a" text-anchor="start">ASFH-L</text>
<line x1="414.70" y1="455.40" x2="427.50" y2="455.40" stroke="#7cc87c" stroke-width="0.7"/>
<circle cx="421.10" cy="455.4" r="1.5" fill="#4cc84c"/>
<text x="436.30" y="458.00" font-size="7.0" fill="#80b880" text-anchor="start">ASFH-H</text>
<path d="M47.54,667.57 L52.78,634.16 L63.26,617.56 L73.74,609.26 L84.22,603.94 L94.70,602.67 L105.18,599.90 L115.66,598.62 L126.14,597.35 L136.62,594.16 L147.10,589.05 L157.58,583.52 L168.06,582.03" fill="none" stroke="#f27a3a" stroke-width="1.2"/>
<path d="M47.54,663.32V671.83M46.24,663.32h2.6M46.24,671.83h2.6M52.78,632.03V636.29M51.48,632.03h2.6M51.48,636.29h2.6M63.26,614.37V620.76M61.96,614.37h2.6M61.96,620.76h2.6M73.74,607.14V611.39M72.44,607.14h2.6M72.44,611.39h2.6M84.22,602.24V605.65M82.92,602.24h2.6M82.92,605.65h2.6M94.70,601.60V603.73M93.40,601.60h2.6M93.40,603.73h2.6M105.18,598.84V600.96M103.88,598.84h2.6M103.88,600.96h2.6M115.66,597.56V599.69M114.36,597.56h2.6M114.36,599.69h2.6M126.14,596.07V598.62M124.84,596.07h2.6M124.84,598.62h2.6M136.62,592.03V596.28M135.32,592.03h2.6M135.32,596.28h2.6M147.10,587.35V590.75M145.80,587.35h2.6M145.80,590.75h2.6M157.58,582.88V584.15M156.28,582.88h2.6M156.28,584.15h2.6M168.06,581.39V582.66M166.76,581.39h2.6M166.76,582.66h2.6" fill="none" stroke="#666" stroke-width="0.5"/>
<path d="M47.54,666.51 L52.78,633.31 L63.26,613.09 L73.74,603.94 L84.22,598.62 L94.70,592.67 L105.18,590.11 L115.66,587.56 L126.14,586.07 L136.62,584.58 L147.10,583.73 L157.58,582.88 L168.06,582.03" fill="none" stroke="#c44af0" stroke-width="1.2"/>
<path d="M47.54,658.00V675.02M46.24,658.00h2.6M46.24,675.02h2.6M52.78,631.18V635.44M51.48,631.18h2.6M51.48,635.44h2.6M63.26,608.84V617.35M61.96,608.84h2.6M61.96,617.35h2.6M73.74,600.75V607.14M72.44,600.75h2.6M72.44,607.14h2.6M84.22,595.43V601.82M82.92,595.43h2.6M82.92,601.82h2.6M94.70,590.96V594.37M93.40,590.96h2.6M93.40,594.37h2.6M105.18,588.84V591.39M103.88,588.84h2.6M103.88,591.39h2.6M115.66,586.49V588.62M114.36,586.49h2.6M114.36,588.62h2.6M126.14,584.79V587.35M124.84,584.79h2.6M124.84,587.35h2.6M136.62,583.52V585.64M135.32,583.52h2.6M135.32,585.64h2.6M147.10,582.66V584.79M145.80,582.66h2.6M145.80,584.79h2.6M157.58,582.24V583.52M156.28,582.24h2.6M156.28,583.52h2.6M168.06,581.39V582.66M166.76,581.39h2.6M166.76,582.66h2.6" fill="none" stroke="#666" stroke-width="0.5"/>
<rect x="42.30" y="581.60" width="157.20" height="106.40" fill="none" stroke="#111" stroke-width="1.0"/>
<line x1="40.10" y1="688.00" x2="42.30" y2="688.00" stroke="#000" stroke-width="1.0"/>
<text x="39.30" y="690.20" font-size="6.0" fill="#000" font-weight="bold" text-anchor="end">50</text>
<line x1="40.10" y1="666.72" x2="42.30" y2="666.72" stroke="#000" stroke-width="1.0"/>
<text x="39.30" y="668.92" font-size="6.0" fill="#000" font-weight="bold" text-anchor="end">60</text>
<line x1="40.10" y1="645.44" x2="42.30" y2="645.44" stroke="#000" stroke-width="1.0"/>
<text x="39.30" y="647.64" font-size="6.0" fill="#000" font-weight="bold" text-anchor="end">70</text>
<line x1="40.10" y1="624.16" x2="42.30" y2="624.16" stroke="#000" stroke-width="1.0"/>
<text x="39.30" y="626.36" font-size="6.0" fill="#000" font-weight="bold" text-anchor="end">80</text>
<line x1="40.10" y1="602.88" x2="42.30" y2="602.88" stroke="#000" stroke-width="1.0"/>
<text x="39.30" y="605.08" font-size="6.0" fill="#000" font-weight="bold" text-anchor="end">90</text>
<line x1="40.10" y1="581.60" x2="42.30" y2="581.60" stroke="#000" stroke-width="1.0"/>
<text x="39.30" y="583.80" font-size="6.0" fill="#000" font-weight="bold" text-anchor="end">100</text>
<line x1="42.30" y1="688.00" x2="42.30" y2="690.20" stroke="#000" stroke-width="1.0"/>
<text x="42.30" y="697.50" font-size="6.0" fill="#000" font-weight="bold" text-anchor="middle">0</text>
<line x1="94.70" y1="688.00" x2="94.70" y2="690.20" stroke="#000" stroke-width="1.0"/>
<text x="94.70" y="697.50" font-size="6.0" fill="#000" font-weight="bold" text-anchor="middle">5</text>
<line x1="147.10" y1="688.00" x2="147.10" y2="690.20" stroke="#000" stroke-width="1.0"/>
<text x="147.10" y="697.50" font-size="6.0" fill="#000" font-weight="bold" text-anchor="middle">10</text>
<line x1="199.50" y1="688.00" x2="199.50" y2="690.20" stroke="#000" stroke-width="1.0"/>
<text x="199.50" y="697.50" font-size="6.0" fill="#000" font-weight="bold" text-anchor="middle">15</text>
<text x="121.30" y="708.00" font-size="6.3" fill="#000" font-weight="bold" text-anchor="middle">Time (h)</text>
<text x="25.10" y="641.00" font-size="5.6" fill="#000" font-weight="bold" text-anchor="middle" transform="rotate(-90 25.1 641.0)">Cumulative release (%)</text>
<line x1="158.70" y1="632.80" x2="168.00" y2="632.80" stroke="#c44af0" stroke-width="1.0"/>
<text x="171.90" y="635.20" font-size="6.6" fill="#222" text-anchor="start">ASFH-L</text>
<line x1="158.70" y1="643.80" x2="168.00" y2="643.80" stroke="#f27a3a" stroke-width="1.0"/>
<text x="171.90" y="646.20" font-size="6.6" fill="#222" text-anchor="start">ASFH-H</text>
<path d="M53.55,788.81 L64.53,789.75 L75.04,789.75 L86.72,790.22 L98.40,790.22 L110.08,790.22 L120.59,789.28 L129.93,786.95 L136.94,779.24 L147.45,764.05 L165.44,745.37 L177.12,743.50 L192.53,792.08" fill="none" stroke="#62b0f2" stroke-width="1.25"/>
<path d="M53.55,797.22 L64.53,799.09 L75.04,799.09 L86.72,800.26 L98.40,800.96 L110.08,800.96 L120.59,801.43 L129.93,799.09 L136.94,790.22 L147.45,774.57 L165.44,754.71 L177.12,752.84 L192.53,803.76" fill="none" stroke="#f23a32" stroke-width="1.25"/>
<path d="M53.55,806.10 L64.53,806.10 L75.04,807.27 L86.72,807.27 L98.40,806.57 L110.08,807.27 L120.59,807.27 L129.93,804.93 L136.94,792.08 L147.45,781.57 L165.44,761.25 L177.12,758.21 L192.53,809.60" fill="none" stroke="#c448ee" stroke-width="1.25"/>
<rect x="48.60" y="724.40" width="143.90" height="96.10" fill="none" stroke="#111" stroke-width="1.2"/>
<line x1="44.60" y1="820.50" x2="48.60" y2="820.50" stroke="#000" stroke-width="1.2"/>
<text x="43.60" y="823.30" font-size="7.6" fill="#000" font-weight="bold" text-anchor="end">150</text>
<line x1="44.60" y1="796.48" x2="48.60" y2="796.48" stroke="#000" stroke-width="1.2"/>
<text x="43.60" y="799.27" font-size="7.6" fill="#000" font-weight="bold" text-anchor="end">200</text>
<line x1="44.60" y1="772.45" x2="48.60" y2="772.45" stroke="#000" stroke-width="1.2"/>
<text x="43.60" y="775.25" font-size="7.6" fill="#000" font-weight="bold" text-anchor="end">250</text>
<line x1="44.60" y1="748.42" x2="48.60" y2="748.42" stroke="#000" stroke-width="1.2"/>
<text x="43.60" y="751.22" font-size="7.6" fill="#000" font-weight="bold" text-anchor="end">300</text>
<line x1="44.60" y1="724.40" x2="48.60" y2="724.40" stroke="#000" stroke-width="1.2"/>
<text x="43.60" y="727.20" font-size="7.6" fill="#000" font-weight="bold" text-anchor="end">350</text>
<line x1="48.60" y1="820.50" x2="48.60" y2="824.50" stroke="#000" stroke-width="1.2"/>
<text x="48.60" y="833.10" font-size="7.2" font-weight="bold" text-anchor="middle">1×10<tspan font-size="4.6" dy="-2.9">1</tspan></text>
<line x1="120.60" y1="820.50" x2="120.60" y2="824.50" stroke="#000" stroke-width="1.2"/>
<text x="120.60" y="833.10" font-size="7.2" font-weight="bold" text-anchor="middle">1×10<tspan font-size="4.6" dy="-2.9">2</tspan></text>
<line x1="192.50" y1="820.50" x2="192.50" y2="824.50" stroke="#000" stroke-width="1.2"/>
<text x="192.50" y="833.10" font-size="7.2" font-weight="bold" text-anchor="middle">1×10<tspan font-size="4.6" dy="-2.9">3</tspan></text>
<text x="120.00" y="846.00" font-size="8.2" fill="#000" font-weight="bold" text-anchor="middle">γ / %</text>
<text x="25.60" y="773.00" font-size="7.1" fill="#000" font-weight="bold" text-anchor="middle" transform="rotate(-90 25.6 773.0)">G' / Pa</text>
<text x="115.50" y="720.20" font-size="8.2" fill="#111" text-anchor="middle">ASFH-L</text>
<line x1="55.20" y1="732.50" x2="65.70" y2="732.50" stroke="#62b0f2" stroke-width="1.0"/>
<text x="71.00" y="735.40" font-size="8.0" fill="#111" text-anchor="start">1</text>
<line x1="55.20" y1="745.40" x2="65.70" y2="745.40" stroke="#f23a32" stroke-width="1.0"/>
<text x="71.00" y="748.30" font-size="8.0" fill="#111" text-anchor="start">2</text>
<line x1="55.20" y1="758.20" x2="65.70" y2="758.20" stroke="#c448ee" stroke-width="1.0"/>
<text x="71.00" y="761.10" font-size="8.0" fill="#111" text-anchor="start">3</text>
<clipPath id="h1"><rect x="489.2" y="442.2" width="192.0" height="108.5"/></clipPath>
<rect x="489.2" y="442.2" width="192.0" height="108.5" fill="#000"/>
<g clip-path="url(#h1)">
<circle cx="585.7" cy="496.3" r="53.7" fill="#121212" stroke="#55604c" stroke-width="1.1"/>
<circle cx="585.7" cy="496.3" r="51.900000000000006" fill="none" stroke="#0e0e0e" stroke-width="1.6"/>
<circle cx="585.7" cy="496.3" r="49.7" fill="none" stroke="#3c3c3c" stroke-width="2.6"/>
<circle cx="585.7" cy="496.3" r="47.7" fill="none" stroke="#202020" stroke-width="1.2"/>
<ellipse cx="585.7" cy="477.5" rx="24.2" ry="20.4" fill="#08080c" opacity="0.7"/>
<path d="M553.5,523.1 A43.0,43.0 0 0 0 617.9,523.1" fill="none" stroke="#262626" stroke-width="2"/>
<path d="M552.9,489.7 L575.0,489.0 L600.0,490.0 L618.5,490.6 L622.8,505.0 L611.3,512.3 L590.0,510.5 L556.4,509.4 L547.1,502.1 L550.0,496.0Z" fill="#e4dad6"/>
<path d="M552.9,489.7 L575.0,489.0 L600.0,490.0 L618.5,490.6 L616.0,497.0 L595.0,500.0 L570.0,501.0 L551.0,499.0Z" fill="#cfb2aa"/>
<ellipse cx="581.8" cy="497.8" rx="10.4" ry="5.3" fill="#8a8482" stroke="#e8261c" stroke-width="0.9"/>
<circle cx="567" cy="509" r="0.9" fill="#d03020"/>
</g>
<text x="634.40" y="533.60" font-size="11.3" font-weight="bold" fill="#fff" text-anchor="middle">Before</text>
<clipPath id="h2l"><rect x="489.0" y="556.3" width="93.7" height="93.5"/></clipPath>
<rect x="489.0" y="556.3" width="93.7" height="93.5" fill="#000"/>
<g clip-path="url(#h2l)">
<circle cx="536.3" cy="602.9" r="45.8" fill="#121212" stroke="#6f8f62" stroke-width="1.1"/>
<circle cx="536.3" cy="602.9" r="44.0" fill="none" stroke="#0e0e0e" stroke-width="1.6"/>
<circle cx="536.3" cy="602.9" r="41.8" fill="none" stroke="#3c3c3c" stroke-width="2.6"/>
<circle cx="536.3" cy="602.9" r="39.8" fill="none" stroke="#202020" stroke-width="1.2"/>
<ellipse cx="536.3" cy="586.9" rx="20.6" ry="17.4" fill="#08080c" opacity="0.7"/>
<path d="M508.8,625.8 A36.6,36.6 0 0 0 563.8,625.8" fill="none" stroke="#262626" stroke-width="2"/>
<path d="M507,598.6 Q537,596.5 566.5,598.3 Q569,603 566.5,608 Q537,609.5 506,608.3 Q503.5,603.5 507,598.6Z" fill="#e1c9c0"/>
<ellipse cx="534" cy="602.8" rx="9.2" ry="4.6" fill="#b08f88" stroke="#e8261c" stroke-width="0.9"/>
</g>
<text x="535.80" y="639.20" font-size="11.3" font-weight="bold" fill="#fff" text-anchor="middle">After</text>
<clipPath id="h2r"><rect x="587.6" y="556.3" width="93.8" height="93.5"/></clipPath>
<rect x="587.6" y="556.3" width="93.8" height="93.5" fill="#000"/>
<g clip-path="url(#h2r)">
<path d="M627,566 Q640,556 654,566 Q657,575 648,580 Q642,600 637,622 Q634,600 630,582 Q624,575 627,566Z" fill="#a98470"/>
<path d="M627.5,572 Q627,562 640,560 Q655,560 656,572" fill="none" stroke="#e8261c" stroke-width="0.9"/>
<path d="M590.5,646.5 Q596,622 612,595 Q620,583 627,580.7 Q633,582 635,592 Q634,610 637,622 Q641,608 645,592 Q648,589 651,591 Q662,605 669,630 L673,646.5Z" fill="#336fbd"/>
<path d="M593,644 Q600,620 614,597 Q621,586 627,583 Q624,600 615,620 Q605,640 600,646Z" fill="#5a9ad6" opacity="0.6"/>
</g>
<text x="634.30" y="631.60" font-size="11.1" font-weight="bold" fill="#fff" text-anchor="middle">Bend</text>
<clipPath id="h3l"><rect x="489.0" y="654.4" width="93.8" height="93.5"/></clipPath>
<rect x="489.0" y="654.4" width="93.8" height="93.5" fill="#000"/>
<g clip-path="url(#h3l)">
<path d="M490,691 Q530,689 566,694 L567,703 Q530,708 490,705Z" fill="#d9bfb2"/>
<path d="M500,690 L506,705" stroke="#b89a8c" stroke-width="1.2"/>
<path d="M512,690 L518,705" stroke="#b89a8c" stroke-width="1.2"/>
<path d="M524,690 L530,705" stroke="#b89a8c" stroke-width="1.2"/>
<path d="M548,690 L554,705" stroke="#b89a8c" stroke-width="1.2"/>
<path d="M560,690 L566,705" stroke="#b89a8c" stroke-width="1.2"/>
<path d="M527,691 Q540,688 549,693 Q552,700 548,705 Q536,707 528,702 Q524,696 527,691Z" fill="#caa49a" stroke="#e8261c" stroke-width="0.9"/>
<path d="M489,672 Q500,671 508,678 Q515,684 515,690 Q512,695 507,697 Q512,702 509,708 Q503,714 495,716 L489,716Z" fill="#5a9ad6"/>
<ellipse cx="500" cy="680" rx="10" ry="5" fill="#4690d2"/>
<path d="M490,703 Q498,701 506,705" fill="none" stroke="#3a7cc0" stroke-width="0.8"/>
<path d="M583,683 Q572,684 566,689 Q561,694 563,699 Q559,705 562,712 Q567,719 576,721 L583,723Z" fill="#5a9ad6"/>
<ellipse cx="574" cy="689" rx="9" ry="4.5" fill="#4690d2"/>
</g>
<text x="535.90" y="680.00" font-size="11.7" font-weight="bold" fill="#fff" text-anchor="middle">Distort</text>
<clipPath id="h3r"><rect x="587.4" y="654.4" width="93.9" height="93.5"/></clipPath>
<rect x="587.4" y="654.4" width="93.9" height="93.5" fill="#000"/>
<g clip-path="url(#h3r)">
<path d="M600,700 Q640,703 678,712 L677,721 Q640,717 601,712Z" fill="#d9bfb2"/>
<path d="M610,701 L616,716" stroke="#b89a8c" stroke-width="1.2"/>
<path d="M622,701 L628,716" stroke="#b89a8c" stroke-width="1.2"/>
<path d="M648,701 L654,716" stroke="#b89a8c" stroke-width="1.2"/>
<path d="M660,701 L666,716" stroke="#b89a8c" stroke-width="1.2"/>
<path d="M670,701 L676,716" stroke="#b89a8c" stroke-width="1.2"/>
<path d="M620,702 Q632,699 642,706 Q644,713 639,717 Q627,717 620,711 Q617,706 620,702Z" fill="#caa49a" stroke="#e8261c" stroke-width="0.9"/>
<path d="M587.4,687 Q596,686 601,691 Q606,697 604,703 Q607,709 604,716 Q601,723 594,726 L587.4,727Z" fill="#5a9ad6"/>
<ellipse cx="596" cy="693" rx="9" ry="5" fill="#4690d2"/>
<path d="M588,715 Q596,714 600,720" fill="none" stroke="#3a7cc0" stroke-width="0.8"/>
<path d="M681.3,691 Q672,692 666,697 Q660,700 661,705 Q653,708 651,716 Q652,724 662,727 Q672,730 681.3,730Z" fill="#5a9ad6"/>
<ellipse cx="670" cy="698" rx="9" ry="5" fill="#4690d2"/>
<path d="M660,718 Q670,716 680,720" fill="none" stroke="#3a7cc0" stroke-width="0.8"/>
</g>
<text x="634.40" y="731.40" font-size="11.7" font-weight="bold" fill="#fff" text-anchor="middle">Distort</text>
<clipPath id="h4l"><rect x="489.0" y="753.2" width="93.8" height="93.5"/></clipPath>
<rect x="489.0" y="753.2" width="93.8" height="93.5" fill="#000"/>
<g clip-path="url(#h4l)">
<path d="M496.2,753.2 L582.8,753.2 L582.8,794 Q576,796 570.7,799.6 Q565,806 559,811.3 Q551,818 544.4,818.6 Q539,812 534.2,804 Q531,797 529.8,795.3 Q524,800 516.7,805.5 Q510,792 507.9,779.2 Z" fill="#3f86c9"/>
<path d="M496.2,753.2 L524,753.2 Q524,780 522,800 Q518,803 516.7,805.5 Q510,792 507.9,779.2Z" fill="#5a9ad6" opacity="0.8"/>
<path d="M524,766 Q527,762 531,764 L532,800 L525,803Z" fill="#d9bfb2"/>
<path d="M519,810 Q513,826 519,837 Q531,846 545,839 Q550,828 546,816 Q539,806 531,805 Q523,805 519,810Z" fill="#c0978a"/>
<path d="M514.5,824 Q515,840 531,842.5 Q546,842 548,828 Q547,822 544,820" fill="none" stroke="#e8261c" stroke-width="0.9"/>
</g>
<text x="535.40" y="779.00" font-size="11.1" font-weight="bold" fill="#fff" text-anchor="middle">Bend</text>
<clipPath id="h4r"><rect x="587.6" y="753.2" width="93.7" height="93.5"/></clipPath>
<rect x="587.6" y="753.2" width="93.7" height="93.5" fill="#d6d6d2"/>
<g clip-path="url(#h4r)">
<rect x="587.6" y="812" width="93.7" height="12" fill="#cfd0ce"/>
<rect x="587.6" y="823.5" width="93.7" height="24" fill="#8a8a88"/>
<path d="M598,832 Q640,829 676,834" fill="none" stroke="#1d1d1d" stroke-width="5"/>
<rect x="587.6" y="836" width="12" height="11" fill="#d88080"/>
<path d="M597,772 Q640,768 680,773" fill="none" stroke="#f0f0f0" stroke-width="1.2"/>
<path d="M597.5,772 L599,847 M679,773 L677,847" fill="none" stroke="#b0b0b0" stroke-width="1"/>
<path d="M599,812 Q640,810 678,813" fill="none" stroke="#a8a8a8" stroke-width="0.8"/>
<path d="M631,780 Q638,778 641,790 Q646,808 651,828 Q650,838 638,839 Q624,838 623,828 Q626,810 629,795Z" fill="#e8b8a6"/>
<path d="M622.3,828 Q625,839 637,839.5 Q650,839 652,828" fill="none" stroke="#e8261c" stroke-width="0.9"/>
<path d="M587.6,753.2 L659.2,753.2 Q660,775 658,788 Q650,799 641,798.7 Q637,790 637,780 L633,781 Q631,795 628.2,800.1 Q620,790 612,780 Q598,770 590,763 L587.6,762Z" fill="#3f86c9"/>
</g>
<text x="634.30" y="768.20" font-size="10.3" font-weight="bold" fill="#fff" text-anchor="middle">30 s</text>
<text x="634.10" y="823.00" font-size="11.1" font-weight="bold" fill="#fff" text-anchor="middle">Underwater</text>
<path d="M631.60,537.60 L631.60,548.60 L628.50,548.60 L634.60,555.10 L640.70,548.60 L637.60,548.60 L637.60,537.60Z" fill="#f6200f"/>
<path d="M538.70,667.40 L538.70,656.40 L541.80,656.40 L535.70,649.90 L529.60,656.40 L532.70,656.40 L532.70,667.40Z" fill="#f6200f"/>
<path d="M631.60,636.60 L631.60,647.60 L628.50,647.60 L634.60,654.10 L640.70,647.60 L637.60,647.60 L637.60,636.60Z" fill="#f6200f"/>
<path d="M631.60,736.40 L631.60,747.40 L628.50,747.40 L634.60,753.90 L640.70,747.40 L637.60,747.40 L637.60,736.40Z" fill="#f6200f"/>
<path d="M538.70,766.00 L538.70,755.00 L541.80,755.00 L535.70,748.50 L529.60,755.00 L532.70,755.00 L532.70,766.00Z" fill="#f6200f"/>
<path d="M600.30,797.50 L588.60,797.50 L588.60,794.55 L582.60,800.80 L588.60,807.05 L588.60,804.10 L600.30,804.10Z" fill="#f6200f"/>
<clipPath id="k1"><rect x="229.4" y="645.5" width="122.6" height="93.0"/></clipPath>
<rect x="229.4" y="645.5" width="122.6" height="93.0" fill="#000"/>
<g clip-path="url(#k1)">
<path d="M272.4,657.2 L271.5,733 Q248,733 236,715 Q228,696 234,678 Q243,660 265,656.5Z" fill="#2a3b8c"/>
<path d="M306.5,662 Q325,660 339,672 Q352,690 349,710 Q343,730 320,736.7 Q310,737 308,734 Q304,700 306.5,662Z" fill="#a33468"/>
</g>
<path d="M324.3,730.7a0.9,0.9 0 1 0 1.8,0a0.9,0.9 0 1 0 -1.8,0zM317.9,729.2a0.9,0.9 0 1 0 1.8,0a0.9,0.9 0 1 0 -1.8,0zM235.5,694.9a0.9,0.9 0 1 0 1.8,0a0.9,0.9 0 1 0 -1.8,0zM341.5,708.7a0.9,0.9 0 1 0 1.8,0a0.9,0.9 0 1 0 -1.8,0zM264.5,728.7a0.9,0.9 0 1 0 1.8,0a0.9,0.9 0 1 0 -1.8,0zM320.9,672.0a0.9,0.9 0 1 0 1.8,0a0.9,0.9 0 1 0 -1.8,0zM324.6,670.4a0.9,0.9 0 1 0 1.8,0a0.9,0.9 0 1 0 -1.8,0zM256.4,676.2a0.9,0.9 0 1 0 1.8,0a0.9,0.9 0 1 0 -1.8,0zM265.7,732.1a0.9,0.9 0 1 0 1.8,0a0.9,0.9 0 1 0 -1.8,0zM312.2,732.5a0.9,0.9 0 1 0 1.8,0a0.9,0.9 0 1 0 -1.8,0zM335.8,682.4a0.9,0.9 0 1 0 1.8,0a0.9,0.9 0 1 0 -1.8,0zM249.0,664.9a0.9,0.9 0 1 0 1.8,0a0.9,0.9 0 1 0 -1.8,0zM267.1,705.2a0.9,0.9 0 1 0 1.8,0a0.9,0.9 0 1 0 -1.8,0zM327.0,696.1a0.9,0.9 0 1 0 1.8,0a0.9,0.9 0 1 0 -1.8,0zM268.7,696.1a0.9,0.9 0 1 0 1.8,0a0.9,0.9 0 1 0 -1.8,0zM313.8,664.3a0.9,0.9 0 1 0 1.8,0a0.9,0.9 0 1 0 -1.8,0zM319.1,723.4a0.9,0.9 0 1 0 1.8,0a0.9,0.9 0 1 0 -1.8,0zM254.9,716.7a0.9,0.9 0 1 0 1.8,0a0.9,0.9 0 1 0 -1.8,0zM244.6,716.1a0.9,0.9 0 1 0 1.8,0a0.9,0.9 0 1 0 -1.8,0z" fill="none" stroke="#c8c8e8" stroke-width="0.4" opacity="0.5"/>
<text x="289.80" y="657.60" font-size="10.0" font-weight="bold" fill="#fff" text-anchor="middle">Cut</text>
<clipPath id="k2"><rect x="359.0" y="645.5" width="109.8" height="93.0"/></clipPath>
<rect x="359.0" y="645.5" width="109.8" height="93.0" fill="#000"/>
<g clip-path="url(#k2)">
<ellipse cx="415.2" cy="697.8" rx="40.6" ry="37.8" fill="#a33468"/>
<path d="M412.5,660 Q448,661 455.5,690 Q458,720 430,734 Q420,736.5 414,735.5 Q416,716 412,700 Q409,680 412.5,660Z" fill="#2a3b8c"/>
</g>
<path d="M438.1,723.9a0.9,0.9 0 1 0 1.8,0a0.9,0.9 0 1 0 -1.8,0zM382.3,686.5a0.9,0.9 0 1 0 1.8,0a0.9,0.9 0 1 0 -1.8,0zM423.4,728.1a0.9,0.9 0 1 0 1.8,0a0.9,0.9 0 1 0 -1.8,0zM402.0,728.5a0.9,0.9 0 1 0 1.8,0a0.9,0.9 0 1 0 -1.8,0zM418.2,684.5a0.9,0.9 0 1 0 1.8,0a0.9,0.9 0 1 0 -1.8,0zM400.1,674.8a0.9,0.9 0 1 0 1.8,0a0.9,0.9 0 1 0 -1.8,0zM453.0,700.4a0.9,0.9 0 1 0 1.8,0a0.9,0.9 0 1 0 -1.8,0zM407.2,679.1a0.9,0.9 0 1 0 1.8,0a0.9,0.9 0 1 0 -1.8,0zM422.0,721.5a0.9,0.9 0 1 0 1.8,0a0.9,0.9 0 1 0 -1.8,0zM411.1,692.4a0.9,0.9 0 1 0 1.8,0a0.9,0.9 0 1 0 -1.8,0zM377.7,697.5a0.9,0.9 0 1 0 1.8,0a0.9,0.9 0 1 0 -1.8,0zM441.3,671.4a0.9,0.9 0 1 0 1.8,0a0.9,0.9 0 1 0 -1.8,0zM432.9,730.4a0.9,0.9 0 1 0 1.8,0a0.9,0.9 0 1 0 -1.8,0zM424.9,718.7a0.9,0.9 0 1 0 1.8,0a0.9,0.9 0 1 0 -1.8,0zM383.5,693.3a0.9,0.9 0 1 0 1.8,0a0.9,0.9 0 1 0 -1.8,0zM386.9,722.8a0.9,0.9 0 1 0 1.8,0a0.9,0.9 0 1 0 -1.8,0zM398.4,694.6a0.9,0.9 0 1 0 1.8,0a0.9,0.9 0 1 0 -1.8,0zM452.2,694.7a0.9,0.9 0 1 0 1.8,0a0.9,0.9 0 1 0 -1.8,0zM413.7,714.5a0.9,0.9 0 1 0 1.8,0a0.9,0.9 0 1 0 -1.8,0zM412.9,683.0a0.9,0.9 0 1 0 1.8,0a0.9,0.9 0 1 0 -1.8,0zM407.0,672.5a0.9,0.9 0 1 0 1.8,0a0.9,0.9 0 1 0 -1.8,0zM404.9,733.2a0.9,0.9 0 1 0 1.8,0a0.9,0.9 0 1 0 -1.8,0zM450.9,707.1a0.9,0.9 0 1 0 1.8,0a0.9,0.9 0 1 0 -1.8,0zM414.5,686.4a0.9,0.9 0 1 0 1.8,0a0.9,0.9 0 1 0 -1.8,0zM382.1,681.6a0.9,0.9 0 1 0 1.8,0a0.9,0.9 0 1 0 -1.8,0zM436.9,724.5a0.9,0.9 0 1 0 1.8,0a0.9,0.9 0 1 0 -1.8,0zM403.6,718.6a0.9,0.9 0 1 0 1.8,0a0.9,0.9 0 1 0 -1.8,0zM436.3,712.0a0.9,0.9 0 1 0 1.8,0a0.9,0.9 0 1 0 -1.8,0zM427.6,716.7a0.9,0.9 0 1 0 1.8,0a0.9,0.9 0 1 0 -1.8,0zM403.8,712.7a0.9,0.9 0 1 0 1.8,0a0.9,0.9 0 1 0 -1.8,0zM397.3,697.0a0.9,0.9 0 1 0 1.8,0a0.9,0.9 0 1 0 -1.8,0zM435.9,711.7a0.9,0.9 0 1 0 1.8,0a0.9,0.9 0 1 0 -1.8,0zM398.3,730.1a0.9,0.9 0 1 0 1.8,0a0.9,0.9 0 1 0 -1.8,0zM426.4,703.8a0.9,0.9 0 1 0 1.8,0a0.9,0.9 0 1 0 -1.8,0z" fill="none" stroke="#c8c8e8" stroke-width="0.4" opacity="0.5"/>
<text x="413.30" y="657.60" font-size="10.2" font-weight="bold" fill="#fff" text-anchor="middle">Assemble</text>
<clipPath id="k3"><rect x="229.4" y="746.5" width="239.4" height="99.5"/></clipPath>
<rect x="229.4" y="746.5" width="239.4" height="99.5" fill="#000"/>
<g clip-path="url(#k3)">
<path d="M229.4,754.5 Q238,752 245.8,752 L263.6,751.5 Q273,752 279.6,754.7 Q286,757 289.4,761.8 Q293.5,766 293,770 Q292,774 286,776 L270,790 Q268,800 272,806 Q290,806 304,809 Q313,812 312,819 Q309,826 298,828 Q293,830 290,833 Q287,839 281,846 L229.4,846Z" fill="#5cc3ea"/>
<path d="M229.4,770 Q240,766 252,772 Q262,780 262,795 Q260,812 250,822 Q240,832 229.4,836Z" fill="#4fb4de" opacity="0.7"/>
<path d="M240,800 Q250,790 262,788 M272,818 Q285,821 300,820" fill="none" stroke="#3aa0cc" stroke-width="1"/>
<defs><linearGradient id="gelg" x1="0" y1="0" x2="1" y2="0"><stop offset="0" stop-color="#8a52b8"/><stop offset="0.3" stop-color="#9a4ea8"/><stop offset="0.5" stop-color="#c04a86"/><stop offset="0.68" stop-color="#6a5aa8"/><stop offset="0.85" stop-color="#4a6cc8"/><stop offset="1" stop-color="#3a74d4"/></linearGradient></defs>
<path d="M262,778 Q268,772 285,772.5 Q310,774 330,778 Q350,780 362,781 L392,781 Q398,800 392,819 L360,819 Q345,817 330,812 Q310,811 290,812.6 Q268,812 262,804 Q258,790 262,778Z" fill="url(#gelg)"/>
<ellipse cx="284" cy="793" rx="21" ry="19" fill="#9a66d6" opacity="0.55"/>
<ellipse cx="377" cy="800.5" rx="18" ry="19.5" fill="#3f7ad4" opacity="0.85"/>
<path d="M280,786 l4,1 l-2,2 l5,0 M281,798 l3,2 M373,796 l3,-2 l1,3 M345,795 l6,0 M330,800 l5,0 M318,788 l4,0 M352,786 l5,1 M340,805 l4,0 M308,800 l3,1 M365,790 l4,0 M296,791 l3,0" stroke="#ffffff" stroke-width="0.9" fill="none" opacity="0.7"/>
<path d="M468.8,782.5 Q430,780 387.4,783.9 Q389,792 390.3,797.1 Q393.5,801 393.1,804.7 Q393,809 391.2,812.3 Q388,818 386.5,823.7 Q384.5,834 384.6,846 L468.8,846Z" fill="#5cc3ea"/>
<path d="M400,800 Q425,795 450,805 Q462,815 468.8,818 L468.8,846 L420,846 Q405,830 400,800Z" fill="#52b8e2" opacity="0.6"/>
</g>
<text x="408.20" y="758.80" font-size="10.2" font-weight="bold" fill="#fff" text-anchor="middle">120 s</text>
<path d="M335.60,656.20 L368.00,656.20 L368.00,658.90 L373.60,653.70 L368.00,648.50 L368.00,651.20 L335.60,651.20Z" fill="#f6200f"/>
<path d="M363.5,731 Q392,738 389,752 Q386,760 372,763 L372.5,767.5 L363,761.5 L370,755.5 L370.5,759 Q382,757 383,751 Q385,742 362,735.5Z" fill="#f6200f"/>
</svg>
</body></html>
